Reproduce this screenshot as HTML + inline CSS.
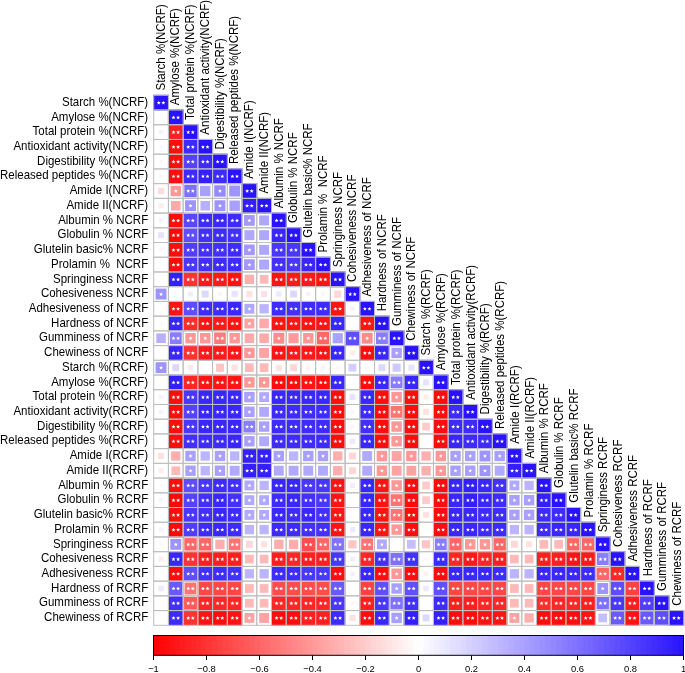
<!DOCTYPE html>
<html><head><meta charset="utf-8"><style>
html,body{margin:0;padding:0;background:#fff;}
body{width:685px;height:673px;overflow:hidden;position:relative;}
svg{position:absolute;left:0;top:0;will-change:transform;}
text{font-family:"Liberation Sans",sans-serif;}
</style></head><body>
<svg width="685" height="673" viewBox="0 0 685 673">

<g fill="#fff" stroke="none"><rect x="153.70" y="95.30" width="14.72" height="14.72"/><rect x="153.70" y="110.02" width="14.72" height="14.72"/><rect x="168.42" y="110.02" width="14.72" height="14.72"/><rect x="153.70" y="124.74" width="14.72" height="14.72"/><rect x="168.42" y="124.74" width="14.72" height="14.72"/><rect x="183.14" y="124.74" width="14.72" height="14.72"/><rect x="153.70" y="139.47" width="14.72" height="14.72"/><rect x="168.42" y="139.47" width="14.72" height="14.72"/><rect x="183.14" y="139.47" width="14.72" height="14.72"/><rect x="197.87" y="139.47" width="14.72" height="14.72"/><rect x="153.70" y="154.19" width="14.72" height="14.72"/><rect x="168.42" y="154.19" width="14.72" height="14.72"/><rect x="183.14" y="154.19" width="14.72" height="14.72"/><rect x="197.87" y="154.19" width="14.72" height="14.72"/><rect x="212.59" y="154.19" width="14.72" height="14.72"/><rect x="153.70" y="168.91" width="14.72" height="14.72"/><rect x="168.42" y="168.91" width="14.72" height="14.72"/><rect x="183.14" y="168.91" width="14.72" height="14.72"/><rect x="197.87" y="168.91" width="14.72" height="14.72"/><rect x="212.59" y="168.91" width="14.72" height="14.72"/><rect x="227.31" y="168.91" width="14.72" height="14.72"/><rect x="153.70" y="183.63" width="14.72" height="14.72"/><rect x="168.42" y="183.63" width="14.72" height="14.72"/><rect x="183.14" y="183.63" width="14.72" height="14.72"/><rect x="197.87" y="183.63" width="14.72" height="14.72"/><rect x="212.59" y="183.63" width="14.72" height="14.72"/><rect x="227.31" y="183.63" width="14.72" height="14.72"/><rect x="242.03" y="183.63" width="14.72" height="14.72"/><rect x="153.70" y="198.36" width="14.72" height="14.72"/><rect x="168.42" y="198.36" width="14.72" height="14.72"/><rect x="183.14" y="198.36" width="14.72" height="14.72"/><rect x="197.87" y="198.36" width="14.72" height="14.72"/><rect x="212.59" y="198.36" width="14.72" height="14.72"/><rect x="227.31" y="198.36" width="14.72" height="14.72"/><rect x="242.03" y="198.36" width="14.72" height="14.72"/><rect x="256.76" y="198.36" width="14.72" height="14.72"/><rect x="153.70" y="213.08" width="14.72" height="14.72"/><rect x="168.42" y="213.08" width="14.72" height="14.72"/><rect x="183.14" y="213.08" width="14.72" height="14.72"/><rect x="197.87" y="213.08" width="14.72" height="14.72"/><rect x="212.59" y="213.08" width="14.72" height="14.72"/><rect x="227.31" y="213.08" width="14.72" height="14.72"/><rect x="242.03" y="213.08" width="14.72" height="14.72"/><rect x="256.76" y="213.08" width="14.72" height="14.72"/><rect x="271.48" y="213.08" width="14.72" height="14.72"/><rect x="153.70" y="227.80" width="14.72" height="14.72"/><rect x="168.42" y="227.80" width="14.72" height="14.72"/><rect x="183.14" y="227.80" width="14.72" height="14.72"/><rect x="197.87" y="227.80" width="14.72" height="14.72"/><rect x="212.59" y="227.80" width="14.72" height="14.72"/><rect x="227.31" y="227.80" width="14.72" height="14.72"/><rect x="242.03" y="227.80" width="14.72" height="14.72"/><rect x="256.76" y="227.80" width="14.72" height="14.72"/><rect x="271.48" y="227.80" width="14.72" height="14.72"/><rect x="286.20" y="227.80" width="14.72" height="14.72"/><rect x="153.70" y="242.52" width="14.72" height="14.72"/><rect x="168.42" y="242.52" width="14.72" height="14.72"/><rect x="183.14" y="242.52" width="14.72" height="14.72"/><rect x="197.87" y="242.52" width="14.72" height="14.72"/><rect x="212.59" y="242.52" width="14.72" height="14.72"/><rect x="227.31" y="242.52" width="14.72" height="14.72"/><rect x="242.03" y="242.52" width="14.72" height="14.72"/><rect x="256.76" y="242.52" width="14.72" height="14.72"/><rect x="271.48" y="242.52" width="14.72" height="14.72"/><rect x="286.20" y="242.52" width="14.72" height="14.72"/><rect x="300.92" y="242.52" width="14.72" height="14.72"/><rect x="153.70" y="257.24" width="14.72" height="14.72"/><rect x="168.42" y="257.24" width="14.72" height="14.72"/><rect x="183.14" y="257.24" width="14.72" height="14.72"/><rect x="197.87" y="257.24" width="14.72" height="14.72"/><rect x="212.59" y="257.24" width="14.72" height="14.72"/><rect x="227.31" y="257.24" width="14.72" height="14.72"/><rect x="242.03" y="257.24" width="14.72" height="14.72"/><rect x="256.76" y="257.24" width="14.72" height="14.72"/><rect x="271.48" y="257.24" width="14.72" height="14.72"/><rect x="286.20" y="257.24" width="14.72" height="14.72"/><rect x="300.92" y="257.24" width="14.72" height="14.72"/><rect x="315.64" y="257.24" width="14.72" height="14.72"/><rect x="153.70" y="271.97" width="14.72" height="14.72"/><rect x="168.42" y="271.97" width="14.72" height="14.72"/><rect x="183.14" y="271.97" width="14.72" height="14.72"/><rect x="197.87" y="271.97" width="14.72" height="14.72"/><rect x="212.59" y="271.97" width="14.72" height="14.72"/><rect x="227.31" y="271.97" width="14.72" height="14.72"/><rect x="242.03" y="271.97" width="14.72" height="14.72"/><rect x="256.76" y="271.97" width="14.72" height="14.72"/><rect x="271.48" y="271.97" width="14.72" height="14.72"/><rect x="286.20" y="271.97" width="14.72" height="14.72"/><rect x="300.92" y="271.97" width="14.72" height="14.72"/><rect x="315.64" y="271.97" width="14.72" height="14.72"/><rect x="330.37" y="271.97" width="14.72" height="14.72"/><rect x="153.70" y="286.69" width="14.72" height="14.72"/><rect x="168.42" y="286.69" width="14.72" height="14.72"/><rect x="183.14" y="286.69" width="14.72" height="14.72"/><rect x="197.87" y="286.69" width="14.72" height="14.72"/><rect x="212.59" y="286.69" width="14.72" height="14.72"/><rect x="227.31" y="286.69" width="14.72" height="14.72"/><rect x="242.03" y="286.69" width="14.72" height="14.72"/><rect x="256.76" y="286.69" width="14.72" height="14.72"/><rect x="271.48" y="286.69" width="14.72" height="14.72"/><rect x="286.20" y="286.69" width="14.72" height="14.72"/><rect x="300.92" y="286.69" width="14.72" height="14.72"/><rect x="315.64" y="286.69" width="14.72" height="14.72"/><rect x="330.37" y="286.69" width="14.72" height="14.72"/><rect x="345.09" y="286.69" width="14.72" height="14.72"/><rect x="153.70" y="301.41" width="14.72" height="14.72"/><rect x="168.42" y="301.41" width="14.72" height="14.72"/><rect x="183.14" y="301.41" width="14.72" height="14.72"/><rect x="197.87" y="301.41" width="14.72" height="14.72"/><rect x="212.59" y="301.41" width="14.72" height="14.72"/><rect x="227.31" y="301.41" width="14.72" height="14.72"/><rect x="242.03" y="301.41" width="14.72" height="14.72"/><rect x="256.76" y="301.41" width="14.72" height="14.72"/><rect x="271.48" y="301.41" width="14.72" height="14.72"/><rect x="286.20" y="301.41" width="14.72" height="14.72"/><rect x="300.92" y="301.41" width="14.72" height="14.72"/><rect x="315.64" y="301.41" width="14.72" height="14.72"/><rect x="330.37" y="301.41" width="14.72" height="14.72"/><rect x="345.09" y="301.41" width="14.72" height="14.72"/><rect x="359.81" y="301.41" width="14.72" height="14.72"/><rect x="153.70" y="316.13" width="14.72" height="14.72"/><rect x="168.42" y="316.13" width="14.72" height="14.72"/><rect x="183.14" y="316.13" width="14.72" height="14.72"/><rect x="197.87" y="316.13" width="14.72" height="14.72"/><rect x="212.59" y="316.13" width="14.72" height="14.72"/><rect x="227.31" y="316.13" width="14.72" height="14.72"/><rect x="242.03" y="316.13" width="14.72" height="14.72"/><rect x="256.76" y="316.13" width="14.72" height="14.72"/><rect x="271.48" y="316.13" width="14.72" height="14.72"/><rect x="286.20" y="316.13" width="14.72" height="14.72"/><rect x="300.92" y="316.13" width="14.72" height="14.72"/><rect x="315.64" y="316.13" width="14.72" height="14.72"/><rect x="330.37" y="316.13" width="14.72" height="14.72"/><rect x="345.09" y="316.13" width="14.72" height="14.72"/><rect x="359.81" y="316.13" width="14.72" height="14.72"/><rect x="374.53" y="316.13" width="14.72" height="14.72"/><rect x="153.70" y="330.86" width="14.72" height="14.72"/><rect x="168.42" y="330.86" width="14.72" height="14.72"/><rect x="183.14" y="330.86" width="14.72" height="14.72"/><rect x="197.87" y="330.86" width="14.72" height="14.72"/><rect x="212.59" y="330.86" width="14.72" height="14.72"/><rect x="227.31" y="330.86" width="14.72" height="14.72"/><rect x="242.03" y="330.86" width="14.72" height="14.72"/><rect x="256.76" y="330.86" width="14.72" height="14.72"/><rect x="271.48" y="330.86" width="14.72" height="14.72"/><rect x="286.20" y="330.86" width="14.72" height="14.72"/><rect x="300.92" y="330.86" width="14.72" height="14.72"/><rect x="315.64" y="330.86" width="14.72" height="14.72"/><rect x="330.37" y="330.86" width="14.72" height="14.72"/><rect x="345.09" y="330.86" width="14.72" height="14.72"/><rect x="359.81" y="330.86" width="14.72" height="14.72"/><rect x="374.53" y="330.86" width="14.72" height="14.72"/><rect x="389.26" y="330.86" width="14.72" height="14.72"/><rect x="153.70" y="345.58" width="14.72" height="14.72"/><rect x="168.42" y="345.58" width="14.72" height="14.72"/><rect x="183.14" y="345.58" width="14.72" height="14.72"/><rect x="197.87" y="345.58" width="14.72" height="14.72"/><rect x="212.59" y="345.58" width="14.72" height="14.72"/><rect x="227.31" y="345.58" width="14.72" height="14.72"/><rect x="242.03" y="345.58" width="14.72" height="14.72"/><rect x="256.76" y="345.58" width="14.72" height="14.72"/><rect x="271.48" y="345.58" width="14.72" height="14.72"/><rect x="286.20" y="345.58" width="14.72" height="14.72"/><rect x="300.92" y="345.58" width="14.72" height="14.72"/><rect x="315.64" y="345.58" width="14.72" height="14.72"/><rect x="330.37" y="345.58" width="14.72" height="14.72"/><rect x="345.09" y="345.58" width="14.72" height="14.72"/><rect x="359.81" y="345.58" width="14.72" height="14.72"/><rect x="374.53" y="345.58" width="14.72" height="14.72"/><rect x="389.26" y="345.58" width="14.72" height="14.72"/><rect x="403.98" y="345.58" width="14.72" height="14.72"/><rect x="153.70" y="360.30" width="14.72" height="14.72"/><rect x="168.42" y="360.30" width="14.72" height="14.72"/><rect x="183.14" y="360.30" width="14.72" height="14.72"/><rect x="197.87" y="360.30" width="14.72" height="14.72"/><rect x="212.59" y="360.30" width="14.72" height="14.72"/><rect x="227.31" y="360.30" width="14.72" height="14.72"/><rect x="242.03" y="360.30" width="14.72" height="14.72"/><rect x="256.76" y="360.30" width="14.72" height="14.72"/><rect x="271.48" y="360.30" width="14.72" height="14.72"/><rect x="286.20" y="360.30" width="14.72" height="14.72"/><rect x="300.92" y="360.30" width="14.72" height="14.72"/><rect x="315.64" y="360.30" width="14.72" height="14.72"/><rect x="330.37" y="360.30" width="14.72" height="14.72"/><rect x="345.09" y="360.30" width="14.72" height="14.72"/><rect x="359.81" y="360.30" width="14.72" height="14.72"/><rect x="374.53" y="360.30" width="14.72" height="14.72"/><rect x="389.26" y="360.30" width="14.72" height="14.72"/><rect x="403.98" y="360.30" width="14.72" height="14.72"/><rect x="418.70" y="360.30" width="14.72" height="14.72"/><rect x="153.70" y="375.02" width="14.72" height="14.72"/><rect x="168.42" y="375.02" width="14.72" height="14.72"/><rect x="183.14" y="375.02" width="14.72" height="14.72"/><rect x="197.87" y="375.02" width="14.72" height="14.72"/><rect x="212.59" y="375.02" width="14.72" height="14.72"/><rect x="227.31" y="375.02" width="14.72" height="14.72"/><rect x="242.03" y="375.02" width="14.72" height="14.72"/><rect x="256.76" y="375.02" width="14.72" height="14.72"/><rect x="271.48" y="375.02" width="14.72" height="14.72"/><rect x="286.20" y="375.02" width="14.72" height="14.72"/><rect x="300.92" y="375.02" width="14.72" height="14.72"/><rect x="315.64" y="375.02" width="14.72" height="14.72"/><rect x="330.37" y="375.02" width="14.72" height="14.72"/><rect x="345.09" y="375.02" width="14.72" height="14.72"/><rect x="359.81" y="375.02" width="14.72" height="14.72"/><rect x="374.53" y="375.02" width="14.72" height="14.72"/><rect x="389.26" y="375.02" width="14.72" height="14.72"/><rect x="403.98" y="375.02" width="14.72" height="14.72"/><rect x="418.70" y="375.02" width="14.72" height="14.72"/><rect x="433.42" y="375.02" width="14.72" height="14.72"/><rect x="153.70" y="389.74" width="14.72" height="14.72"/><rect x="168.42" y="389.74" width="14.72" height="14.72"/><rect x="183.14" y="389.74" width="14.72" height="14.72"/><rect x="197.87" y="389.74" width="14.72" height="14.72"/><rect x="212.59" y="389.74" width="14.72" height="14.72"/><rect x="227.31" y="389.74" width="14.72" height="14.72"/><rect x="242.03" y="389.74" width="14.72" height="14.72"/><rect x="256.76" y="389.74" width="14.72" height="14.72"/><rect x="271.48" y="389.74" width="14.72" height="14.72"/><rect x="286.20" y="389.74" width="14.72" height="14.72"/><rect x="300.92" y="389.74" width="14.72" height="14.72"/><rect x="315.64" y="389.74" width="14.72" height="14.72"/><rect x="330.37" y="389.74" width="14.72" height="14.72"/><rect x="345.09" y="389.74" width="14.72" height="14.72"/><rect x="359.81" y="389.74" width="14.72" height="14.72"/><rect x="374.53" y="389.74" width="14.72" height="14.72"/><rect x="389.26" y="389.74" width="14.72" height="14.72"/><rect x="403.98" y="389.74" width="14.72" height="14.72"/><rect x="418.70" y="389.74" width="14.72" height="14.72"/><rect x="433.42" y="389.74" width="14.72" height="14.72"/><rect x="448.14" y="389.74" width="14.72" height="14.72"/><rect x="153.70" y="404.47" width="14.72" height="14.72"/><rect x="168.42" y="404.47" width="14.72" height="14.72"/><rect x="183.14" y="404.47" width="14.72" height="14.72"/><rect x="197.87" y="404.47" width="14.72" height="14.72"/><rect x="212.59" y="404.47" width="14.72" height="14.72"/><rect x="227.31" y="404.47" width="14.72" height="14.72"/><rect x="242.03" y="404.47" width="14.72" height="14.72"/><rect x="256.76" y="404.47" width="14.72" height="14.72"/><rect x="271.48" y="404.47" width="14.72" height="14.72"/><rect x="286.20" y="404.47" width="14.72" height="14.72"/><rect x="300.92" y="404.47" width="14.72" height="14.72"/><rect x="315.64" y="404.47" width="14.72" height="14.72"/><rect x="330.37" y="404.47" width="14.72" height="14.72"/><rect x="345.09" y="404.47" width="14.72" height="14.72"/><rect x="359.81" y="404.47" width="14.72" height="14.72"/><rect x="374.53" y="404.47" width="14.72" height="14.72"/><rect x="389.26" y="404.47" width="14.72" height="14.72"/><rect x="403.98" y="404.47" width="14.72" height="14.72"/><rect x="418.70" y="404.47" width="14.72" height="14.72"/><rect x="433.42" y="404.47" width="14.72" height="14.72"/><rect x="448.14" y="404.47" width="14.72" height="14.72"/><rect x="462.87" y="404.47" width="14.72" height="14.72"/><rect x="153.70" y="419.19" width="14.72" height="14.72"/><rect x="168.42" y="419.19" width="14.72" height="14.72"/><rect x="183.14" y="419.19" width="14.72" height="14.72"/><rect x="197.87" y="419.19" width="14.72" height="14.72"/><rect x="212.59" y="419.19" width="14.72" height="14.72"/><rect x="227.31" y="419.19" width="14.72" height="14.72"/><rect x="242.03" y="419.19" width="14.72" height="14.72"/><rect x="256.76" y="419.19" width="14.72" height="14.72"/><rect x="271.48" y="419.19" width="14.72" height="14.72"/><rect x="286.20" y="419.19" width="14.72" height="14.72"/><rect x="300.92" y="419.19" width="14.72" height="14.72"/><rect x="315.64" y="419.19" width="14.72" height="14.72"/><rect x="330.37" y="419.19" width="14.72" height="14.72"/><rect x="345.09" y="419.19" width="14.72" height="14.72"/><rect x="359.81" y="419.19" width="14.72" height="14.72"/><rect x="374.53" y="419.19" width="14.72" height="14.72"/><rect x="389.26" y="419.19" width="14.72" height="14.72"/><rect x="403.98" y="419.19" width="14.72" height="14.72"/><rect x="418.70" y="419.19" width="14.72" height="14.72"/><rect x="433.42" y="419.19" width="14.72" height="14.72"/><rect x="448.14" y="419.19" width="14.72" height="14.72"/><rect x="462.87" y="419.19" width="14.72" height="14.72"/><rect x="477.59" y="419.19" width="14.72" height="14.72"/><rect x="153.70" y="433.91" width="14.72" height="14.72"/><rect x="168.42" y="433.91" width="14.72" height="14.72"/><rect x="183.14" y="433.91" width="14.72" height="14.72"/><rect x="197.87" y="433.91" width="14.72" height="14.72"/><rect x="212.59" y="433.91" width="14.72" height="14.72"/><rect x="227.31" y="433.91" width="14.72" height="14.72"/><rect x="242.03" y="433.91" width="14.72" height="14.72"/><rect x="256.76" y="433.91" width="14.72" height="14.72"/><rect x="271.48" y="433.91" width="14.72" height="14.72"/><rect x="286.20" y="433.91" width="14.72" height="14.72"/><rect x="300.92" y="433.91" width="14.72" height="14.72"/><rect x="315.64" y="433.91" width="14.72" height="14.72"/><rect x="330.37" y="433.91" width="14.72" height="14.72"/><rect x="345.09" y="433.91" width="14.72" height="14.72"/><rect x="359.81" y="433.91" width="14.72" height="14.72"/><rect x="374.53" y="433.91" width="14.72" height="14.72"/><rect x="389.26" y="433.91" width="14.72" height="14.72"/><rect x="403.98" y="433.91" width="14.72" height="14.72"/><rect x="418.70" y="433.91" width="14.72" height="14.72"/><rect x="433.42" y="433.91" width="14.72" height="14.72"/><rect x="448.14" y="433.91" width="14.72" height="14.72"/><rect x="462.87" y="433.91" width="14.72" height="14.72"/><rect x="477.59" y="433.91" width="14.72" height="14.72"/><rect x="492.31" y="433.91" width="14.72" height="14.72"/><rect x="153.70" y="448.63" width="14.72" height="14.72"/><rect x="168.42" y="448.63" width="14.72" height="14.72"/><rect x="183.14" y="448.63" width="14.72" height="14.72"/><rect x="197.87" y="448.63" width="14.72" height="14.72"/><rect x="212.59" y="448.63" width="14.72" height="14.72"/><rect x="227.31" y="448.63" width="14.72" height="14.72"/><rect x="242.03" y="448.63" width="14.72" height="14.72"/><rect x="256.76" y="448.63" width="14.72" height="14.72"/><rect x="271.48" y="448.63" width="14.72" height="14.72"/><rect x="286.20" y="448.63" width="14.72" height="14.72"/><rect x="300.92" y="448.63" width="14.72" height="14.72"/><rect x="315.64" y="448.63" width="14.72" height="14.72"/><rect x="330.37" y="448.63" width="14.72" height="14.72"/><rect x="345.09" y="448.63" width="14.72" height="14.72"/><rect x="359.81" y="448.63" width="14.72" height="14.72"/><rect x="374.53" y="448.63" width="14.72" height="14.72"/><rect x="389.26" y="448.63" width="14.72" height="14.72"/><rect x="403.98" y="448.63" width="14.72" height="14.72"/><rect x="418.70" y="448.63" width="14.72" height="14.72"/><rect x="433.42" y="448.63" width="14.72" height="14.72"/><rect x="448.14" y="448.63" width="14.72" height="14.72"/><rect x="462.87" y="448.63" width="14.72" height="14.72"/><rect x="477.59" y="448.63" width="14.72" height="14.72"/><rect x="492.31" y="448.63" width="14.72" height="14.72"/><rect x="507.03" y="448.63" width="14.72" height="14.72"/><rect x="153.70" y="463.36" width="14.72" height="14.72"/><rect x="168.42" y="463.36" width="14.72" height="14.72"/><rect x="183.14" y="463.36" width="14.72" height="14.72"/><rect x="197.87" y="463.36" width="14.72" height="14.72"/><rect x="212.59" y="463.36" width="14.72" height="14.72"/><rect x="227.31" y="463.36" width="14.72" height="14.72"/><rect x="242.03" y="463.36" width="14.72" height="14.72"/><rect x="256.76" y="463.36" width="14.72" height="14.72"/><rect x="271.48" y="463.36" width="14.72" height="14.72"/><rect x="286.20" y="463.36" width="14.72" height="14.72"/><rect x="300.92" y="463.36" width="14.72" height="14.72"/><rect x="315.64" y="463.36" width="14.72" height="14.72"/><rect x="330.37" y="463.36" width="14.72" height="14.72"/><rect x="345.09" y="463.36" width="14.72" height="14.72"/><rect x="359.81" y="463.36" width="14.72" height="14.72"/><rect x="374.53" y="463.36" width="14.72" height="14.72"/><rect x="389.26" y="463.36" width="14.72" height="14.72"/><rect x="403.98" y="463.36" width="14.72" height="14.72"/><rect x="418.70" y="463.36" width="14.72" height="14.72"/><rect x="433.42" y="463.36" width="14.72" height="14.72"/><rect x="448.14" y="463.36" width="14.72" height="14.72"/><rect x="462.87" y="463.36" width="14.72" height="14.72"/><rect x="477.59" y="463.36" width="14.72" height="14.72"/><rect x="492.31" y="463.36" width="14.72" height="14.72"/><rect x="507.03" y="463.36" width="14.72" height="14.72"/><rect x="521.76" y="463.36" width="14.72" height="14.72"/><rect x="153.70" y="478.08" width="14.72" height="14.72"/><rect x="168.42" y="478.08" width="14.72" height="14.72"/><rect x="183.14" y="478.08" width="14.72" height="14.72"/><rect x="197.87" y="478.08" width="14.72" height="14.72"/><rect x="212.59" y="478.08" width="14.72" height="14.72"/><rect x="227.31" y="478.08" width="14.72" height="14.72"/><rect x="242.03" y="478.08" width="14.72" height="14.72"/><rect x="256.76" y="478.08" width="14.72" height="14.72"/><rect x="271.48" y="478.08" width="14.72" height="14.72"/><rect x="286.20" y="478.08" width="14.72" height="14.72"/><rect x="300.92" y="478.08" width="14.72" height="14.72"/><rect x="315.64" y="478.08" width="14.72" height="14.72"/><rect x="330.37" y="478.08" width="14.72" height="14.72"/><rect x="345.09" y="478.08" width="14.72" height="14.72"/><rect x="359.81" y="478.08" width="14.72" height="14.72"/><rect x="374.53" y="478.08" width="14.72" height="14.72"/><rect x="389.26" y="478.08" width="14.72" height="14.72"/><rect x="403.98" y="478.08" width="14.72" height="14.72"/><rect x="418.70" y="478.08" width="14.72" height="14.72"/><rect x="433.42" y="478.08" width="14.72" height="14.72"/><rect x="448.14" y="478.08" width="14.72" height="14.72"/><rect x="462.87" y="478.08" width="14.72" height="14.72"/><rect x="477.59" y="478.08" width="14.72" height="14.72"/><rect x="492.31" y="478.08" width="14.72" height="14.72"/><rect x="507.03" y="478.08" width="14.72" height="14.72"/><rect x="521.76" y="478.08" width="14.72" height="14.72"/><rect x="536.48" y="478.08" width="14.72" height="14.72"/><rect x="153.70" y="492.80" width="14.72" height="14.72"/><rect x="168.42" y="492.80" width="14.72" height="14.72"/><rect x="183.14" y="492.80" width="14.72" height="14.72"/><rect x="197.87" y="492.80" width="14.72" height="14.72"/><rect x="212.59" y="492.80" width="14.72" height="14.72"/><rect x="227.31" y="492.80" width="14.72" height="14.72"/><rect x="242.03" y="492.80" width="14.72" height="14.72"/><rect x="256.76" y="492.80" width="14.72" height="14.72"/><rect x="271.48" y="492.80" width="14.72" height="14.72"/><rect x="286.20" y="492.80" width="14.72" height="14.72"/><rect x="300.92" y="492.80" width="14.72" height="14.72"/><rect x="315.64" y="492.80" width="14.72" height="14.72"/><rect x="330.37" y="492.80" width="14.72" height="14.72"/><rect x="345.09" y="492.80" width="14.72" height="14.72"/><rect x="359.81" y="492.80" width="14.72" height="14.72"/><rect x="374.53" y="492.80" width="14.72" height="14.72"/><rect x="389.26" y="492.80" width="14.72" height="14.72"/><rect x="403.98" y="492.80" width="14.72" height="14.72"/><rect x="418.70" y="492.80" width="14.72" height="14.72"/><rect x="433.42" y="492.80" width="14.72" height="14.72"/><rect x="448.14" y="492.80" width="14.72" height="14.72"/><rect x="462.87" y="492.80" width="14.72" height="14.72"/><rect x="477.59" y="492.80" width="14.72" height="14.72"/><rect x="492.31" y="492.80" width="14.72" height="14.72"/><rect x="507.03" y="492.80" width="14.72" height="14.72"/><rect x="521.76" y="492.80" width="14.72" height="14.72"/><rect x="536.48" y="492.80" width="14.72" height="14.72"/><rect x="551.20" y="492.80" width="14.72" height="14.72"/><rect x="153.70" y="507.52" width="14.72" height="14.72"/><rect x="168.42" y="507.52" width="14.72" height="14.72"/><rect x="183.14" y="507.52" width="14.72" height="14.72"/><rect x="197.87" y="507.52" width="14.72" height="14.72"/><rect x="212.59" y="507.52" width="14.72" height="14.72"/><rect x="227.31" y="507.52" width="14.72" height="14.72"/><rect x="242.03" y="507.52" width="14.72" height="14.72"/><rect x="256.76" y="507.52" width="14.72" height="14.72"/><rect x="271.48" y="507.52" width="14.72" height="14.72"/><rect x="286.20" y="507.52" width="14.72" height="14.72"/><rect x="300.92" y="507.52" width="14.72" height="14.72"/><rect x="315.64" y="507.52" width="14.72" height="14.72"/><rect x="330.37" y="507.52" width="14.72" height="14.72"/><rect x="345.09" y="507.52" width="14.72" height="14.72"/><rect x="359.81" y="507.52" width="14.72" height="14.72"/><rect x="374.53" y="507.52" width="14.72" height="14.72"/><rect x="389.26" y="507.52" width="14.72" height="14.72"/><rect x="403.98" y="507.52" width="14.72" height="14.72"/><rect x="418.70" y="507.52" width="14.72" height="14.72"/><rect x="433.42" y="507.52" width="14.72" height="14.72"/><rect x="448.14" y="507.52" width="14.72" height="14.72"/><rect x="462.87" y="507.52" width="14.72" height="14.72"/><rect x="477.59" y="507.52" width="14.72" height="14.72"/><rect x="492.31" y="507.52" width="14.72" height="14.72"/><rect x="507.03" y="507.52" width="14.72" height="14.72"/><rect x="521.76" y="507.52" width="14.72" height="14.72"/><rect x="536.48" y="507.52" width="14.72" height="14.72"/><rect x="551.20" y="507.52" width="14.72" height="14.72"/><rect x="565.92" y="507.52" width="14.72" height="14.72"/><rect x="153.70" y="522.24" width="14.72" height="14.72"/><rect x="168.42" y="522.24" width="14.72" height="14.72"/><rect x="183.14" y="522.24" width="14.72" height="14.72"/><rect x="197.87" y="522.24" width="14.72" height="14.72"/><rect x="212.59" y="522.24" width="14.72" height="14.72"/><rect x="227.31" y="522.24" width="14.72" height="14.72"/><rect x="242.03" y="522.24" width="14.72" height="14.72"/><rect x="256.76" y="522.24" width="14.72" height="14.72"/><rect x="271.48" y="522.24" width="14.72" height="14.72"/><rect x="286.20" y="522.24" width="14.72" height="14.72"/><rect x="300.92" y="522.24" width="14.72" height="14.72"/><rect x="315.64" y="522.24" width="14.72" height="14.72"/><rect x="330.37" y="522.24" width="14.72" height="14.72"/><rect x="345.09" y="522.24" width="14.72" height="14.72"/><rect x="359.81" y="522.24" width="14.72" height="14.72"/><rect x="374.53" y="522.24" width="14.72" height="14.72"/><rect x="389.26" y="522.24" width="14.72" height="14.72"/><rect x="403.98" y="522.24" width="14.72" height="14.72"/><rect x="418.70" y="522.24" width="14.72" height="14.72"/><rect x="433.42" y="522.24" width="14.72" height="14.72"/><rect x="448.14" y="522.24" width="14.72" height="14.72"/><rect x="462.87" y="522.24" width="14.72" height="14.72"/><rect x="477.59" y="522.24" width="14.72" height="14.72"/><rect x="492.31" y="522.24" width="14.72" height="14.72"/><rect x="507.03" y="522.24" width="14.72" height="14.72"/><rect x="521.76" y="522.24" width="14.72" height="14.72"/><rect x="536.48" y="522.24" width="14.72" height="14.72"/><rect x="551.20" y="522.24" width="14.72" height="14.72"/><rect x="565.92" y="522.24" width="14.72" height="14.72"/><rect x="580.64" y="522.24" width="14.72" height="14.72"/><rect x="153.70" y="536.97" width="14.72" height="14.72"/><rect x="168.42" y="536.97" width="14.72" height="14.72"/><rect x="183.14" y="536.97" width="14.72" height="14.72"/><rect x="197.87" y="536.97" width="14.72" height="14.72"/><rect x="212.59" y="536.97" width="14.72" height="14.72"/><rect x="227.31" y="536.97" width="14.72" height="14.72"/><rect x="242.03" y="536.97" width="14.72" height="14.72"/><rect x="256.76" y="536.97" width="14.72" height="14.72"/><rect x="271.48" y="536.97" width="14.72" height="14.72"/><rect x="286.20" y="536.97" width="14.72" height="14.72"/><rect x="300.92" y="536.97" width="14.72" height="14.72"/><rect x="315.64" y="536.97" width="14.72" height="14.72"/><rect x="330.37" y="536.97" width="14.72" height="14.72"/><rect x="345.09" y="536.97" width="14.72" height="14.72"/><rect x="359.81" y="536.97" width="14.72" height="14.72"/><rect x="374.53" y="536.97" width="14.72" height="14.72"/><rect x="389.26" y="536.97" width="14.72" height="14.72"/><rect x="403.98" y="536.97" width="14.72" height="14.72"/><rect x="418.70" y="536.97" width="14.72" height="14.72"/><rect x="433.42" y="536.97" width="14.72" height="14.72"/><rect x="448.14" y="536.97" width="14.72" height="14.72"/><rect x="462.87" y="536.97" width="14.72" height="14.72"/><rect x="477.59" y="536.97" width="14.72" height="14.72"/><rect x="492.31" y="536.97" width="14.72" height="14.72"/><rect x="507.03" y="536.97" width="14.72" height="14.72"/><rect x="521.76" y="536.97" width="14.72" height="14.72"/><rect x="536.48" y="536.97" width="14.72" height="14.72"/><rect x="551.20" y="536.97" width="14.72" height="14.72"/><rect x="565.92" y="536.97" width="14.72" height="14.72"/><rect x="580.64" y="536.97" width="14.72" height="14.72"/><rect x="595.37" y="536.97" width="14.72" height="14.72"/><rect x="153.70" y="551.69" width="14.72" height="14.72"/><rect x="168.42" y="551.69" width="14.72" height="14.72"/><rect x="183.14" y="551.69" width="14.72" height="14.72"/><rect x="197.87" y="551.69" width="14.72" height="14.72"/><rect x="212.59" y="551.69" width="14.72" height="14.72"/><rect x="227.31" y="551.69" width="14.72" height="14.72"/><rect x="242.03" y="551.69" width="14.72" height="14.72"/><rect x="256.76" y="551.69" width="14.72" height="14.72"/><rect x="271.48" y="551.69" width="14.72" height="14.72"/><rect x="286.20" y="551.69" width="14.72" height="14.72"/><rect x="300.92" y="551.69" width="14.72" height="14.72"/><rect x="315.64" y="551.69" width="14.72" height="14.72"/><rect x="330.37" y="551.69" width="14.72" height="14.72"/><rect x="345.09" y="551.69" width="14.72" height="14.72"/><rect x="359.81" y="551.69" width="14.72" height="14.72"/><rect x="374.53" y="551.69" width="14.72" height="14.72"/><rect x="389.26" y="551.69" width="14.72" height="14.72"/><rect x="403.98" y="551.69" width="14.72" height="14.72"/><rect x="418.70" y="551.69" width="14.72" height="14.72"/><rect x="433.42" y="551.69" width="14.72" height="14.72"/><rect x="448.14" y="551.69" width="14.72" height="14.72"/><rect x="462.87" y="551.69" width="14.72" height="14.72"/><rect x="477.59" y="551.69" width="14.72" height="14.72"/><rect x="492.31" y="551.69" width="14.72" height="14.72"/><rect x="507.03" y="551.69" width="14.72" height="14.72"/><rect x="521.76" y="551.69" width="14.72" height="14.72"/><rect x="536.48" y="551.69" width="14.72" height="14.72"/><rect x="551.20" y="551.69" width="14.72" height="14.72"/><rect x="565.92" y="551.69" width="14.72" height="14.72"/><rect x="580.64" y="551.69" width="14.72" height="14.72"/><rect x="595.37" y="551.69" width="14.72" height="14.72"/><rect x="610.09" y="551.69" width="14.72" height="14.72"/><rect x="153.70" y="566.41" width="14.72" height="14.72"/><rect x="168.42" y="566.41" width="14.72" height="14.72"/><rect x="183.14" y="566.41" width="14.72" height="14.72"/><rect x="197.87" y="566.41" width="14.72" height="14.72"/><rect x="212.59" y="566.41" width="14.72" height="14.72"/><rect x="227.31" y="566.41" width="14.72" height="14.72"/><rect x="242.03" y="566.41" width="14.72" height="14.72"/><rect x="256.76" y="566.41" width="14.72" height="14.72"/><rect x="271.48" y="566.41" width="14.72" height="14.72"/><rect x="286.20" y="566.41" width="14.72" height="14.72"/><rect x="300.92" y="566.41" width="14.72" height="14.72"/><rect x="315.64" y="566.41" width="14.72" height="14.72"/><rect x="330.37" y="566.41" width="14.72" height="14.72"/><rect x="345.09" y="566.41" width="14.72" height="14.72"/><rect x="359.81" y="566.41" width="14.72" height="14.72"/><rect x="374.53" y="566.41" width="14.72" height="14.72"/><rect x="389.26" y="566.41" width="14.72" height="14.72"/><rect x="403.98" y="566.41" width="14.72" height="14.72"/><rect x="418.70" y="566.41" width="14.72" height="14.72"/><rect x="433.42" y="566.41" width="14.72" height="14.72"/><rect x="448.14" y="566.41" width="14.72" height="14.72"/><rect x="462.87" y="566.41" width="14.72" height="14.72"/><rect x="477.59" y="566.41" width="14.72" height="14.72"/><rect x="492.31" y="566.41" width="14.72" height="14.72"/><rect x="507.03" y="566.41" width="14.72" height="14.72"/><rect x="521.76" y="566.41" width="14.72" height="14.72"/><rect x="536.48" y="566.41" width="14.72" height="14.72"/><rect x="551.20" y="566.41" width="14.72" height="14.72"/><rect x="565.92" y="566.41" width="14.72" height="14.72"/><rect x="580.64" y="566.41" width="14.72" height="14.72"/><rect x="595.37" y="566.41" width="14.72" height="14.72"/><rect x="610.09" y="566.41" width="14.72" height="14.72"/><rect x="624.81" y="566.41" width="14.72" height="14.72"/><rect x="153.70" y="581.13" width="14.72" height="14.72"/><rect x="168.42" y="581.13" width="14.72" height="14.72"/><rect x="183.14" y="581.13" width="14.72" height="14.72"/><rect x="197.87" y="581.13" width="14.72" height="14.72"/><rect x="212.59" y="581.13" width="14.72" height="14.72"/><rect x="227.31" y="581.13" width="14.72" height="14.72"/><rect x="242.03" y="581.13" width="14.72" height="14.72"/><rect x="256.76" y="581.13" width="14.72" height="14.72"/><rect x="271.48" y="581.13" width="14.72" height="14.72"/><rect x="286.20" y="581.13" width="14.72" height="14.72"/><rect x="300.92" y="581.13" width="14.72" height="14.72"/><rect x="315.64" y="581.13" width="14.72" height="14.72"/><rect x="330.37" y="581.13" width="14.72" height="14.72"/><rect x="345.09" y="581.13" width="14.72" height="14.72"/><rect x="359.81" y="581.13" width="14.72" height="14.72"/><rect x="374.53" y="581.13" width="14.72" height="14.72"/><rect x="389.26" y="581.13" width="14.72" height="14.72"/><rect x="403.98" y="581.13" width="14.72" height="14.72"/><rect x="418.70" y="581.13" width="14.72" height="14.72"/><rect x="433.42" y="581.13" width="14.72" height="14.72"/><rect x="448.14" y="581.13" width="14.72" height="14.72"/><rect x="462.87" y="581.13" width="14.72" height="14.72"/><rect x="477.59" y="581.13" width="14.72" height="14.72"/><rect x="492.31" y="581.13" width="14.72" height="14.72"/><rect x="507.03" y="581.13" width="14.72" height="14.72"/><rect x="521.76" y="581.13" width="14.72" height="14.72"/><rect x="536.48" y="581.13" width="14.72" height="14.72"/><rect x="551.20" y="581.13" width="14.72" height="14.72"/><rect x="565.92" y="581.13" width="14.72" height="14.72"/><rect x="580.64" y="581.13" width="14.72" height="14.72"/><rect x="595.37" y="581.13" width="14.72" height="14.72"/><rect x="610.09" y="581.13" width="14.72" height="14.72"/><rect x="624.81" y="581.13" width="14.72" height="14.72"/><rect x="639.53" y="581.13" width="14.72" height="14.72"/><rect x="153.70" y="595.86" width="14.72" height="14.72"/><rect x="168.42" y="595.86" width="14.72" height="14.72"/><rect x="183.14" y="595.86" width="14.72" height="14.72"/><rect x="197.87" y="595.86" width="14.72" height="14.72"/><rect x="212.59" y="595.86" width="14.72" height="14.72"/><rect x="227.31" y="595.86" width="14.72" height="14.72"/><rect x="242.03" y="595.86" width="14.72" height="14.72"/><rect x="256.76" y="595.86" width="14.72" height="14.72"/><rect x="271.48" y="595.86" width="14.72" height="14.72"/><rect x="286.20" y="595.86" width="14.72" height="14.72"/><rect x="300.92" y="595.86" width="14.72" height="14.72"/><rect x="315.64" y="595.86" width="14.72" height="14.72"/><rect x="330.37" y="595.86" width="14.72" height="14.72"/><rect x="345.09" y="595.86" width="14.72" height="14.72"/><rect x="359.81" y="595.86" width="14.72" height="14.72"/><rect x="374.53" y="595.86" width="14.72" height="14.72"/><rect x="389.26" y="595.86" width="14.72" height="14.72"/><rect x="403.98" y="595.86" width="14.72" height="14.72"/><rect x="418.70" y="595.86" width="14.72" height="14.72"/><rect x="433.42" y="595.86" width="14.72" height="14.72"/><rect x="448.14" y="595.86" width="14.72" height="14.72"/><rect x="462.87" y="595.86" width="14.72" height="14.72"/><rect x="477.59" y="595.86" width="14.72" height="14.72"/><rect x="492.31" y="595.86" width="14.72" height="14.72"/><rect x="507.03" y="595.86" width="14.72" height="14.72"/><rect x="521.76" y="595.86" width="14.72" height="14.72"/><rect x="536.48" y="595.86" width="14.72" height="14.72"/><rect x="551.20" y="595.86" width="14.72" height="14.72"/><rect x="565.92" y="595.86" width="14.72" height="14.72"/><rect x="580.64" y="595.86" width="14.72" height="14.72"/><rect x="595.37" y="595.86" width="14.72" height="14.72"/><rect x="610.09" y="595.86" width="14.72" height="14.72"/><rect x="624.81" y="595.86" width="14.72" height="14.72"/><rect x="639.53" y="595.86" width="14.72" height="14.72"/><rect x="654.26" y="595.86" width="14.72" height="14.72"/><rect x="153.70" y="610.58" width="14.72" height="14.72"/><rect x="168.42" y="610.58" width="14.72" height="14.72"/><rect x="183.14" y="610.58" width="14.72" height="14.72"/><rect x="197.87" y="610.58" width="14.72" height="14.72"/><rect x="212.59" y="610.58" width="14.72" height="14.72"/><rect x="227.31" y="610.58" width="14.72" height="14.72"/><rect x="242.03" y="610.58" width="14.72" height="14.72"/><rect x="256.76" y="610.58" width="14.72" height="14.72"/><rect x="271.48" y="610.58" width="14.72" height="14.72"/><rect x="286.20" y="610.58" width="14.72" height="14.72"/><rect x="300.92" y="610.58" width="14.72" height="14.72"/><rect x="315.64" y="610.58" width="14.72" height="14.72"/><rect x="330.37" y="610.58" width="14.72" height="14.72"/><rect x="345.09" y="610.58" width="14.72" height="14.72"/><rect x="359.81" y="610.58" width="14.72" height="14.72"/><rect x="374.53" y="610.58" width="14.72" height="14.72"/><rect x="389.26" y="610.58" width="14.72" height="14.72"/><rect x="403.98" y="610.58" width="14.72" height="14.72"/><rect x="418.70" y="610.58" width="14.72" height="14.72"/><rect x="433.42" y="610.58" width="14.72" height="14.72"/><rect x="448.14" y="610.58" width="14.72" height="14.72"/><rect x="462.87" y="610.58" width="14.72" height="14.72"/><rect x="477.59" y="610.58" width="14.72" height="14.72"/><rect x="492.31" y="610.58" width="14.72" height="14.72"/><rect x="507.03" y="610.58" width="14.72" height="14.72"/><rect x="521.76" y="610.58" width="14.72" height="14.72"/><rect x="536.48" y="610.58" width="14.72" height="14.72"/><rect x="551.20" y="610.58" width="14.72" height="14.72"/><rect x="565.92" y="610.58" width="14.72" height="14.72"/><rect x="580.64" y="610.58" width="14.72" height="14.72"/><rect x="595.37" y="610.58" width="14.72" height="14.72"/><rect x="610.09" y="610.58" width="14.72" height="14.72"/><rect x="624.81" y="610.58" width="14.72" height="14.72"/><rect x="639.53" y="610.58" width="14.72" height="14.72"/><rect x="654.26" y="610.58" width="14.72" height="14.72"/><rect x="668.98" y="610.58" width="14.72" height="14.72"/></g>
<g stroke="none"><rect x="153.20" y="94.80" width="15.72" height="15.72" fill="#2913ff"/><rect x="159.85" y="116.17" width="2.42" height="2.42" fill="#fdfdff"/><rect x="167.92" y="109.52" width="15.72" height="15.72" fill="#2913ff"/><rect x="158.81" y="129.85" width="4.50" height="4.50" fill="#f3f2ff"/><rect x="168.42" y="124.74" width="14.73" height="14.73" fill="#ff2121"/><rect x="182.64" y="124.24" width="15.72" height="15.72" fill="#2913ff"/><rect x="159.25" y="145.01" width="3.63" height="3.63" fill="#f8f7ff"/><rect x="168.11" y="139.15" width="15.35" height="15.35" fill="#ff0d0d"/><rect x="183.02" y="139.34" width="14.97" height="14.97" fill="#3e2bff"/><rect x="197.37" y="138.97" width="15.72" height="15.72" fill="#2913ff"/><rect x="159.25" y="159.74" width="3.63" height="3.63" fill="#fff7f7"/><rect x="168.11" y="153.88" width="15.35" height="15.35" fill="#ff0d0d"/><rect x="183.42" y="154.47" width="14.17" height="14.17" fill="#5442ff"/><rect x="197.74" y="154.07" width="14.97" height="14.97" fill="#3e2bff"/><rect x="212.09" y="153.69" width="15.72" height="15.72" fill="#2913ff"/><rect x="159.25" y="174.46" width="3.63" height="3.63" fill="#f8f7ff"/><rect x="168.11" y="168.60" width="15.35" height="15.35" fill="#ff0d0d"/><rect x="183.02" y="168.79" width="14.97" height="14.97" fill="#3e2bff"/><rect x="197.55" y="168.60" width="15.35" height="15.35" fill="#341fff"/><rect x="212.47" y="168.79" width="14.97" height="14.97" fill="#3e2bff"/><rect x="226.81" y="168.41" width="15.72" height="15.72" fill="#2913ff"/><rect x="157.86" y="187.79" width="6.41" height="6.41" fill="#ffdddd"/><rect x="170.58" y="185.79" width="10.41" height="10.41" fill="#ff9797"/><rect x="184.30" y="184.79" width="12.40" height="12.40" fill="#7f71ff"/><rect x="200.02" y="185.79" width="10.41" height="10.41" fill="#a89fff"/><rect x="214.25" y="185.29" width="11.40" height="11.40" fill="#9489ff"/><rect x="229.21" y="185.54" width="10.92" height="10.92" fill="#9e94ff"/><rect x="241.53" y="183.13" width="15.72" height="15.72" fill="#2913ff"/><rect x="158.56" y="203.22" width="4.99" height="4.99" fill="#ffecec"/><rect x="171.01" y="200.95" width="9.54" height="9.54" fill="#ffa9a9"/><rect x="185.05" y="200.26" width="10.92" height="10.92" fill="#9e94ff"/><rect x="200.46" y="200.95" width="9.54" height="9.54" fill="#b7b0ff"/><rect x="214.49" y="200.26" width="10.92" height="10.92" fill="#9e94ff"/><rect x="229.47" y="200.51" width="10.41" height="10.41" fill="#a89fff"/><rect x="241.72" y="198.04" width="15.35" height="15.35" fill="#341fff"/><rect x="256.26" y="197.86" width="15.72" height="15.72" fill="#2913ff"/><rect x="158.81" y="218.19" width="4.50" height="4.50" fill="#f3f2ff"/><rect x="168.11" y="212.76" width="15.35" height="15.35" fill="#ff0d0d"/><rect x="183.50" y="213.44" width="14.00" height="14.00" fill="#5847ff"/><rect x="197.74" y="212.96" width="14.97" height="14.97" fill="#3e2bff"/><rect x="212.39" y="212.88" width="15.12" height="15.12" fill="#3a26ff"/><rect x="227.19" y="212.96" width="14.97" height="14.97" fill="#3e2bff"/><rect x="244.04" y="215.08" width="10.72" height="10.72" fill="#a298ff"/><rect x="259.12" y="215.45" width="9.98" height="9.98" fill="#afa7ff"/><rect x="270.98" y="212.58" width="15.72" height="15.72" fill="#2913ff"/><rect x="158.04" y="232.14" width="6.04" height="6.04" fill="#e6e3ff"/><rect x="168.03" y="227.41" width="15.50" height="15.50" fill="#ff0808"/><rect x="183.63" y="228.29" width="13.75" height="13.75" fill="#5e4eff"/><rect x="197.82" y="227.76" width="14.81" height="14.81" fill="#432fff"/><rect x="212.47" y="227.68" width="14.97" height="14.97" fill="#3e2bff"/><rect x="227.27" y="227.76" width="14.81" height="14.81" fill="#432fff"/><rect x="244.40" y="230.17" width="9.98" height="9.98" fill="#afa7ff"/><rect x="259.12" y="230.17" width="9.98" height="9.98" fill="#afa7ff"/><rect x="271.28" y="227.60" width="15.12" height="15.12" fill="#3a26ff"/><rect x="285.70" y="227.30" width="15.72" height="15.72" fill="#2913ff"/><rect x="159.09" y="247.91" width="3.94" height="3.94" fill="#fff5f5"/><rect x="168.11" y="242.21" width="15.35" height="15.35" fill="#ff0d0d"/><rect x="183.34" y="242.72" width="14.33" height="14.33" fill="#503dff"/><rect x="197.82" y="242.48" width="14.81" height="14.81" fill="#432fff"/><rect x="212.54" y="242.48" width="14.81" height="14.81" fill="#432fff"/><rect x="227.19" y="242.40" width="14.97" height="14.97" fill="#3e2bff"/><rect x="244.04" y="244.52" width="10.72" height="10.72" fill="#a298ff"/><rect x="259.12" y="244.89" width="9.98" height="9.98" fill="#afa7ff"/><rect x="271.55" y="242.60" width="14.57" height="14.57" fill="#4936ff"/><rect x="286.27" y="242.60" width="14.57" height="14.57" fill="#4936ff"/><rect x="300.42" y="242.02" width="15.72" height="15.72" fill="#2913ff"/><rect x="168.11" y="256.93" width="15.35" height="15.35" fill="#ff0d0d"/><rect x="183.22" y="257.32" width="14.57" height="14.57" fill="#4936ff"/><rect x="197.82" y="257.20" width="14.81" height="14.81" fill="#432fff"/><rect x="212.47" y="257.12" width="14.97" height="14.97" fill="#3e2bff"/><rect x="227.19" y="257.12" width="14.97" height="14.97" fill="#3e2bff"/><rect x="244.04" y="259.25" width="10.72" height="10.72" fill="#a298ff"/><rect x="259.12" y="259.61" width="9.98" height="9.98" fill="#afa7ff"/><rect x="271.43" y="257.20" width="14.81" height="14.81" fill="#432fff"/><rect x="286.27" y="257.32" width="14.57" height="14.57" fill="#4936ff"/><rect x="300.72" y="257.05" width="15.12" height="15.12" fill="#3a26ff"/><rect x="315.14" y="256.74" width="15.72" height="15.72" fill="#2913ff"/><rect x="168.11" y="271.65" width="15.35" height="15.35" fill="#341fff"/><rect x="183.42" y="272.24" width="14.17" height="14.17" fill="#ff3333"/><rect x="197.74" y="271.84" width="14.97" height="14.97" fill="#ff1919"/><rect x="212.47" y="271.84" width="14.97" height="14.97" fill="#ff1919"/><rect x="227.11" y="271.77" width="15.12" height="15.12" fill="#ff1414"/><rect x="244.74" y="274.67" width="9.31" height="9.31" fill="#ffaeae"/><rect x="259.76" y="274.97" width="8.71" height="8.71" fill="#ffb9b9"/><rect x="271.28" y="271.77" width="15.12" height="15.12" fill="#ff1414"/><rect x="286.08" y="271.84" width="14.97" height="14.97" fill="#ff1919"/><rect x="300.80" y="271.84" width="14.97" height="14.97" fill="#ff1919"/><rect x="315.45" y="271.77" width="15.12" height="15.12" fill="#ff1414"/><rect x="329.87" y="271.47" width="15.72" height="15.72" fill="#2913ff"/><rect x="155.60" y="288.59" width="10.92" height="10.92" fill="#9e94ff"/><rect x="174.14" y="292.41" width="3.28" height="3.28" fill="#fff9f9"/><rect x="188.01" y="291.55" width="4.99" height="4.99" fill="#efeeff"/><rect x="201.77" y="290.59" width="6.92" height="6.92" fill="#dcd9ff"/><rect x="217.98" y="292.08" width="3.94" height="3.94" fill="#f6f6ff"/><rect x="231.65" y="291.03" width="6.04" height="6.04" fill="#e6e3ff"/><rect x="246.37" y="291.03" width="6.04" height="6.04" fill="#ffe1e1"/><rect x="261.10" y="291.03" width="6.04" height="6.04" fill="#ffe1e1"/><rect x="276.12" y="291.33" width="5.44" height="5.44" fill="#eceaff"/><rect x="290.10" y="290.59" width="6.92" height="6.92" fill="#dcd9ff"/><rect x="306.03" y="291.80" width="4.50" height="4.50" fill="#f3f2ff"/><rect x="321.19" y="292.24" width="3.63" height="3.63" fill="#f8f7ff"/><rect x="334.27" y="290.59" width="6.92" height="6.92" fill="#ffd6d6"/><rect x="344.59" y="286.19" width="15.72" height="15.72" fill="#2913ff"/><rect x="168.22" y="301.21" width="15.12" height="15.12" fill="#ff1414"/><rect x="183.63" y="301.90" width="13.75" height="13.75" fill="#5e4eff"/><rect x="197.74" y="301.29" width="14.97" height="14.97" fill="#3e2bff"/><rect x="212.47" y="301.29" width="14.97" height="14.97" fill="#3e2bff"/><rect x="227.11" y="301.21" width="15.12" height="15.12" fill="#3a26ff"/><rect x="244.46" y="303.83" width="9.87" height="9.87" fill="#b1a9ff"/><rect x="259.46" y="304.12" width="9.31" height="9.31" fill="#bbb4ff"/><rect x="271.36" y="301.29" width="14.97" height="14.97" fill="#3e2bff"/><rect x="286.16" y="301.37" width="14.81" height="14.81" fill="#432fff"/><rect x="300.80" y="301.29" width="14.97" height="14.97" fill="#3e2bff"/><rect x="315.52" y="301.29" width="14.97" height="14.97" fill="#3e2bff"/><rect x="330.17" y="301.21" width="15.12" height="15.12" fill="#ff1414"/><rect x="350.20" y="306.52" width="4.50" height="4.50" fill="#f3f2ff"/><rect x="359.31" y="300.91" width="15.72" height="15.72" fill="#2913ff"/><rect x="159.25" y="321.68" width="3.63" height="3.63" fill="#fff7f7"/><rect x="168.22" y="315.93" width="15.12" height="15.12" fill="#3a26ff"/><rect x="183.34" y="316.33" width="14.33" height="14.33" fill="#ff2e2e"/><rect x="197.67" y="315.93" width="15.12" height="15.12" fill="#ff1414"/><rect x="212.47" y="316.01" width="14.97" height="14.97" fill="#ff1919"/><rect x="227.11" y="315.93" width="15.12" height="15.12" fill="#ff1414"/><rect x="244.46" y="318.56" width="9.87" height="9.87" fill="#ffa2a2"/><rect x="259.35" y="318.72" width="9.54" height="9.54" fill="#ffa9a9"/><rect x="271.28" y="315.93" width="15.12" height="15.12" fill="#ff1414"/><rect x="286.00" y="315.93" width="15.12" height="15.12" fill="#ff1414"/><rect x="300.72" y="315.93" width="15.12" height="15.12" fill="#ff1414"/><rect x="315.45" y="315.93" width="15.12" height="15.12" fill="#ff1414"/><rect x="330.17" y="315.93" width="15.12" height="15.12" fill="#3a26ff"/><rect x="351.24" y="322.28" width="2.42" height="2.42" fill="#fdfdff"/><rect x="359.61" y="315.93" width="15.12" height="15.12" fill="#ff1414"/><rect x="374.03" y="315.63" width="15.72" height="15.72" fill="#2913ff"/><rect x="156.29" y="333.45" width="9.54" height="9.54" fill="#b7b0ff"/><rect x="169.82" y="332.26" width="11.92" height="11.92" fill="#897dff"/><rect x="185.30" y="333.01" width="10.41" height="10.41" fill="#ff9797"/><rect x="200.02" y="333.01" width="10.41" height="10.41" fill="#ff9797"/><rect x="214.14" y="332.41" width="11.62" height="11.62" fill="#ff7a7a"/><rect x="229.47" y="333.01" width="10.41" height="10.41" fill="#ff9797"/><rect x="244.62" y="333.45" width="9.54" height="9.54" fill="#ffa9a9"/><rect x="259.35" y="333.45" width="9.54" height="9.54" fill="#ffa9a9"/><rect x="273.38" y="332.76" width="10.92" height="10.92" fill="#ff8b8b"/><rect x="288.46" y="333.12" width="10.20" height="10.20" fill="#ff9b9b"/><rect x="303.08" y="333.01" width="10.41" height="10.41" fill="#ff9797"/><rect x="316.80" y="332.01" width="12.40" height="12.40" fill="#ff6666"/><rect x="332.63" y="333.12" width="10.20" height="10.20" fill="#aba3ff"/><rect x="345.58" y="331.34" width="13.75" height="13.75" fill="#5e4eff"/><rect x="361.71" y="332.76" width="10.92" height="10.92" fill="#ff8b8b"/><rect x="375.94" y="332.26" width="11.92" height="11.92" fill="#897dff"/><rect x="388.76" y="330.36" width="15.72" height="15.72" fill="#2913ff"/><rect x="168.22" y="345.38" width="15.12" height="15.12" fill="#3a26ff"/><rect x="183.42" y="345.85" width="14.17" height="14.17" fill="#ff3333"/><rect x="197.74" y="345.46" width="14.97" height="14.97" fill="#ff1919"/><rect x="212.47" y="345.46" width="14.97" height="14.97" fill="#ff1919"/><rect x="227.19" y="345.46" width="14.97" height="14.97" fill="#ff1919"/><rect x="244.19" y="347.73" width="10.41" height="10.41" fill="#ff9797"/><rect x="259.18" y="348.00" width="9.87" height="9.87" fill="#ffa2a2"/><rect x="271.28" y="345.38" width="15.12" height="15.12" fill="#ff1414"/><rect x="286.08" y="345.46" width="14.97" height="14.97" fill="#ff1919"/><rect x="300.80" y="345.46" width="14.97" height="14.97" fill="#ff1919"/><rect x="315.45" y="345.38" width="15.12" height="15.12" fill="#ff1414"/><rect x="330.17" y="345.38" width="15.12" height="15.12" fill="#3a26ff"/><rect x="349.95" y="350.44" width="4.99" height="4.99" fill="#ffecec"/><rect x="359.50" y="345.26" width="15.35" height="15.35" fill="#ff0d0d"/><rect x="374.33" y="345.38" width="15.12" height="15.12" fill="#3a26ff"/><rect x="391.41" y="347.73" width="10.41" height="10.41" fill="#a89fff"/><rect x="403.48" y="345.08" width="15.72" height="15.72" fill="#2913ff"/><rect x="155.60" y="362.20" width="10.92" height="10.92" fill="#9e94ff"/><rect x="172.32" y="364.20" width="6.92" height="6.92" fill="#dcd9ff"/><rect x="187.79" y="364.94" width="5.44" height="5.44" fill="#ffe8e8"/><rect x="203.78" y="366.22" width="2.89" height="2.89" fill="#fbfbff"/><rect x="215.92" y="363.63" width="8.06" height="8.06" fill="#ffc4c4"/><rect x="231.65" y="364.64" width="6.04" height="6.04" fill="#ffe1e1"/><rect x="245.04" y="363.31" width="8.71" height="8.71" fill="#ffb9b9"/><rect x="259.76" y="363.31" width="8.71" height="8.71" fill="#ffb9b9"/><rect x="275.82" y="364.64" width="6.04" height="6.04" fill="#ffe1e1"/><rect x="290.10" y="364.20" width="6.92" height="6.92" fill="#ffd6d6"/><rect x="306.03" y="365.41" width="4.50" height="4.50" fill="#fff1f1"/><rect x="320.75" y="365.41" width="4.50" height="4.50" fill="#fff1f1"/><rect x="335.91" y="365.85" width="3.63" height="3.63" fill="#f8f7ff"/><rect x="348.60" y="363.81" width="7.70" height="7.70" fill="#d3ceff"/><rect x="365.36" y="365.85" width="3.63" height="3.63" fill="#fff7f7"/><rect x="378.43" y="364.20" width="6.92" height="6.92" fill="#dcd9ff"/><rect x="392.59" y="363.63" width="8.06" height="8.06" fill="#cec9ff"/><rect x="408.32" y="364.64" width="6.04" height="6.04" fill="#e6e3ff"/><rect x="418.20" y="359.80" width="15.72" height="15.72" fill="#2913ff"/><rect x="168.11" y="374.71" width="15.35" height="15.35" fill="#341fff"/><rect x="183.22" y="375.10" width="14.57" height="14.57" fill="#ff2626"/><rect x="197.67" y="374.82" width="15.12" height="15.12" fill="#ff1414"/><rect x="212.39" y="374.82" width="15.12" height="15.12" fill="#ff1414"/><rect x="227.11" y="374.82" width="15.12" height="15.12" fill="#ff1414"/><rect x="244.19" y="377.18" width="10.41" height="10.41" fill="#ff9797"/><rect x="258.91" y="377.18" width="10.41" height="10.41" fill="#ff9797"/><rect x="271.16" y="374.71" width="15.35" height="15.35" fill="#ff0d0d"/><rect x="285.89" y="374.71" width="15.35" height="15.35" fill="#ff0d0d"/><rect x="300.72" y="374.82" width="15.12" height="15.12" fill="#ff1414"/><rect x="315.33" y="374.71" width="15.35" height="15.35" fill="#ff0d0d"/><rect x="330.17" y="374.82" width="15.12" height="15.12" fill="#3a26ff"/><rect x="359.50" y="374.71" width="15.35" height="15.35" fill="#ff0d0d"/><rect x="374.33" y="374.82" width="15.12" height="15.12" fill="#3a26ff"/><rect x="390.66" y="376.42" width="11.92" height="11.92" fill="#897dff"/><rect x="403.78" y="374.82" width="15.12" height="15.12" fill="#3a26ff"/><rect x="423.04" y="379.36" width="6.04" height="6.04" fill="#e6e3ff"/><rect x="432.92" y="374.52" width="15.72" height="15.72" fill="#2913ff"/><rect x="158.81" y="394.85" width="4.50" height="4.50" fill="#f3f2ff"/><rect x="168.11" y="389.43" width="15.35" height="15.35" fill="#ff0d0d"/><rect x="183.22" y="389.82" width="14.57" height="14.57" fill="#4936ff"/><rect x="197.67" y="389.55" width="15.12" height="15.12" fill="#3a26ff"/><rect x="212.39" y="389.55" width="15.12" height="15.12" fill="#3a26ff"/><rect x="227.11" y="389.55" width="15.12" height="15.12" fill="#3a26ff"/><rect x="244.19" y="391.90" width="10.41" height="10.41" fill="#a89fff"/><rect x="259.18" y="392.17" width="9.87" height="9.87" fill="#b1a9ff"/><rect x="271.28" y="389.55" width="15.12" height="15.12" fill="#3a26ff"/><rect x="286.00" y="389.55" width="15.12" height="15.12" fill="#3a26ff"/><rect x="300.72" y="389.55" width="15.12" height="15.12" fill="#3a26ff"/><rect x="315.45" y="389.55" width="15.12" height="15.12" fill="#3a26ff"/><rect x="330.05" y="389.43" width="15.35" height="15.35" fill="#ff0d0d"/><rect x="349.43" y="394.09" width="6.04" height="6.04" fill="#e6e3ff"/><rect x="359.61" y="389.55" width="15.12" height="15.12" fill="#3a26ff"/><rect x="374.22" y="389.43" width="15.35" height="15.35" fill="#ff0d0d"/><rect x="391.41" y="391.90" width="10.41" height="10.41" fill="#ff9797"/><rect x="403.66" y="389.43" width="15.35" height="15.35" fill="#ff0d0d"/><rect x="423.56" y="394.61" width="4.99" height="4.99" fill="#ffecec"/><rect x="433.11" y="389.43" width="15.35" height="15.35" fill="#ff0d0d"/><rect x="447.64" y="389.24" width="15.72" height="15.72" fill="#2913ff"/><rect x="158.81" y="409.58" width="4.50" height="4.50" fill="#f3f2ff"/><rect x="168.11" y="404.15" width="15.35" height="15.35" fill="#ff0d0d"/><rect x="183.42" y="404.74" width="14.17" height="14.17" fill="#5442ff"/><rect x="197.67" y="404.27" width="15.12" height="15.12" fill="#3a26ff"/><rect x="212.39" y="404.27" width="15.12" height="15.12" fill="#3a26ff"/><rect x="227.11" y="404.27" width="15.12" height="15.12" fill="#3a26ff"/><rect x="244.19" y="406.62" width="10.41" height="10.41" fill="#a89fff"/><rect x="259.18" y="406.89" width="9.87" height="9.87" fill="#b1a9ff"/><rect x="271.36" y="404.34" width="14.97" height="14.97" fill="#3e2bff"/><rect x="286.08" y="404.34" width="14.97" height="14.97" fill="#3e2bff"/><rect x="300.80" y="404.34" width="14.97" height="14.97" fill="#3e2bff"/><rect x="315.52" y="404.34" width="14.97" height="14.97" fill="#3e2bff"/><rect x="330.05" y="404.15" width="15.35" height="15.35" fill="#ff0d0d"/><rect x="350.64" y="410.01" width="3.63" height="3.63" fill="#f8f7ff"/><rect x="359.69" y="404.34" width="14.97" height="14.97" fill="#3e2bff"/><rect x="374.22" y="404.15" width="15.35" height="15.35" fill="#ff0d0d"/><rect x="390.66" y="405.87" width="11.92" height="11.92" fill="#ff7373"/><rect x="403.66" y="404.15" width="15.35" height="15.35" fill="#ff0d0d"/><rect x="423.04" y="408.81" width="6.04" height="6.04" fill="#ffe1e1"/><rect x="433.11" y="404.15" width="15.35" height="15.35" fill="#ff0d0d"/><rect x="448.02" y="404.34" width="14.97" height="14.97" fill="#3e2bff"/><rect x="462.37" y="403.97" width="15.72" height="15.72" fill="#2913ff"/><rect x="168.11" y="418.88" width="15.35" height="15.35" fill="#ff0d0d"/><rect x="183.22" y="419.26" width="14.57" height="14.57" fill="#4936ff"/><rect x="197.67" y="418.99" width="15.12" height="15.12" fill="#3a26ff"/><rect x="212.39" y="418.99" width="15.12" height="15.12" fill="#3a26ff"/><rect x="227.11" y="418.99" width="15.12" height="15.12" fill="#3a26ff"/><rect x="243.44" y="420.59" width="11.92" height="11.92" fill="#897dff"/><rect x="258.91" y="421.35" width="10.41" height="10.41" fill="#a89fff"/><rect x="271.36" y="419.07" width="14.97" height="14.97" fill="#3e2bff"/><rect x="286.08" y="419.07" width="14.97" height="14.97" fill="#3e2bff"/><rect x="300.80" y="419.07" width="14.97" height="14.97" fill="#3e2bff"/><rect x="315.52" y="419.07" width="14.97" height="14.97" fill="#3e2bff"/><rect x="330.05" y="418.88" width="15.35" height="15.35" fill="#ff0d0d"/><rect x="350.64" y="424.74" width="3.63" height="3.63" fill="#f8f7ff"/><rect x="359.77" y="419.14" width="14.81" height="14.81" fill="#432fff"/><rect x="374.22" y="418.88" width="15.35" height="15.35" fill="#ff0d0d"/><rect x="391.41" y="421.35" width="10.41" height="10.41" fill="#ff9797"/><rect x="403.66" y="418.88" width="15.35" height="15.35" fill="#ff0d0d"/><rect x="422.21" y="422.70" width="7.70" height="7.70" fill="#ffcaca"/><rect x="433.11" y="418.88" width="15.35" height="15.35" fill="#ff0d0d"/><rect x="448.02" y="419.07" width="14.97" height="14.97" fill="#3e2bff"/><rect x="462.74" y="419.07" width="14.97" height="14.97" fill="#3e2bff"/><rect x="477.09" y="418.69" width="15.72" height="15.72" fill="#2913ff"/><rect x="168.11" y="433.60" width="15.35" height="15.35" fill="#ff0d0d"/><rect x="183.10" y="433.87" width="14.81" height="14.81" fill="#432fff"/><rect x="197.74" y="433.79" width="14.97" height="14.97" fill="#3e2bff"/><rect x="212.47" y="433.79" width="14.97" height="14.97" fill="#3e2bff"/><rect x="227.11" y="433.71" width="15.12" height="15.12" fill="#3a26ff"/><rect x="244.19" y="436.07" width="10.41" height="10.41" fill="#a89fff"/><rect x="259.18" y="436.33" width="9.87" height="9.87" fill="#b1a9ff"/><rect x="271.36" y="433.79" width="14.97" height="14.97" fill="#3e2bff"/><rect x="286.08" y="433.79" width="14.97" height="14.97" fill="#3e2bff"/><rect x="300.80" y="433.79" width="14.97" height="14.97" fill="#3e2bff"/><rect x="315.52" y="433.79" width="14.97" height="14.97" fill="#3e2bff"/><rect x="330.05" y="433.60" width="15.35" height="15.35" fill="#ff0d0d"/><rect x="349.73" y="438.55" width="5.44" height="5.44" fill="#eceaff"/><rect x="359.61" y="433.71" width="15.12" height="15.12" fill="#3a26ff"/><rect x="374.22" y="433.60" width="15.35" height="15.35" fill="#ff0d0d"/><rect x="391.41" y="436.07" width="10.41" height="10.41" fill="#ff9797"/><rect x="403.66" y="433.60" width="15.35" height="15.35" fill="#ff0d0d"/><rect x="433.11" y="433.60" width="15.35" height="15.35" fill="#ff0d0d"/><rect x="447.95" y="433.71" width="15.12" height="15.12" fill="#3a26ff"/><rect x="462.74" y="433.79" width="14.97" height="14.97" fill="#3e2bff"/><rect x="477.47" y="433.79" width="14.97" height="14.97" fill="#3e2bff"/><rect x="491.81" y="433.41" width="15.72" height="15.72" fill="#2913ff"/><rect x="158.04" y="452.97" width="6.04" height="6.04" fill="#ffe1e1"/><rect x="171.13" y="451.34" width="9.31" height="9.31" fill="#ffaeae"/><rect x="185.30" y="450.79" width="10.41" height="10.41" fill="#a89fff"/><rect x="200.57" y="451.34" width="9.31" height="9.31" fill="#bbb4ff"/><rect x="214.75" y="450.79" width="10.41" height="10.41" fill="#a89fff"/><rect x="230.02" y="451.34" width="9.31" height="9.31" fill="#bbb4ff"/><rect x="241.72" y="448.32" width="15.35" height="15.35" fill="#341fff"/><rect x="256.44" y="448.32" width="15.35" height="15.35" fill="#341fff"/><rect x="273.63" y="450.79" width="10.41" height="10.41" fill="#a89fff"/><rect x="288.91" y="451.34" width="9.31" height="9.31" fill="#bbb4ff"/><rect x="303.08" y="450.79" width="10.41" height="10.41" fill="#a89fff"/><rect x="317.80" y="450.79" width="10.41" height="10.41" fill="#a89fff"/><rect x="333.07" y="451.34" width="9.31" height="9.31" fill="#ffaeae"/><rect x="348.99" y="452.53" width="6.92" height="6.92" fill="#ffd6d6"/><rect x="362.23" y="451.06" width="9.87" height="9.87" fill="#b1a9ff"/><rect x="376.69" y="450.79" width="10.41" height="10.41" fill="#ff9797"/><rect x="391.68" y="451.06" width="9.87" height="9.87" fill="#ffa2a2"/><rect x="406.13" y="450.79" width="10.41" height="10.41" fill="#ff9797"/><rect x="421.41" y="451.34" width="9.31" height="9.31" fill="#ffaeae"/><rect x="435.58" y="450.79" width="10.41" height="10.41" fill="#ff9797"/><rect x="450.30" y="450.79" width="10.41" height="10.41" fill="#a89fff"/><rect x="465.02" y="450.79" width="10.41" height="10.41" fill="#a89fff"/><rect x="479.49" y="450.54" width="10.92" height="10.92" fill="#9e94ff"/><rect x="494.47" y="450.79" width="10.41" height="10.41" fill="#a89fff"/><rect x="506.53" y="448.13" width="15.72" height="15.72" fill="#2913ff"/><rect x="158.56" y="468.22" width="4.99" height="4.99" fill="#ffecec"/><rect x="171.43" y="466.36" width="8.71" height="8.71" fill="#ffb9b9"/><rect x="185.30" y="465.51" width="10.41" height="10.41" fill="#a89fff"/><rect x="200.57" y="466.06" width="9.31" height="9.31" fill="#bbb4ff"/><rect x="214.75" y="465.51" width="10.41" height="10.41" fill="#a89fff"/><rect x="229.73" y="465.78" width="9.87" height="9.87" fill="#b1a9ff"/><rect x="241.72" y="463.04" width="15.35" height="15.35" fill="#341fff"/><rect x="256.44" y="463.04" width="15.35" height="15.35" fill="#341fff"/><rect x="273.90" y="465.78" width="9.87" height="9.87" fill="#b1a9ff"/><rect x="288.62" y="465.78" width="9.87" height="9.87" fill="#b1a9ff"/><rect x="303.35" y="465.78" width="9.87" height="9.87" fill="#b1a9ff"/><rect x="318.07" y="465.78" width="9.87" height="9.87" fill="#b1a9ff"/><rect x="333.07" y="466.06" width="9.31" height="9.31" fill="#ffaeae"/><rect x="348.99" y="467.26" width="6.92" height="6.92" fill="#ffd6d6"/><rect x="362.23" y="465.78" width="9.87" height="9.87" fill="#b1a9ff"/><rect x="376.69" y="465.51" width="10.41" height="10.41" fill="#ff9797"/><rect x="391.68" y="465.78" width="9.87" height="9.87" fill="#ffa2a2"/><rect x="406.40" y="465.78" width="9.87" height="9.87" fill="#ffa2a2"/><rect x="421.41" y="466.06" width="9.31" height="9.31" fill="#ffaeae"/><rect x="435.58" y="465.51" width="10.41" height="10.41" fill="#ff9797"/><rect x="450.30" y="465.51" width="10.41" height="10.41" fill="#a89fff"/><rect x="465.02" y="465.51" width="10.41" height="10.41" fill="#a89fff"/><rect x="479.49" y="465.26" width="10.92" height="10.92" fill="#9e94ff"/><rect x="494.73" y="465.78" width="9.87" height="9.87" fill="#b1a9ff"/><rect x="506.72" y="463.04" width="15.35" height="15.35" fill="#341fff"/><rect x="521.26" y="462.86" width="15.72" height="15.72" fill="#2913ff"/><rect x="159.62" y="484.00" width="2.89" height="2.89" fill="#fbfbff"/><rect x="168.11" y="477.76" width="15.35" height="15.35" fill="#ff0d0d"/><rect x="183.63" y="478.56" width="13.75" height="13.75" fill="#5e4eff"/><rect x="197.94" y="478.15" width="14.57" height="14.57" fill="#4936ff"/><rect x="212.47" y="477.96" width="14.97" height="14.97" fill="#3e2bff"/><rect x="227.27" y="478.03" width="14.81" height="14.81" fill="#432fff"/><rect x="244.46" y="480.50" width="9.87" height="9.87" fill="#b1a9ff"/><rect x="259.46" y="480.78" width="9.31" height="9.31" fill="#bbb4ff"/><rect x="271.28" y="477.88" width="15.12" height="15.12" fill="#3a26ff"/><rect x="286.00" y="477.88" width="15.12" height="15.12" fill="#3a26ff"/><rect x="301.00" y="478.15" width="14.57" height="14.57" fill="#4936ff"/><rect x="315.72" y="478.15" width="14.57" height="14.57" fill="#4936ff"/><rect x="330.17" y="477.88" width="15.12" height="15.12" fill="#ff1414"/><rect x="349.95" y="482.94" width="4.99" height="4.99" fill="#efeeff"/><rect x="359.61" y="477.88" width="15.12" height="15.12" fill="#3a26ff"/><rect x="374.33" y="477.88" width="15.12" height="15.12" fill="#ff1414"/><rect x="391.41" y="480.23" width="10.41" height="10.41" fill="#ff9797"/><rect x="403.66" y="477.76" width="15.35" height="15.35" fill="#ff0d0d"/><rect x="422.21" y="481.59" width="7.70" height="7.70" fill="#ffcaca"/><rect x="433.11" y="477.76" width="15.35" height="15.35" fill="#ff0d0d"/><rect x="447.95" y="477.88" width="15.12" height="15.12" fill="#3a26ff"/><rect x="462.55" y="477.76" width="15.35" height="15.35" fill="#341fff"/><rect x="477.39" y="477.88" width="15.12" height="15.12" fill="#3a26ff"/><rect x="492.27" y="478.03" width="14.81" height="14.81" fill="#432fff"/><rect x="509.46" y="480.50" width="9.87" height="9.87" fill="#b1a9ff"/><rect x="524.46" y="480.78" width="9.31" height="9.31" fill="#bbb4ff"/><rect x="535.98" y="477.58" width="15.72" height="15.72" fill="#2913ff"/><rect x="158.94" y="498.04" width="4.23" height="4.23" fill="#f5f4ff"/><rect x="168.03" y="492.41" width="15.50" height="15.50" fill="#ff0808"/><rect x="183.42" y="493.08" width="14.17" height="14.17" fill="#5442ff"/><rect x="197.82" y="492.76" width="14.81" height="14.81" fill="#432fff"/><rect x="212.39" y="492.60" width="15.12" height="15.12" fill="#3a26ff"/><rect x="227.27" y="492.76" width="14.81" height="14.81" fill="#432fff"/><rect x="244.46" y="495.22" width="9.87" height="9.87" fill="#b1a9ff"/><rect x="259.18" y="495.22" width="9.87" height="9.87" fill="#b1a9ff"/><rect x="271.36" y="492.68" width="14.97" height="14.97" fill="#3e2bff"/><rect x="286.00" y="492.60" width="15.12" height="15.12" fill="#3a26ff"/><rect x="300.88" y="492.76" width="14.81" height="14.81" fill="#432fff"/><rect x="315.72" y="492.87" width="14.57" height="14.57" fill="#4936ff"/><rect x="330.17" y="492.60" width="15.12" height="15.12" fill="#ff1414"/><rect x="359.61" y="492.60" width="15.12" height="15.12" fill="#3a26ff"/><rect x="374.33" y="492.60" width="15.12" height="15.12" fill="#ff1414"/><rect x="390.66" y="494.20" width="11.92" height="11.92" fill="#ff7373"/><rect x="403.66" y="492.49" width="15.35" height="15.35" fill="#ff0d0d"/><rect x="422.21" y="496.31" width="7.70" height="7.70" fill="#ffcaca"/><rect x="433.11" y="492.49" width="15.35" height="15.35" fill="#ff0d0d"/><rect x="447.95" y="492.60" width="15.12" height="15.12" fill="#3a26ff"/><rect x="462.55" y="492.49" width="15.35" height="15.35" fill="#341fff"/><rect x="477.39" y="492.60" width="15.12" height="15.12" fill="#3a26ff"/><rect x="492.19" y="492.68" width="14.97" height="14.97" fill="#3e2bff"/><rect x="509.19" y="494.96" width="10.41" height="10.41" fill="#a89fff"/><rect x="523.91" y="494.96" width="10.41" height="10.41" fill="#a89fff"/><rect x="536.16" y="492.49" width="15.35" height="15.35" fill="#341fff"/><rect x="550.70" y="492.30" width="15.72" height="15.72" fill="#2913ff"/><rect x="168.11" y="507.21" width="15.35" height="15.35" fill="#ff0d0d"/><rect x="183.22" y="507.60" width="14.57" height="14.57" fill="#4936ff"/><rect x="197.82" y="507.48" width="14.81" height="14.81" fill="#432fff"/><rect x="212.39" y="507.32" width="15.12" height="15.12" fill="#3a26ff"/><rect x="227.19" y="507.40" width="14.97" height="14.97" fill="#3e2bff"/><rect x="244.46" y="509.95" width="9.87" height="9.87" fill="#b1a9ff"/><rect x="259.18" y="509.95" width="9.87" height="9.87" fill="#b1a9ff"/><rect x="271.28" y="507.32" width="15.12" height="15.12" fill="#3a26ff"/><rect x="286.08" y="507.40" width="14.97" height="14.97" fill="#3e2bff"/><rect x="300.72" y="507.32" width="15.12" height="15.12" fill="#3a26ff"/><rect x="315.60" y="507.48" width="14.81" height="14.81" fill="#432fff"/><rect x="330.17" y="507.32" width="15.12" height="15.12" fill="#ff1414"/><rect x="359.61" y="507.32" width="15.12" height="15.12" fill="#3a26ff"/><rect x="374.33" y="507.32" width="15.12" height="15.12" fill="#ff1414"/><rect x="390.66" y="508.92" width="11.92" height="11.92" fill="#ff7373"/><rect x="403.66" y="507.21" width="15.35" height="15.35" fill="#ff0d0d"/><rect x="423.04" y="511.86" width="6.04" height="6.04" fill="#ffe1e1"/><rect x="433.11" y="507.21" width="15.35" height="15.35" fill="#ff0d0d"/><rect x="447.95" y="507.32" width="15.12" height="15.12" fill="#3a26ff"/><rect x="462.67" y="507.32" width="15.12" height="15.12" fill="#3a26ff"/><rect x="477.47" y="507.40" width="14.97" height="14.97" fill="#3e2bff"/><rect x="492.19" y="507.40" width="14.97" height="14.97" fill="#3e2bff"/><rect x="509.19" y="509.68" width="10.41" height="10.41" fill="#a89fff"/><rect x="523.91" y="509.68" width="10.41" height="10.41" fill="#a89fff"/><rect x="536.36" y="507.40" width="14.97" height="14.97" fill="#3e2bff"/><rect x="551.08" y="507.40" width="14.97" height="14.97" fill="#3e2bff"/><rect x="565.42" y="507.02" width="15.72" height="15.72" fill="#2913ff"/><rect x="158.81" y="527.35" width="4.50" height="4.50" fill="#f3f2ff"/><rect x="168.03" y="521.86" width="15.50" height="15.50" fill="#ff0808"/><rect x="183.34" y="522.44" width="14.33" height="14.33" fill="#503dff"/><rect x="197.74" y="522.12" width="14.97" height="14.97" fill="#3e2bff"/><rect x="212.39" y="522.05" width="15.12" height="15.12" fill="#3a26ff"/><rect x="227.19" y="522.12" width="14.97" height="14.97" fill="#3e2bff"/><rect x="244.74" y="524.95" width="9.31" height="9.31" fill="#bbb4ff"/><rect x="259.46" y="524.95" width="9.31" height="9.31" fill="#bbb4ff"/><rect x="271.36" y="522.12" width="14.97" height="14.97" fill="#3e2bff"/><rect x="286.08" y="522.12" width="14.97" height="14.97" fill="#3e2bff"/><rect x="300.88" y="522.20" width="14.81" height="14.81" fill="#432fff"/><rect x="315.60" y="522.20" width="14.81" height="14.81" fill="#432fff"/><rect x="330.17" y="522.05" width="15.12" height="15.12" fill="#ff1414"/><rect x="349.73" y="526.89" width="5.44" height="5.44" fill="#eceaff"/><rect x="359.61" y="522.05" width="15.12" height="15.12" fill="#3a26ff"/><rect x="374.33" y="522.05" width="15.12" height="15.12" fill="#ff1414"/><rect x="391.41" y="524.40" width="10.41" height="10.41" fill="#ff9797"/><rect x="403.66" y="521.93" width="15.35" height="15.35" fill="#ff0d0d"/><rect x="433.11" y="521.93" width="15.35" height="15.35" fill="#ff0d0d"/><rect x="447.95" y="522.05" width="15.12" height="15.12" fill="#3a26ff"/><rect x="462.67" y="522.05" width="15.12" height="15.12" fill="#3a26ff"/><rect x="477.47" y="522.12" width="14.97" height="14.97" fill="#3e2bff"/><rect x="492.19" y="522.12" width="14.97" height="14.97" fill="#3e2bff"/><rect x="509.74" y="524.95" width="9.31" height="9.31" fill="#bbb4ff"/><rect x="524.46" y="524.95" width="9.31" height="9.31" fill="#bbb4ff"/><rect x="536.36" y="522.12" width="14.97" height="14.97" fill="#3e2bff"/><rect x="551.00" y="522.05" width="15.12" height="15.12" fill="#3a26ff"/><rect x="565.72" y="522.05" width="15.12" height="15.12" fill="#3a26ff"/><rect x="580.14" y="521.74" width="15.72" height="15.72" fill="#2913ff"/><rect x="159.25" y="542.51" width="3.63" height="3.63" fill="#fff7f7"/><rect x="170.32" y="538.87" width="10.92" height="10.92" fill="#9e94ff"/><rect x="184.30" y="538.13" width="12.40" height="12.40" fill="#ff6666"/><rect x="199.03" y="538.13" width="12.40" height="12.40" fill="#ff6666"/><rect x="215.29" y="539.67" width="9.31" height="9.31" fill="#ffaeae"/><rect x="228.71" y="538.37" width="11.92" height="11.92" fill="#ff7373"/><rect x="245.93" y="540.87" width="6.92" height="6.92" fill="#ffd6d6"/><rect x="261.10" y="541.31" width="6.04" height="6.04" fill="#ffe1e1"/><rect x="274.18" y="539.67" width="9.31" height="9.31" fill="#ffaeae"/><rect x="288.91" y="539.67" width="9.31" height="9.31" fill="#ffaeae"/><rect x="301.62" y="537.67" width="13.32" height="13.32" fill="#ff4d4d"/><rect x="316.80" y="538.13" width="12.40" height="12.40" fill="#ff6666"/><rect x="331.53" y="538.13" width="12.40" height="12.40" fill="#7f71ff"/><rect x="348.42" y="540.30" width="8.06" height="8.06" fill="#ffc4c4"/><rect x="361.21" y="538.37" width="11.92" height="11.92" fill="#ff7373"/><rect x="376.96" y="539.39" width="9.87" height="9.87" fill="#b1a9ff"/><rect x="406.98" y="539.97" width="8.71" height="8.71" fill="#c4beff"/><rect x="422.03" y="540.30" width="8.06" height="8.06" fill="#ffc4c4"/><rect x="434.82" y="538.37" width="11.92" height="11.92" fill="#897dff"/><rect x="449.30" y="538.13" width="12.40" height="12.40" fill="#ff6666"/><rect x="465.02" y="539.12" width="10.41" height="10.41" fill="#ff9797"/><rect x="479.75" y="539.12" width="10.41" height="10.41" fill="#ff9797"/><rect x="493.47" y="538.13" width="12.40" height="12.40" fill="#ff6666"/><rect x="510.93" y="540.87" width="6.92" height="6.92" fill="#ffd6d6"/><rect x="526.10" y="541.31" width="6.04" height="6.04" fill="#ffe1e1"/><rect x="539.48" y="539.97" width="8.71" height="8.71" fill="#ffb9b9"/><rect x="554.21" y="539.97" width="8.71" height="8.71" fill="#ffb9b9"/><rect x="567.08" y="538.13" width="12.40" height="12.40" fill="#ff6666"/><rect x="581.80" y="538.13" width="12.40" height="12.40" fill="#ff6666"/><rect x="594.87" y="536.47" width="15.72" height="15.72" fill="#2913ff"/><rect x="158.56" y="556.55" width="4.99" height="4.99" fill="#ffecec"/><rect x="168.22" y="551.49" width="15.12" height="15.12" fill="#3a26ff"/><rect x="183.42" y="551.97" width="14.17" height="14.17" fill="#ff3333"/><rect x="197.82" y="551.64" width="14.81" height="14.81" fill="#ff1f1f"/><rect x="212.54" y="551.64" width="14.81" height="14.81" fill="#ff1f1f"/><rect x="227.27" y="551.64" width="14.81" height="14.81" fill="#ff1f1f"/><rect x="245.04" y="554.70" width="8.71" height="8.71" fill="#ffb9b9"/><rect x="259.76" y="554.70" width="8.71" height="8.71" fill="#ffb9b9"/><rect x="271.43" y="551.64" width="14.81" height="14.81" fill="#ff1f1f"/><rect x="286.27" y="551.76" width="14.57" height="14.57" fill="#ff2626"/><rect x="300.88" y="551.64" width="14.81" height="14.81" fill="#ff1f1f"/><rect x="315.60" y="551.64" width="14.81" height="14.81" fill="#ff1f1f"/><rect x="330.44" y="551.76" width="14.57" height="14.57" fill="#4936ff"/><rect x="349.95" y="556.55" width="4.99" height="4.99" fill="#efeeff"/><rect x="359.89" y="551.76" width="14.57" height="14.57" fill="#ff2626"/><rect x="374.49" y="551.64" width="14.81" height="14.81" fill="#432fff"/><rect x="390.41" y="552.85" width="12.40" height="12.40" fill="#7f71ff"/><rect x="403.93" y="551.64" width="14.81" height="14.81" fill="#432fff"/><rect x="424.25" y="557.24" width="3.63" height="3.63" fill="#fff7f7"/><rect x="433.30" y="551.57" width="14.97" height="14.97" fill="#3e2bff"/><rect x="448.22" y="551.76" width="14.57" height="14.57" fill="#ff2626"/><rect x="462.74" y="551.57" width="14.97" height="14.97" fill="#ff1919"/><rect x="477.66" y="551.76" width="14.57" height="14.57" fill="#ff2626"/><rect x="492.27" y="551.64" width="14.81" height="14.81" fill="#ff1f1f"/><rect x="510.04" y="554.70" width="8.71" height="8.71" fill="#ffb9b9"/><rect x="524.76" y="554.70" width="8.71" height="8.71" fill="#ffb9b9"/><rect x="536.43" y="551.64" width="14.81" height="14.81" fill="#ff1f1f"/><rect x="551.16" y="551.64" width="14.81" height="14.81" fill="#ff1f1f"/><rect x="565.72" y="551.49" width="15.12" height="15.12" fill="#ff1414"/><rect x="580.52" y="551.57" width="14.97" height="14.97" fill="#ff1919"/><rect x="596.77" y="553.09" width="11.92" height="11.92" fill="#897dff"/><rect x="609.59" y="551.19" width="15.72" height="15.72" fill="#2913ff"/><rect x="168.11" y="566.10" width="15.35" height="15.35" fill="#ff0d0d"/><rect x="183.63" y="566.90" width="13.75" height="13.75" fill="#5e4eff"/><rect x="197.82" y="566.37" width="14.81" height="14.81" fill="#432fff"/><rect x="212.47" y="566.29" width="14.97" height="14.97" fill="#3e2bff"/><rect x="227.27" y="566.37" width="14.81" height="14.81" fill="#432fff"/><rect x="244.74" y="569.12" width="9.31" height="9.31" fill="#bbb4ff"/><rect x="259.46" y="569.12" width="9.31" height="9.31" fill="#bbb4ff"/><rect x="271.36" y="566.29" width="14.97" height="14.97" fill="#3e2bff"/><rect x="286.08" y="566.29" width="14.97" height="14.97" fill="#3e2bff"/><rect x="301.00" y="566.49" width="14.57" height="14.57" fill="#4936ff"/><rect x="315.72" y="566.49" width="14.57" height="14.57" fill="#4936ff"/><rect x="330.05" y="566.10" width="15.35" height="15.35" fill="#ff0d0d"/><rect x="350.20" y="571.52" width="4.50" height="4.50" fill="#f3f2ff"/><rect x="359.61" y="566.21" width="15.12" height="15.12" fill="#3a26ff"/><rect x="374.22" y="566.10" width="15.35" height="15.35" fill="#ff0d0d"/><rect x="391.41" y="568.57" width="10.41" height="10.41" fill="#ff9797"/><rect x="403.66" y="566.10" width="15.35" height="15.35" fill="#ff0d0d"/><rect x="423.81" y="571.52" width="4.50" height="4.50" fill="#fff1f1"/><rect x="433.11" y="566.10" width="15.35" height="15.35" fill="#ff0d0d"/><rect x="447.95" y="566.21" width="15.12" height="15.12" fill="#3a26ff"/><rect x="462.67" y="566.21" width="15.12" height="15.12" fill="#3a26ff"/><rect x="477.39" y="566.21" width="15.12" height="15.12" fill="#3a26ff"/><rect x="492.19" y="566.29" width="14.97" height="14.97" fill="#3e2bff"/><rect x="509.74" y="569.12" width="9.31" height="9.31" fill="#bbb4ff"/><rect x="524.46" y="569.12" width="9.31" height="9.31" fill="#bbb4ff"/><rect x="536.28" y="566.21" width="15.12" height="15.12" fill="#3a26ff"/><rect x="551.00" y="566.21" width="15.12" height="15.12" fill="#3a26ff"/><rect x="565.72" y="566.21" width="15.12" height="15.12" fill="#3a26ff"/><rect x="580.52" y="566.29" width="14.97" height="14.97" fill="#3e2bff"/><rect x="596.53" y="567.57" width="12.40" height="12.40" fill="#ff6666"/><rect x="610.16" y="566.49" width="14.57" height="14.57" fill="#ff2626"/><rect x="624.31" y="565.91" width="15.72" height="15.72" fill="#2913ff"/><rect x="158.34" y="585.78" width="5.44" height="5.44" fill="#eceaff"/><rect x="169.12" y="581.84" width="13.32" height="13.32" fill="#695aff"/><rect x="184.55" y="582.54" width="11.92" height="11.92" fill="#ff7373"/><rect x="198.48" y="581.75" width="13.49" height="13.49" fill="#ff4747"/><rect x="213.20" y="581.75" width="13.49" height="13.49" fill="#ff4747"/><rect x="227.93" y="581.75" width="13.49" height="13.49" fill="#ff4747"/><rect x="245.04" y="584.14" width="8.71" height="8.71" fill="#ffb9b9"/><rect x="259.76" y="584.14" width="8.71" height="8.71" fill="#ffb9b9"/><rect x="272.18" y="581.84" width="13.32" height="13.32" fill="#ff4d4d"/><rect x="286.90" y="581.84" width="13.32" height="13.32" fill="#ff4d4d"/><rect x="301.62" y="581.84" width="13.32" height="13.32" fill="#ff4d4d"/><rect x="316.35" y="581.84" width="13.32" height="13.32" fill="#ff4d4d"/><rect x="331.07" y="581.84" width="13.32" height="13.32" fill="#695aff"/><rect x="360.34" y="581.66" width="13.66" height="13.66" fill="#ff4242"/><rect x="375.06" y="581.66" width="13.66" height="13.66" fill="#6150ff"/><rect x="391.41" y="583.29" width="10.41" height="10.41" fill="#a89fff"/><rect x="404.51" y="581.66" width="13.66" height="13.66" fill="#6150ff"/><rect x="423.34" y="585.78" width="5.44" height="5.44" fill="#eceaff"/><rect x="433.95" y="581.66" width="13.66" height="13.66" fill="#6150ff"/><rect x="448.76" y="581.75" width="13.49" height="13.49" fill="#ff4747"/><rect x="463.48" y="581.75" width="13.49" height="13.49" fill="#ff4747"/><rect x="478.20" y="581.75" width="13.49" height="13.49" fill="#ff4747"/><rect x="492.93" y="581.75" width="13.49" height="13.49" fill="#ff4747"/><rect x="510.04" y="584.14" width="8.71" height="8.71" fill="#ffb9b9"/><rect x="524.76" y="584.14" width="8.71" height="8.71" fill="#ffb9b9"/><rect x="537.09" y="581.75" width="13.49" height="13.49" fill="#ff4747"/><rect x="551.82" y="581.75" width="13.49" height="13.49" fill="#ff4747"/><rect x="566.54" y="581.75" width="13.49" height="13.49" fill="#ff4747"/><rect x="581.26" y="581.75" width="13.49" height="13.49" fill="#ff4747"/><rect x="597.27" y="583.04" width="10.92" height="10.92" fill="#9e94ff"/><rect x="610.58" y="581.62" width="13.75" height="13.75" fill="#5e4eff"/><rect x="625.34" y="581.66" width="13.66" height="13.66" fill="#ff4242"/><rect x="639.03" y="580.63" width="15.72" height="15.72" fill="#2913ff"/><rect x="168.38" y="595.81" width="14.81" height="14.81" fill="#432fff"/><rect x="184.07" y="596.78" width="12.87" height="12.87" fill="#ff5959"/><rect x="197.94" y="595.93" width="14.57" height="14.57" fill="#ff2626"/><rect x="212.66" y="595.93" width="14.57" height="14.57" fill="#ff2626"/><rect x="227.39" y="595.93" width="14.57" height="14.57" fill="#ff2626"/><rect x="245.04" y="598.86" width="8.71" height="8.71" fill="#ffb9b9"/><rect x="259.76" y="598.86" width="8.71" height="8.71" fill="#ffb9b9"/><rect x="271.55" y="595.93" width="14.57" height="14.57" fill="#ff2626"/><rect x="286.27" y="595.93" width="14.57" height="14.57" fill="#ff2626"/><rect x="301.00" y="595.93" width="14.57" height="14.57" fill="#ff2626"/><rect x="315.72" y="595.93" width="14.57" height="14.57" fill="#ff2626"/><rect x="330.44" y="595.93" width="14.57" height="14.57" fill="#4936ff"/><rect x="350.64" y="601.40" width="3.63" height="3.63" fill="#f8f7ff"/><rect x="359.77" y="595.81" width="14.81" height="14.81" fill="#ff1f1f"/><rect x="374.61" y="595.93" width="14.57" height="14.57" fill="#4936ff"/><rect x="390.41" y="597.01" width="12.40" height="12.40" fill="#7f71ff"/><rect x="403.93" y="595.81" width="14.81" height="14.81" fill="#432fff"/><rect x="433.30" y="595.73" width="14.97" height="14.97" fill="#3e2bff"/><rect x="448.10" y="595.81" width="14.81" height="14.81" fill="#ff1f1f"/><rect x="462.82" y="595.81" width="14.81" height="14.81" fill="#ff1f1f"/><rect x="477.66" y="595.93" width="14.57" height="14.57" fill="#ff2626"/><rect x="492.39" y="595.93" width="14.57" height="14.57" fill="#ff2626"/><rect x="510.04" y="598.86" width="8.71" height="8.71" fill="#ffb9b9"/><rect x="524.76" y="598.86" width="8.71" height="8.71" fill="#ffb9b9"/><rect x="536.67" y="596.05" width="14.33" height="14.33" fill="#ff2e2e"/><rect x="551.27" y="595.93" width="14.57" height="14.57" fill="#ff2626"/><rect x="566.00" y="595.93" width="14.57" height="14.57" fill="#ff2626"/><rect x="580.60" y="595.81" width="14.81" height="14.81" fill="#ff1f1f"/><rect x="596.53" y="597.01" width="12.40" height="12.40" fill="#7f71ff"/><rect x="610.16" y="595.93" width="14.57" height="14.57" fill="#4936ff"/><rect x="624.77" y="595.81" width="14.81" height="14.81" fill="#ff1f1f"/><rect x="639.73" y="596.05" width="14.33" height="14.33" fill="#503dff"/><rect x="653.76" y="595.36" width="15.72" height="15.72" fill="#2913ff"/><rect x="168.30" y="610.46" width="14.97" height="14.97" fill="#3e2bff"/><rect x="183.42" y="610.85" width="14.17" height="14.17" fill="#ff3333"/><rect x="197.67" y="610.38" width="15.12" height="15.12" fill="#ff1414"/><rect x="212.28" y="610.26" width="15.35" height="15.35" fill="#ff0d0d"/><rect x="227.11" y="610.38" width="15.12" height="15.12" fill="#ff1414"/><rect x="244.46" y="613.00" width="9.87" height="9.87" fill="#ffa2a2"/><rect x="259.18" y="613.00" width="9.87" height="9.87" fill="#ffa2a2"/><rect x="271.16" y="610.26" width="15.35" height="15.35" fill="#ff0d0d"/><rect x="285.89" y="610.26" width="15.35" height="15.35" fill="#ff0d0d"/><rect x="300.88" y="610.53" width="14.81" height="14.81" fill="#ff1f1f"/><rect x="315.60" y="610.53" width="14.81" height="14.81" fill="#ff1f1f"/><rect x="330.24" y="610.46" width="14.97" height="14.97" fill="#3e2bff"/><rect x="349.43" y="614.92" width="6.04" height="6.04" fill="#ffe1e1"/><rect x="359.50" y="610.26" width="15.35" height="15.35" fill="#ff0d0d"/><rect x="374.33" y="610.38" width="15.12" height="15.12" fill="#3a26ff"/><rect x="391.41" y="612.73" width="10.41" height="10.41" fill="#a89fff"/><rect x="403.66" y="610.26" width="15.35" height="15.35" fill="#341fff"/><rect x="422.60" y="614.48" width="6.92" height="6.92" fill="#dcd9ff"/><rect x="433.11" y="610.26" width="15.35" height="15.35" fill="#341fff"/><rect x="447.83" y="610.26" width="15.35" height="15.35" fill="#ff0d0d"/><rect x="462.55" y="610.26" width="15.35" height="15.35" fill="#ff0d0d"/><rect x="477.39" y="610.38" width="15.12" height="15.12" fill="#ff1414"/><rect x="492.11" y="610.38" width="15.12" height="15.12" fill="#ff1414"/><rect x="509.46" y="613.00" width="9.87" height="9.87" fill="#ffa2a2"/><rect x="524.46" y="613.28" width="9.31" height="9.31" fill="#ffaeae"/><rect x="536.16" y="610.26" width="15.35" height="15.35" fill="#ff0d0d"/><rect x="550.89" y="610.26" width="15.35" height="15.35" fill="#ff0d0d"/><rect x="565.61" y="610.26" width="15.35" height="15.35" fill="#ff0d0d"/><rect x="580.45" y="610.38" width="15.12" height="15.12" fill="#ff1414"/><rect x="598.37" y="613.58" width="8.71" height="8.71" fill="#c4beff"/><rect x="610.79" y="611.28" width="13.32" height="13.32" fill="#695aff"/><rect x="624.61" y="610.38" width="15.12" height="15.12" fill="#ff1414"/><rect x="640.24" y="611.28" width="13.32" height="13.32" fill="#695aff"/><rect x="654.74" y="611.06" width="13.75" height="13.75" fill="#5e4eff"/><rect x="668.48" y="610.08" width="15.72" height="15.72" fill="#2913ff"/></g>
<g fill="none" stroke="#bebebe" stroke-width="1"><rect x="153.70" y="95.30" width="14.72" height="14.72"/><rect x="153.70" y="110.02" width="14.72" height="14.72"/><rect x="168.42" y="110.02" width="14.72" height="14.72"/><rect x="153.70" y="124.74" width="14.72" height="14.72"/><rect x="168.42" y="124.74" width="14.72" height="14.72"/><rect x="183.14" y="124.74" width="14.72" height="14.72"/><rect x="153.70" y="139.47" width="14.72" height="14.72"/><rect x="168.42" y="139.47" width="14.72" height="14.72"/><rect x="183.14" y="139.47" width="14.72" height="14.72"/><rect x="197.87" y="139.47" width="14.72" height="14.72"/><rect x="153.70" y="154.19" width="14.72" height="14.72"/><rect x="168.42" y="154.19" width="14.72" height="14.72"/><rect x="183.14" y="154.19" width="14.72" height="14.72"/><rect x="197.87" y="154.19" width="14.72" height="14.72"/><rect x="212.59" y="154.19" width="14.72" height="14.72"/><rect x="153.70" y="168.91" width="14.72" height="14.72"/><rect x="168.42" y="168.91" width="14.72" height="14.72"/><rect x="183.14" y="168.91" width="14.72" height="14.72"/><rect x="197.87" y="168.91" width="14.72" height="14.72"/><rect x="212.59" y="168.91" width="14.72" height="14.72"/><rect x="227.31" y="168.91" width="14.72" height="14.72"/><rect x="153.70" y="183.63" width="14.72" height="14.72"/><rect x="168.42" y="183.63" width="14.72" height="14.72"/><rect x="183.14" y="183.63" width="14.72" height="14.72"/><rect x="197.87" y="183.63" width="14.72" height="14.72"/><rect x="212.59" y="183.63" width="14.72" height="14.72"/><rect x="227.31" y="183.63" width="14.72" height="14.72"/><rect x="242.03" y="183.63" width="14.72" height="14.72"/><rect x="153.70" y="198.36" width="14.72" height="14.72"/><rect x="168.42" y="198.36" width="14.72" height="14.72"/><rect x="183.14" y="198.36" width="14.72" height="14.72"/><rect x="197.87" y="198.36" width="14.72" height="14.72"/><rect x="212.59" y="198.36" width="14.72" height="14.72"/><rect x="227.31" y="198.36" width="14.72" height="14.72"/><rect x="242.03" y="198.36" width="14.72" height="14.72"/><rect x="256.76" y="198.36" width="14.72" height="14.72"/><rect x="153.70" y="213.08" width="14.72" height="14.72"/><rect x="168.42" y="213.08" width="14.72" height="14.72"/><rect x="183.14" y="213.08" width="14.72" height="14.72"/><rect x="197.87" y="213.08" width="14.72" height="14.72"/><rect x="212.59" y="213.08" width="14.72" height="14.72"/><rect x="227.31" y="213.08" width="14.72" height="14.72"/><rect x="242.03" y="213.08" width="14.72" height="14.72"/><rect x="256.76" y="213.08" width="14.72" height="14.72"/><rect x="271.48" y="213.08" width="14.72" height="14.72"/><rect x="153.70" y="227.80" width="14.72" height="14.72"/><rect x="168.42" y="227.80" width="14.72" height="14.72"/><rect x="183.14" y="227.80" width="14.72" height="14.72"/><rect x="197.87" y="227.80" width="14.72" height="14.72"/><rect x="212.59" y="227.80" width="14.72" height="14.72"/><rect x="227.31" y="227.80" width="14.72" height="14.72"/><rect x="242.03" y="227.80" width="14.72" height="14.72"/><rect x="256.76" y="227.80" width="14.72" height="14.72"/><rect x="271.48" y="227.80" width="14.72" height="14.72"/><rect x="286.20" y="227.80" width="14.72" height="14.72"/><rect x="153.70" y="242.52" width="14.72" height="14.72"/><rect x="168.42" y="242.52" width="14.72" height="14.72"/><rect x="183.14" y="242.52" width="14.72" height="14.72"/><rect x="197.87" y="242.52" width="14.72" height="14.72"/><rect x="212.59" y="242.52" width="14.72" height="14.72"/><rect x="227.31" y="242.52" width="14.72" height="14.72"/><rect x="242.03" y="242.52" width="14.72" height="14.72"/><rect x="256.76" y="242.52" width="14.72" height="14.72"/><rect x="271.48" y="242.52" width="14.72" height="14.72"/><rect x="286.20" y="242.52" width="14.72" height="14.72"/><rect x="300.92" y="242.52" width="14.72" height="14.72"/><rect x="153.70" y="257.24" width="14.72" height="14.72"/><rect x="168.42" y="257.24" width="14.72" height="14.72"/><rect x="183.14" y="257.24" width="14.72" height="14.72"/><rect x="197.87" y="257.24" width="14.72" height="14.72"/><rect x="212.59" y="257.24" width="14.72" height="14.72"/><rect x="227.31" y="257.24" width="14.72" height="14.72"/><rect x="242.03" y="257.24" width="14.72" height="14.72"/><rect x="256.76" y="257.24" width="14.72" height="14.72"/><rect x="271.48" y="257.24" width="14.72" height="14.72"/><rect x="286.20" y="257.24" width="14.72" height="14.72"/><rect x="300.92" y="257.24" width="14.72" height="14.72"/><rect x="315.64" y="257.24" width="14.72" height="14.72"/><rect x="153.70" y="271.97" width="14.72" height="14.72"/><rect x="168.42" y="271.97" width="14.72" height="14.72"/><rect x="183.14" y="271.97" width="14.72" height="14.72"/><rect x="197.87" y="271.97" width="14.72" height="14.72"/><rect x="212.59" y="271.97" width="14.72" height="14.72"/><rect x="227.31" y="271.97" width="14.72" height="14.72"/><rect x="242.03" y="271.97" width="14.72" height="14.72"/><rect x="256.76" y="271.97" width="14.72" height="14.72"/><rect x="271.48" y="271.97" width="14.72" height="14.72"/><rect x="286.20" y="271.97" width="14.72" height="14.72"/><rect x="300.92" y="271.97" width="14.72" height="14.72"/><rect x="315.64" y="271.97" width="14.72" height="14.72"/><rect x="330.37" y="271.97" width="14.72" height="14.72"/><rect x="153.70" y="286.69" width="14.72" height="14.72"/><rect x="168.42" y="286.69" width="14.72" height="14.72"/><rect x="183.14" y="286.69" width="14.72" height="14.72"/><rect x="197.87" y="286.69" width="14.72" height="14.72"/><rect x="212.59" y="286.69" width="14.72" height="14.72"/><rect x="227.31" y="286.69" width="14.72" height="14.72"/><rect x="242.03" y="286.69" width="14.72" height="14.72"/><rect x="256.76" y="286.69" width="14.72" height="14.72"/><rect x="271.48" y="286.69" width="14.72" height="14.72"/><rect x="286.20" y="286.69" width="14.72" height="14.72"/><rect x="300.92" y="286.69" width="14.72" height="14.72"/><rect x="315.64" y="286.69" width="14.72" height="14.72"/><rect x="330.37" y="286.69" width="14.72" height="14.72"/><rect x="345.09" y="286.69" width="14.72" height="14.72"/><rect x="153.70" y="301.41" width="14.72" height="14.72"/><rect x="168.42" y="301.41" width="14.72" height="14.72"/><rect x="183.14" y="301.41" width="14.72" height="14.72"/><rect x="197.87" y="301.41" width="14.72" height="14.72"/><rect x="212.59" y="301.41" width="14.72" height="14.72"/><rect x="227.31" y="301.41" width="14.72" height="14.72"/><rect x="242.03" y="301.41" width="14.72" height="14.72"/><rect x="256.76" y="301.41" width="14.72" height="14.72"/><rect x="271.48" y="301.41" width="14.72" height="14.72"/><rect x="286.20" y="301.41" width="14.72" height="14.72"/><rect x="300.92" y="301.41" width="14.72" height="14.72"/><rect x="315.64" y="301.41" width="14.72" height="14.72"/><rect x="330.37" y="301.41" width="14.72" height="14.72"/><rect x="345.09" y="301.41" width="14.72" height="14.72"/><rect x="359.81" y="301.41" width="14.72" height="14.72"/><rect x="153.70" y="316.13" width="14.72" height="14.72"/><rect x="168.42" y="316.13" width="14.72" height="14.72"/><rect x="183.14" y="316.13" width="14.72" height="14.72"/><rect x="197.87" y="316.13" width="14.72" height="14.72"/><rect x="212.59" y="316.13" width="14.72" height="14.72"/><rect x="227.31" y="316.13" width="14.72" height="14.72"/><rect x="242.03" y="316.13" width="14.72" height="14.72"/><rect x="256.76" y="316.13" width="14.72" height="14.72"/><rect x="271.48" y="316.13" width="14.72" height="14.72"/><rect x="286.20" y="316.13" width="14.72" height="14.72"/><rect x="300.92" y="316.13" width="14.72" height="14.72"/><rect x="315.64" y="316.13" width="14.72" height="14.72"/><rect x="330.37" y="316.13" width="14.72" height="14.72"/><rect x="345.09" y="316.13" width="14.72" height="14.72"/><rect x="359.81" y="316.13" width="14.72" height="14.72"/><rect x="374.53" y="316.13" width="14.72" height="14.72"/><rect x="153.70" y="330.86" width="14.72" height="14.72"/><rect x="168.42" y="330.86" width="14.72" height="14.72"/><rect x="183.14" y="330.86" width="14.72" height="14.72"/><rect x="197.87" y="330.86" width="14.72" height="14.72"/><rect x="212.59" y="330.86" width="14.72" height="14.72"/><rect x="227.31" y="330.86" width="14.72" height="14.72"/><rect x="242.03" y="330.86" width="14.72" height="14.72"/><rect x="256.76" y="330.86" width="14.72" height="14.72"/><rect x="271.48" y="330.86" width="14.72" height="14.72"/><rect x="286.20" y="330.86" width="14.72" height="14.72"/><rect x="300.92" y="330.86" width="14.72" height="14.72"/><rect x="315.64" y="330.86" width="14.72" height="14.72"/><rect x="330.37" y="330.86" width="14.72" height="14.72"/><rect x="345.09" y="330.86" width="14.72" height="14.72"/><rect x="359.81" y="330.86" width="14.72" height="14.72"/><rect x="374.53" y="330.86" width="14.72" height="14.72"/><rect x="389.26" y="330.86" width="14.72" height="14.72"/><rect x="153.70" y="345.58" width="14.72" height="14.72"/><rect x="168.42" y="345.58" width="14.72" height="14.72"/><rect x="183.14" y="345.58" width="14.72" height="14.72"/><rect x="197.87" y="345.58" width="14.72" height="14.72"/><rect x="212.59" y="345.58" width="14.72" height="14.72"/><rect x="227.31" y="345.58" width="14.72" height="14.72"/><rect x="242.03" y="345.58" width="14.72" height="14.72"/><rect x="256.76" y="345.58" width="14.72" height="14.72"/><rect x="271.48" y="345.58" width="14.72" height="14.72"/><rect x="286.20" y="345.58" width="14.72" height="14.72"/><rect x="300.92" y="345.58" width="14.72" height="14.72"/><rect x="315.64" y="345.58" width="14.72" height="14.72"/><rect x="330.37" y="345.58" width="14.72" height="14.72"/><rect x="345.09" y="345.58" width="14.72" height="14.72"/><rect x="359.81" y="345.58" width="14.72" height="14.72"/><rect x="374.53" y="345.58" width="14.72" height="14.72"/><rect x="389.26" y="345.58" width="14.72" height="14.72"/><rect x="403.98" y="345.58" width="14.72" height="14.72"/><rect x="153.70" y="360.30" width="14.72" height="14.72"/><rect x="168.42" y="360.30" width="14.72" height="14.72"/><rect x="183.14" y="360.30" width="14.72" height="14.72"/><rect x="197.87" y="360.30" width="14.72" height="14.72"/><rect x="212.59" y="360.30" width="14.72" height="14.72"/><rect x="227.31" y="360.30" width="14.72" height="14.72"/><rect x="242.03" y="360.30" width="14.72" height="14.72"/><rect x="256.76" y="360.30" width="14.72" height="14.72"/><rect x="271.48" y="360.30" width="14.72" height="14.72"/><rect x="286.20" y="360.30" width="14.72" height="14.72"/><rect x="300.92" y="360.30" width="14.72" height="14.72"/><rect x="315.64" y="360.30" width="14.72" height="14.72"/><rect x="330.37" y="360.30" width="14.72" height="14.72"/><rect x="345.09" y="360.30" width="14.72" height="14.72"/><rect x="359.81" y="360.30" width="14.72" height="14.72"/><rect x="374.53" y="360.30" width="14.72" height="14.72"/><rect x="389.26" y="360.30" width="14.72" height="14.72"/><rect x="403.98" y="360.30" width="14.72" height="14.72"/><rect x="418.70" y="360.30" width="14.72" height="14.72"/><rect x="153.70" y="375.02" width="14.72" height="14.72"/><rect x="168.42" y="375.02" width="14.72" height="14.72"/><rect x="183.14" y="375.02" width="14.72" height="14.72"/><rect x="197.87" y="375.02" width="14.72" height="14.72"/><rect x="212.59" y="375.02" width="14.72" height="14.72"/><rect x="227.31" y="375.02" width="14.72" height="14.72"/><rect x="242.03" y="375.02" width="14.72" height="14.72"/><rect x="256.76" y="375.02" width="14.72" height="14.72"/><rect x="271.48" y="375.02" width="14.72" height="14.72"/><rect x="286.20" y="375.02" width="14.72" height="14.72"/><rect x="300.92" y="375.02" width="14.72" height="14.72"/><rect x="315.64" y="375.02" width="14.72" height="14.72"/><rect x="330.37" y="375.02" width="14.72" height="14.72"/><rect x="345.09" y="375.02" width="14.72" height="14.72"/><rect x="359.81" y="375.02" width="14.72" height="14.72"/><rect x="374.53" y="375.02" width="14.72" height="14.72"/><rect x="389.26" y="375.02" width="14.72" height="14.72"/><rect x="403.98" y="375.02" width="14.72" height="14.72"/><rect x="418.70" y="375.02" width="14.72" height="14.72"/><rect x="433.42" y="375.02" width="14.72" height="14.72"/><rect x="153.70" y="389.74" width="14.72" height="14.72"/><rect x="168.42" y="389.74" width="14.72" height="14.72"/><rect x="183.14" y="389.74" width="14.72" height="14.72"/><rect x="197.87" y="389.74" width="14.72" height="14.72"/><rect x="212.59" y="389.74" width="14.72" height="14.72"/><rect x="227.31" y="389.74" width="14.72" height="14.72"/><rect x="242.03" y="389.74" width="14.72" height="14.72"/><rect x="256.76" y="389.74" width="14.72" height="14.72"/><rect x="271.48" y="389.74" width="14.72" height="14.72"/><rect x="286.20" y="389.74" width="14.72" height="14.72"/><rect x="300.92" y="389.74" width="14.72" height="14.72"/><rect x="315.64" y="389.74" width="14.72" height="14.72"/><rect x="330.37" y="389.74" width="14.72" height="14.72"/><rect x="345.09" y="389.74" width="14.72" height="14.72"/><rect x="359.81" y="389.74" width="14.72" height="14.72"/><rect x="374.53" y="389.74" width="14.72" height="14.72"/><rect x="389.26" y="389.74" width="14.72" height="14.72"/><rect x="403.98" y="389.74" width="14.72" height="14.72"/><rect x="418.70" y="389.74" width="14.72" height="14.72"/><rect x="433.42" y="389.74" width="14.72" height="14.72"/><rect x="448.14" y="389.74" width="14.72" height="14.72"/><rect x="153.70" y="404.47" width="14.72" height="14.72"/><rect x="168.42" y="404.47" width="14.72" height="14.72"/><rect x="183.14" y="404.47" width="14.72" height="14.72"/><rect x="197.87" y="404.47" width="14.72" height="14.72"/><rect x="212.59" y="404.47" width="14.72" height="14.72"/><rect x="227.31" y="404.47" width="14.72" height="14.72"/><rect x="242.03" y="404.47" width="14.72" height="14.72"/><rect x="256.76" y="404.47" width="14.72" height="14.72"/><rect x="271.48" y="404.47" width="14.72" height="14.72"/><rect x="286.20" y="404.47" width="14.72" height="14.72"/><rect x="300.92" y="404.47" width="14.72" height="14.72"/><rect x="315.64" y="404.47" width="14.72" height="14.72"/><rect x="330.37" y="404.47" width="14.72" height="14.72"/><rect x="345.09" y="404.47" width="14.72" height="14.72"/><rect x="359.81" y="404.47" width="14.72" height="14.72"/><rect x="374.53" y="404.47" width="14.72" height="14.72"/><rect x="389.26" y="404.47" width="14.72" height="14.72"/><rect x="403.98" y="404.47" width="14.72" height="14.72"/><rect x="418.70" y="404.47" width="14.72" height="14.72"/><rect x="433.42" y="404.47" width="14.72" height="14.72"/><rect x="448.14" y="404.47" width="14.72" height="14.72"/><rect x="462.87" y="404.47" width="14.72" height="14.72"/><rect x="153.70" y="419.19" width="14.72" height="14.72"/><rect x="168.42" y="419.19" width="14.72" height="14.72"/><rect x="183.14" y="419.19" width="14.72" height="14.72"/><rect x="197.87" y="419.19" width="14.72" height="14.72"/><rect x="212.59" y="419.19" width="14.72" height="14.72"/><rect x="227.31" y="419.19" width="14.72" height="14.72"/><rect x="242.03" y="419.19" width="14.72" height="14.72"/><rect x="256.76" y="419.19" width="14.72" height="14.72"/><rect x="271.48" y="419.19" width="14.72" height="14.72"/><rect x="286.20" y="419.19" width="14.72" height="14.72"/><rect x="300.92" y="419.19" width="14.72" height="14.72"/><rect x="315.64" y="419.19" width="14.72" height="14.72"/><rect x="330.37" y="419.19" width="14.72" height="14.72"/><rect x="345.09" y="419.19" width="14.72" height="14.72"/><rect x="359.81" y="419.19" width="14.72" height="14.72"/><rect x="374.53" y="419.19" width="14.72" height="14.72"/><rect x="389.26" y="419.19" width="14.72" height="14.72"/><rect x="403.98" y="419.19" width="14.72" height="14.72"/><rect x="418.70" y="419.19" width="14.72" height="14.72"/><rect x="433.42" y="419.19" width="14.72" height="14.72"/><rect x="448.14" y="419.19" width="14.72" height="14.72"/><rect x="462.87" y="419.19" width="14.72" height="14.72"/><rect x="477.59" y="419.19" width="14.72" height="14.72"/><rect x="153.70" y="433.91" width="14.72" height="14.72"/><rect x="168.42" y="433.91" width="14.72" height="14.72"/><rect x="183.14" y="433.91" width="14.72" height="14.72"/><rect x="197.87" y="433.91" width="14.72" height="14.72"/><rect x="212.59" y="433.91" width="14.72" height="14.72"/><rect x="227.31" y="433.91" width="14.72" height="14.72"/><rect x="242.03" y="433.91" width="14.72" height="14.72"/><rect x="256.76" y="433.91" width="14.72" height="14.72"/><rect x="271.48" y="433.91" width="14.72" height="14.72"/><rect x="286.20" y="433.91" width="14.72" height="14.72"/><rect x="300.92" y="433.91" width="14.72" height="14.72"/><rect x="315.64" y="433.91" width="14.72" height="14.72"/><rect x="330.37" y="433.91" width="14.72" height="14.72"/><rect x="345.09" y="433.91" width="14.72" height="14.72"/><rect x="359.81" y="433.91" width="14.72" height="14.72"/><rect x="374.53" y="433.91" width="14.72" height="14.72"/><rect x="389.26" y="433.91" width="14.72" height="14.72"/><rect x="403.98" y="433.91" width="14.72" height="14.72"/><rect x="418.70" y="433.91" width="14.72" height="14.72"/><rect x="433.42" y="433.91" width="14.72" height="14.72"/><rect x="448.14" y="433.91" width="14.72" height="14.72"/><rect x="462.87" y="433.91" width="14.72" height="14.72"/><rect x="477.59" y="433.91" width="14.72" height="14.72"/><rect x="492.31" y="433.91" width="14.72" height="14.72"/><rect x="153.70" y="448.63" width="14.72" height="14.72"/><rect x="168.42" y="448.63" width="14.72" height="14.72"/><rect x="183.14" y="448.63" width="14.72" height="14.72"/><rect x="197.87" y="448.63" width="14.72" height="14.72"/><rect x="212.59" y="448.63" width="14.72" height="14.72"/><rect x="227.31" y="448.63" width="14.72" height="14.72"/><rect x="242.03" y="448.63" width="14.72" height="14.72"/><rect x="256.76" y="448.63" width="14.72" height="14.72"/><rect x="271.48" y="448.63" width="14.72" height="14.72"/><rect x="286.20" y="448.63" width="14.72" height="14.72"/><rect x="300.92" y="448.63" width="14.72" height="14.72"/><rect x="315.64" y="448.63" width="14.72" height="14.72"/><rect x="330.37" y="448.63" width="14.72" height="14.72"/><rect x="345.09" y="448.63" width="14.72" height="14.72"/><rect x="359.81" y="448.63" width="14.72" height="14.72"/><rect x="374.53" y="448.63" width="14.72" height="14.72"/><rect x="389.26" y="448.63" width="14.72" height="14.72"/><rect x="403.98" y="448.63" width="14.72" height="14.72"/><rect x="418.70" y="448.63" width="14.72" height="14.72"/><rect x="433.42" y="448.63" width="14.72" height="14.72"/><rect x="448.14" y="448.63" width="14.72" height="14.72"/><rect x="462.87" y="448.63" width="14.72" height="14.72"/><rect x="477.59" y="448.63" width="14.72" height="14.72"/><rect x="492.31" y="448.63" width="14.72" height="14.72"/><rect x="507.03" y="448.63" width="14.72" height="14.72"/><rect x="153.70" y="463.36" width="14.72" height="14.72"/><rect x="168.42" y="463.36" width="14.72" height="14.72"/><rect x="183.14" y="463.36" width="14.72" height="14.72"/><rect x="197.87" y="463.36" width="14.72" height="14.72"/><rect x="212.59" y="463.36" width="14.72" height="14.72"/><rect x="227.31" y="463.36" width="14.72" height="14.72"/><rect x="242.03" y="463.36" width="14.72" height="14.72"/><rect x="256.76" y="463.36" width="14.72" height="14.72"/><rect x="271.48" y="463.36" width="14.72" height="14.72"/><rect x="286.20" y="463.36" width="14.72" height="14.72"/><rect x="300.92" y="463.36" width="14.72" height="14.72"/><rect x="315.64" y="463.36" width="14.72" height="14.72"/><rect x="330.37" y="463.36" width="14.72" height="14.72"/><rect x="345.09" y="463.36" width="14.72" height="14.72"/><rect x="359.81" y="463.36" width="14.72" height="14.72"/><rect x="374.53" y="463.36" width="14.72" height="14.72"/><rect x="389.26" y="463.36" width="14.72" height="14.72"/><rect x="403.98" y="463.36" width="14.72" height="14.72"/><rect x="418.70" y="463.36" width="14.72" height="14.72"/><rect x="433.42" y="463.36" width="14.72" height="14.72"/><rect x="448.14" y="463.36" width="14.72" height="14.72"/><rect x="462.87" y="463.36" width="14.72" height="14.72"/><rect x="477.59" y="463.36" width="14.72" height="14.72"/><rect x="492.31" y="463.36" width="14.72" height="14.72"/><rect x="507.03" y="463.36" width="14.72" height="14.72"/><rect x="521.76" y="463.36" width="14.72" height="14.72"/><rect x="153.70" y="478.08" width="14.72" height="14.72"/><rect x="168.42" y="478.08" width="14.72" height="14.72"/><rect x="183.14" y="478.08" width="14.72" height="14.72"/><rect x="197.87" y="478.08" width="14.72" height="14.72"/><rect x="212.59" y="478.08" width="14.72" height="14.72"/><rect x="227.31" y="478.08" width="14.72" height="14.72"/><rect x="242.03" y="478.08" width="14.72" height="14.72"/><rect x="256.76" y="478.08" width="14.72" height="14.72"/><rect x="271.48" y="478.08" width="14.72" height="14.72"/><rect x="286.20" y="478.08" width="14.72" height="14.72"/><rect x="300.92" y="478.08" width="14.72" height="14.72"/><rect x="315.64" y="478.08" width="14.72" height="14.72"/><rect x="330.37" y="478.08" width="14.72" height="14.72"/><rect x="345.09" y="478.08" width="14.72" height="14.72"/><rect x="359.81" y="478.08" width="14.72" height="14.72"/><rect x="374.53" y="478.08" width="14.72" height="14.72"/><rect x="389.26" y="478.08" width="14.72" height="14.72"/><rect x="403.98" y="478.08" width="14.72" height="14.72"/><rect x="418.70" y="478.08" width="14.72" height="14.72"/><rect x="433.42" y="478.08" width="14.72" height="14.72"/><rect x="448.14" y="478.08" width="14.72" height="14.72"/><rect x="462.87" y="478.08" width="14.72" height="14.72"/><rect x="477.59" y="478.08" width="14.72" height="14.72"/><rect x="492.31" y="478.08" width="14.72" height="14.72"/><rect x="507.03" y="478.08" width="14.72" height="14.72"/><rect x="521.76" y="478.08" width="14.72" height="14.72"/><rect x="536.48" y="478.08" width="14.72" height="14.72"/><rect x="153.70" y="492.80" width="14.72" height="14.72"/><rect x="168.42" y="492.80" width="14.72" height="14.72"/><rect x="183.14" y="492.80" width="14.72" height="14.72"/><rect x="197.87" y="492.80" width="14.72" height="14.72"/><rect x="212.59" y="492.80" width="14.72" height="14.72"/><rect x="227.31" y="492.80" width="14.72" height="14.72"/><rect x="242.03" y="492.80" width="14.72" height="14.72"/><rect x="256.76" y="492.80" width="14.72" height="14.72"/><rect x="271.48" y="492.80" width="14.72" height="14.72"/><rect x="286.20" y="492.80" width="14.72" height="14.72"/><rect x="300.92" y="492.80" width="14.72" height="14.72"/><rect x="315.64" y="492.80" width="14.72" height="14.72"/><rect x="330.37" y="492.80" width="14.72" height="14.72"/><rect x="345.09" y="492.80" width="14.72" height="14.72"/><rect x="359.81" y="492.80" width="14.72" height="14.72"/><rect x="374.53" y="492.80" width="14.72" height="14.72"/><rect x="389.26" y="492.80" width="14.72" height="14.72"/><rect x="403.98" y="492.80" width="14.72" height="14.72"/><rect x="418.70" y="492.80" width="14.72" height="14.72"/><rect x="433.42" y="492.80" width="14.72" height="14.72"/><rect x="448.14" y="492.80" width="14.72" height="14.72"/><rect x="462.87" y="492.80" width="14.72" height="14.72"/><rect x="477.59" y="492.80" width="14.72" height="14.72"/><rect x="492.31" y="492.80" width="14.72" height="14.72"/><rect x="507.03" y="492.80" width="14.72" height="14.72"/><rect x="521.76" y="492.80" width="14.72" height="14.72"/><rect x="536.48" y="492.80" width="14.72" height="14.72"/><rect x="551.20" y="492.80" width="14.72" height="14.72"/><rect x="153.70" y="507.52" width="14.72" height="14.72"/><rect x="168.42" y="507.52" width="14.72" height="14.72"/><rect x="183.14" y="507.52" width="14.72" height="14.72"/><rect x="197.87" y="507.52" width="14.72" height="14.72"/><rect x="212.59" y="507.52" width="14.72" height="14.72"/><rect x="227.31" y="507.52" width="14.72" height="14.72"/><rect x="242.03" y="507.52" width="14.72" height="14.72"/><rect x="256.76" y="507.52" width="14.72" height="14.72"/><rect x="271.48" y="507.52" width="14.72" height="14.72"/><rect x="286.20" y="507.52" width="14.72" height="14.72"/><rect x="300.92" y="507.52" width="14.72" height="14.72"/><rect x="315.64" y="507.52" width="14.72" height="14.72"/><rect x="330.37" y="507.52" width="14.72" height="14.72"/><rect x="345.09" y="507.52" width="14.72" height="14.72"/><rect x="359.81" y="507.52" width="14.72" height="14.72"/><rect x="374.53" y="507.52" width="14.72" height="14.72"/><rect x="389.26" y="507.52" width="14.72" height="14.72"/><rect x="403.98" y="507.52" width="14.72" height="14.72"/><rect x="418.70" y="507.52" width="14.72" height="14.72"/><rect x="433.42" y="507.52" width="14.72" height="14.72"/><rect x="448.14" y="507.52" width="14.72" height="14.72"/><rect x="462.87" y="507.52" width="14.72" height="14.72"/><rect x="477.59" y="507.52" width="14.72" height="14.72"/><rect x="492.31" y="507.52" width="14.72" height="14.72"/><rect x="507.03" y="507.52" width="14.72" height="14.72"/><rect x="521.76" y="507.52" width="14.72" height="14.72"/><rect x="536.48" y="507.52" width="14.72" height="14.72"/><rect x="551.20" y="507.52" width="14.72" height="14.72"/><rect x="565.92" y="507.52" width="14.72" height="14.72"/><rect x="153.70" y="522.24" width="14.72" height="14.72"/><rect x="168.42" y="522.24" width="14.72" height="14.72"/><rect x="183.14" y="522.24" width="14.72" height="14.72"/><rect x="197.87" y="522.24" width="14.72" height="14.72"/><rect x="212.59" y="522.24" width="14.72" height="14.72"/><rect x="227.31" y="522.24" width="14.72" height="14.72"/><rect x="242.03" y="522.24" width="14.72" height="14.72"/><rect x="256.76" y="522.24" width="14.72" height="14.72"/><rect x="271.48" y="522.24" width="14.72" height="14.72"/><rect x="286.20" y="522.24" width="14.72" height="14.72"/><rect x="300.92" y="522.24" width="14.72" height="14.72"/><rect x="315.64" y="522.24" width="14.72" height="14.72"/><rect x="330.37" y="522.24" width="14.72" height="14.72"/><rect x="345.09" y="522.24" width="14.72" height="14.72"/><rect x="359.81" y="522.24" width="14.72" height="14.72"/><rect x="374.53" y="522.24" width="14.72" height="14.72"/><rect x="389.26" y="522.24" width="14.72" height="14.72"/><rect x="403.98" y="522.24" width="14.72" height="14.72"/><rect x="418.70" y="522.24" width="14.72" height="14.72"/><rect x="433.42" y="522.24" width="14.72" height="14.72"/><rect x="448.14" y="522.24" width="14.72" height="14.72"/><rect x="462.87" y="522.24" width="14.72" height="14.72"/><rect x="477.59" y="522.24" width="14.72" height="14.72"/><rect x="492.31" y="522.24" width="14.72" height="14.72"/><rect x="507.03" y="522.24" width="14.72" height="14.72"/><rect x="521.76" y="522.24" width="14.72" height="14.72"/><rect x="536.48" y="522.24" width="14.72" height="14.72"/><rect x="551.20" y="522.24" width="14.72" height="14.72"/><rect x="565.92" y="522.24" width="14.72" height="14.72"/><rect x="580.64" y="522.24" width="14.72" height="14.72"/><rect x="153.70" y="536.97" width="14.72" height="14.72"/><rect x="168.42" y="536.97" width="14.72" height="14.72"/><rect x="183.14" y="536.97" width="14.72" height="14.72"/><rect x="197.87" y="536.97" width="14.72" height="14.72"/><rect x="212.59" y="536.97" width="14.72" height="14.72"/><rect x="227.31" y="536.97" width="14.72" height="14.72"/><rect x="242.03" y="536.97" width="14.72" height="14.72"/><rect x="256.76" y="536.97" width="14.72" height="14.72"/><rect x="271.48" y="536.97" width="14.72" height="14.72"/><rect x="286.20" y="536.97" width="14.72" height="14.72"/><rect x="300.92" y="536.97" width="14.72" height="14.72"/><rect x="315.64" y="536.97" width="14.72" height="14.72"/><rect x="330.37" y="536.97" width="14.72" height="14.72"/><rect x="345.09" y="536.97" width="14.72" height="14.72"/><rect x="359.81" y="536.97" width="14.72" height="14.72"/><rect x="374.53" y="536.97" width="14.72" height="14.72"/><rect x="389.26" y="536.97" width="14.72" height="14.72"/><rect x="403.98" y="536.97" width="14.72" height="14.72"/><rect x="418.70" y="536.97" width="14.72" height="14.72"/><rect x="433.42" y="536.97" width="14.72" height="14.72"/><rect x="448.14" y="536.97" width="14.72" height="14.72"/><rect x="462.87" y="536.97" width="14.72" height="14.72"/><rect x="477.59" y="536.97" width="14.72" height="14.72"/><rect x="492.31" y="536.97" width="14.72" height="14.72"/><rect x="507.03" y="536.97" width="14.72" height="14.72"/><rect x="521.76" y="536.97" width="14.72" height="14.72"/><rect x="536.48" y="536.97" width="14.72" height="14.72"/><rect x="551.20" y="536.97" width="14.72" height="14.72"/><rect x="565.92" y="536.97" width="14.72" height="14.72"/><rect x="580.64" y="536.97" width="14.72" height="14.72"/><rect x="595.37" y="536.97" width="14.72" height="14.72"/><rect x="153.70" y="551.69" width="14.72" height="14.72"/><rect x="168.42" y="551.69" width="14.72" height="14.72"/><rect x="183.14" y="551.69" width="14.72" height="14.72"/><rect x="197.87" y="551.69" width="14.72" height="14.72"/><rect x="212.59" y="551.69" width="14.72" height="14.72"/><rect x="227.31" y="551.69" width="14.72" height="14.72"/><rect x="242.03" y="551.69" width="14.72" height="14.72"/><rect x="256.76" y="551.69" width="14.72" height="14.72"/><rect x="271.48" y="551.69" width="14.72" height="14.72"/><rect x="286.20" y="551.69" width="14.72" height="14.72"/><rect x="300.92" y="551.69" width="14.72" height="14.72"/><rect x="315.64" y="551.69" width="14.72" height="14.72"/><rect x="330.37" y="551.69" width="14.72" height="14.72"/><rect x="345.09" y="551.69" width="14.72" height="14.72"/><rect x="359.81" y="551.69" width="14.72" height="14.72"/><rect x="374.53" y="551.69" width="14.72" height="14.72"/><rect x="389.26" y="551.69" width="14.72" height="14.72"/><rect x="403.98" y="551.69" width="14.72" height="14.72"/><rect x="418.70" y="551.69" width="14.72" height="14.72"/><rect x="433.42" y="551.69" width="14.72" height="14.72"/><rect x="448.14" y="551.69" width="14.72" height="14.72"/><rect x="462.87" y="551.69" width="14.72" height="14.72"/><rect x="477.59" y="551.69" width="14.72" height="14.72"/><rect x="492.31" y="551.69" width="14.72" height="14.72"/><rect x="507.03" y="551.69" width="14.72" height="14.72"/><rect x="521.76" y="551.69" width="14.72" height="14.72"/><rect x="536.48" y="551.69" width="14.72" height="14.72"/><rect x="551.20" y="551.69" width="14.72" height="14.72"/><rect x="565.92" y="551.69" width="14.72" height="14.72"/><rect x="580.64" y="551.69" width="14.72" height="14.72"/><rect x="595.37" y="551.69" width="14.72" height="14.72"/><rect x="610.09" y="551.69" width="14.72" height="14.72"/><rect x="153.70" y="566.41" width="14.72" height="14.72"/><rect x="168.42" y="566.41" width="14.72" height="14.72"/><rect x="183.14" y="566.41" width="14.72" height="14.72"/><rect x="197.87" y="566.41" width="14.72" height="14.72"/><rect x="212.59" y="566.41" width="14.72" height="14.72"/><rect x="227.31" y="566.41" width="14.72" height="14.72"/><rect x="242.03" y="566.41" width="14.72" height="14.72"/><rect x="256.76" y="566.41" width="14.72" height="14.72"/><rect x="271.48" y="566.41" width="14.72" height="14.72"/><rect x="286.20" y="566.41" width="14.72" height="14.72"/><rect x="300.92" y="566.41" width="14.72" height="14.72"/><rect x="315.64" y="566.41" width="14.72" height="14.72"/><rect x="330.37" y="566.41" width="14.72" height="14.72"/><rect x="345.09" y="566.41" width="14.72" height="14.72"/><rect x="359.81" y="566.41" width="14.72" height="14.72"/><rect x="374.53" y="566.41" width="14.72" height="14.72"/><rect x="389.26" y="566.41" width="14.72" height="14.72"/><rect x="403.98" y="566.41" width="14.72" height="14.72"/><rect x="418.70" y="566.41" width="14.72" height="14.72"/><rect x="433.42" y="566.41" width="14.72" height="14.72"/><rect x="448.14" y="566.41" width="14.72" height="14.72"/><rect x="462.87" y="566.41" width="14.72" height="14.72"/><rect x="477.59" y="566.41" width="14.72" height="14.72"/><rect x="492.31" y="566.41" width="14.72" height="14.72"/><rect x="507.03" y="566.41" width="14.72" height="14.72"/><rect x="521.76" y="566.41" width="14.72" height="14.72"/><rect x="536.48" y="566.41" width="14.72" height="14.72"/><rect x="551.20" y="566.41" width="14.72" height="14.72"/><rect x="565.92" y="566.41" width="14.72" height="14.72"/><rect x="580.64" y="566.41" width="14.72" height="14.72"/><rect x="595.37" y="566.41" width="14.72" height="14.72"/><rect x="610.09" y="566.41" width="14.72" height="14.72"/><rect x="624.81" y="566.41" width="14.72" height="14.72"/><rect x="153.70" y="581.13" width="14.72" height="14.72"/><rect x="168.42" y="581.13" width="14.72" height="14.72"/><rect x="183.14" y="581.13" width="14.72" height="14.72"/><rect x="197.87" y="581.13" width="14.72" height="14.72"/><rect x="212.59" y="581.13" width="14.72" height="14.72"/><rect x="227.31" y="581.13" width="14.72" height="14.72"/><rect x="242.03" y="581.13" width="14.72" height="14.72"/><rect x="256.76" y="581.13" width="14.72" height="14.72"/><rect x="271.48" y="581.13" width="14.72" height="14.72"/><rect x="286.20" y="581.13" width="14.72" height="14.72"/><rect x="300.92" y="581.13" width="14.72" height="14.72"/><rect x="315.64" y="581.13" width="14.72" height="14.72"/><rect x="330.37" y="581.13" width="14.72" height="14.72"/><rect x="345.09" y="581.13" width="14.72" height="14.72"/><rect x="359.81" y="581.13" width="14.72" height="14.72"/><rect x="374.53" y="581.13" width="14.72" height="14.72"/><rect x="389.26" y="581.13" width="14.72" height="14.72"/><rect x="403.98" y="581.13" width="14.72" height="14.72"/><rect x="418.70" y="581.13" width="14.72" height="14.72"/><rect x="433.42" y="581.13" width="14.72" height="14.72"/><rect x="448.14" y="581.13" width="14.72" height="14.72"/><rect x="462.87" y="581.13" width="14.72" height="14.72"/><rect x="477.59" y="581.13" width="14.72" height="14.72"/><rect x="492.31" y="581.13" width="14.72" height="14.72"/><rect x="507.03" y="581.13" width="14.72" height="14.72"/><rect x="521.76" y="581.13" width="14.72" height="14.72"/><rect x="536.48" y="581.13" width="14.72" height="14.72"/><rect x="551.20" y="581.13" width="14.72" height="14.72"/><rect x="565.92" y="581.13" width="14.72" height="14.72"/><rect x="580.64" y="581.13" width="14.72" height="14.72"/><rect x="595.37" y="581.13" width="14.72" height="14.72"/><rect x="610.09" y="581.13" width="14.72" height="14.72"/><rect x="624.81" y="581.13" width="14.72" height="14.72"/><rect x="639.53" y="581.13" width="14.72" height="14.72"/><rect x="153.70" y="595.86" width="14.72" height="14.72"/><rect x="168.42" y="595.86" width="14.72" height="14.72"/><rect x="183.14" y="595.86" width="14.72" height="14.72"/><rect x="197.87" y="595.86" width="14.72" height="14.72"/><rect x="212.59" y="595.86" width="14.72" height="14.72"/><rect x="227.31" y="595.86" width="14.72" height="14.72"/><rect x="242.03" y="595.86" width="14.72" height="14.72"/><rect x="256.76" y="595.86" width="14.72" height="14.72"/><rect x="271.48" y="595.86" width="14.72" height="14.72"/><rect x="286.20" y="595.86" width="14.72" height="14.72"/><rect x="300.92" y="595.86" width="14.72" height="14.72"/><rect x="315.64" y="595.86" width="14.72" height="14.72"/><rect x="330.37" y="595.86" width="14.72" height="14.72"/><rect x="345.09" y="595.86" width="14.72" height="14.72"/><rect x="359.81" y="595.86" width="14.72" height="14.72"/><rect x="374.53" y="595.86" width="14.72" height="14.72"/><rect x="389.26" y="595.86" width="14.72" height="14.72"/><rect x="403.98" y="595.86" width="14.72" height="14.72"/><rect x="418.70" y="595.86" width="14.72" height="14.72"/><rect x="433.42" y="595.86" width="14.72" height="14.72"/><rect x="448.14" y="595.86" width="14.72" height="14.72"/><rect x="462.87" y="595.86" width="14.72" height="14.72"/><rect x="477.59" y="595.86" width="14.72" height="14.72"/><rect x="492.31" y="595.86" width="14.72" height="14.72"/><rect x="507.03" y="595.86" width="14.72" height="14.72"/><rect x="521.76" y="595.86" width="14.72" height="14.72"/><rect x="536.48" y="595.86" width="14.72" height="14.72"/><rect x="551.20" y="595.86" width="14.72" height="14.72"/><rect x="565.92" y="595.86" width="14.72" height="14.72"/><rect x="580.64" y="595.86" width="14.72" height="14.72"/><rect x="595.37" y="595.86" width="14.72" height="14.72"/><rect x="610.09" y="595.86" width="14.72" height="14.72"/><rect x="624.81" y="595.86" width="14.72" height="14.72"/><rect x="639.53" y="595.86" width="14.72" height="14.72"/><rect x="654.26" y="595.86" width="14.72" height="14.72"/><rect x="153.70" y="610.58" width="14.72" height="14.72"/><rect x="168.42" y="610.58" width="14.72" height="14.72"/><rect x="183.14" y="610.58" width="14.72" height="14.72"/><rect x="197.87" y="610.58" width="14.72" height="14.72"/><rect x="212.59" y="610.58" width="14.72" height="14.72"/><rect x="227.31" y="610.58" width="14.72" height="14.72"/><rect x="242.03" y="610.58" width="14.72" height="14.72"/><rect x="256.76" y="610.58" width="14.72" height="14.72"/><rect x="271.48" y="610.58" width="14.72" height="14.72"/><rect x="286.20" y="610.58" width="14.72" height="14.72"/><rect x="300.92" y="610.58" width="14.72" height="14.72"/><rect x="315.64" y="610.58" width="14.72" height="14.72"/><rect x="330.37" y="610.58" width="14.72" height="14.72"/><rect x="345.09" y="610.58" width="14.72" height="14.72"/><rect x="359.81" y="610.58" width="14.72" height="14.72"/><rect x="374.53" y="610.58" width="14.72" height="14.72"/><rect x="389.26" y="610.58" width="14.72" height="14.72"/><rect x="403.98" y="610.58" width="14.72" height="14.72"/><rect x="418.70" y="610.58" width="14.72" height="14.72"/><rect x="433.42" y="610.58" width="14.72" height="14.72"/><rect x="448.14" y="610.58" width="14.72" height="14.72"/><rect x="462.87" y="610.58" width="14.72" height="14.72"/><rect x="477.59" y="610.58" width="14.72" height="14.72"/><rect x="492.31" y="610.58" width="14.72" height="14.72"/><rect x="507.03" y="610.58" width="14.72" height="14.72"/><rect x="521.76" y="610.58" width="14.72" height="14.72"/><rect x="536.48" y="610.58" width="14.72" height="14.72"/><rect x="551.20" y="610.58" width="14.72" height="14.72"/><rect x="565.92" y="610.58" width="14.72" height="14.72"/><rect x="580.64" y="610.58" width="14.72" height="14.72"/><rect x="595.37" y="610.58" width="14.72" height="14.72"/><rect x="610.09" y="610.58" width="14.72" height="14.72"/><rect x="624.81" y="610.58" width="14.72" height="14.72"/><rect x="639.53" y="610.58" width="14.72" height="14.72"/><rect x="654.26" y="610.58" width="14.72" height="14.72"/><rect x="668.98" y="610.58" width="14.72" height="14.72"/></g>
<path fill="#fff" d="M158.76 100.71l0.56 1.33 1.44 0.12 -1.09 0.94 0.33 1.41 -1.23 -0.75 -1.23 0.75 0.33 -1.41 -1.09 -0.94 1.44 -0.12zM163.36 100.71l0.56 1.33 1.44 0.12 -1.09 0.94 0.33 1.41 -1.23 -0.75 -1.23 0.75 0.33 -1.41 -1.09 -0.94 1.44 -0.12zM173.48 115.43l0.56 1.33 1.44 0.12 -1.09 0.94 0.33 1.41 -1.23 -0.75 -1.23 0.75 0.33 -1.41 -1.09 -0.94 1.44 -0.12zM178.08 115.43l0.56 1.33 1.44 0.12 -1.09 0.94 0.33 1.41 -1.23 -0.75 -1.23 0.75 0.33 -1.41 -1.09 -0.94 1.44 -0.12zM173.48 130.16l0.56 1.33 1.44 0.12 -1.09 0.94 0.33 1.41 -1.23 -0.75 -1.23 0.75 0.33 -1.41 -1.09 -0.94 1.44 -0.12zM178.08 130.16l0.56 1.33 1.44 0.12 -1.09 0.94 0.33 1.41 -1.23 -0.75 -1.23 0.75 0.33 -1.41 -1.09 -0.94 1.44 -0.12zM188.21 130.16l0.56 1.33 1.44 0.12 -1.09 0.94 0.33 1.41 -1.23 -0.75 -1.23 0.75 0.33 -1.41 -1.09 -0.94 1.44 -0.12zM192.81 130.16l0.56 1.33 1.44 0.12 -1.09 0.94 0.33 1.41 -1.23 -0.75 -1.23 0.75 0.33 -1.41 -1.09 -0.94 1.44 -0.12zM173.48 144.88l0.56 1.33 1.44 0.12 -1.09 0.94 0.33 1.41 -1.23 -0.75 -1.23 0.75 0.33 -1.41 -1.09 -0.94 1.44 -0.12zM178.08 144.88l0.56 1.33 1.44 0.12 -1.09 0.94 0.33 1.41 -1.23 -0.75 -1.23 0.75 0.33 -1.41 -1.09 -0.94 1.44 -0.12zM188.21 144.88l0.56 1.33 1.44 0.12 -1.09 0.94 0.33 1.41 -1.23 -0.75 -1.23 0.75 0.33 -1.41 -1.09 -0.94 1.44 -0.12zM192.81 144.88l0.56 1.33 1.44 0.12 -1.09 0.94 0.33 1.41 -1.23 -0.75 -1.23 0.75 0.33 -1.41 -1.09 -0.94 1.44 -0.12zM202.93 144.88l0.56 1.33 1.44 0.12 -1.09 0.94 0.33 1.41 -1.23 -0.75 -1.23 0.75 0.33 -1.41 -1.09 -0.94 1.44 -0.12zM207.53 144.88l0.56 1.33 1.44 0.12 -1.09 0.94 0.33 1.41 -1.23 -0.75 -1.23 0.75 0.33 -1.41 -1.09 -0.94 1.44 -0.12zM173.48 159.60l0.56 1.33 1.44 0.12 -1.09 0.94 0.33 1.41 -1.23 -0.75 -1.23 0.75 0.33 -1.41 -1.09 -0.94 1.44 -0.12zM178.08 159.60l0.56 1.33 1.44 0.12 -1.09 0.94 0.33 1.41 -1.23 -0.75 -1.23 0.75 0.33 -1.41 -1.09 -0.94 1.44 -0.12zM188.21 159.60l0.56 1.33 1.44 0.12 -1.09 0.94 0.33 1.41 -1.23 -0.75 -1.23 0.75 0.33 -1.41 -1.09 -0.94 1.44 -0.12zM192.81 159.60l0.56 1.33 1.44 0.12 -1.09 0.94 0.33 1.41 -1.23 -0.75 -1.23 0.75 0.33 -1.41 -1.09 -0.94 1.44 -0.12zM202.93 159.60l0.56 1.33 1.44 0.12 -1.09 0.94 0.33 1.41 -1.23 -0.75 -1.23 0.75 0.33 -1.41 -1.09 -0.94 1.44 -0.12zM207.53 159.60l0.56 1.33 1.44 0.12 -1.09 0.94 0.33 1.41 -1.23 -0.75 -1.23 0.75 0.33 -1.41 -1.09 -0.94 1.44 -0.12zM217.65 159.60l0.56 1.33 1.44 0.12 -1.09 0.94 0.33 1.41 -1.23 -0.75 -1.23 0.75 0.33 -1.41 -1.09 -0.94 1.44 -0.12zM222.25 159.60l0.56 1.33 1.44 0.12 -1.09 0.94 0.33 1.41 -1.23 -0.75 -1.23 0.75 0.33 -1.41 -1.09 -0.94 1.44 -0.12zM173.48 174.32l0.56 1.33 1.44 0.12 -1.09 0.94 0.33 1.41 -1.23 -0.75 -1.23 0.75 0.33 -1.41 -1.09 -0.94 1.44 -0.12zM178.08 174.32l0.56 1.33 1.44 0.12 -1.09 0.94 0.33 1.41 -1.23 -0.75 -1.23 0.75 0.33 -1.41 -1.09 -0.94 1.44 -0.12zM188.21 174.32l0.56 1.33 1.44 0.12 -1.09 0.94 0.33 1.41 -1.23 -0.75 -1.23 0.75 0.33 -1.41 -1.09 -0.94 1.44 -0.12zM192.81 174.32l0.56 1.33 1.44 0.12 -1.09 0.94 0.33 1.41 -1.23 -0.75 -1.23 0.75 0.33 -1.41 -1.09 -0.94 1.44 -0.12zM202.93 174.32l0.56 1.33 1.44 0.12 -1.09 0.94 0.33 1.41 -1.23 -0.75 -1.23 0.75 0.33 -1.41 -1.09 -0.94 1.44 -0.12zM207.53 174.32l0.56 1.33 1.44 0.12 -1.09 0.94 0.33 1.41 -1.23 -0.75 -1.23 0.75 0.33 -1.41 -1.09 -0.94 1.44 -0.12zM217.65 174.32l0.56 1.33 1.44 0.12 -1.09 0.94 0.33 1.41 -1.23 -0.75 -1.23 0.75 0.33 -1.41 -1.09 -0.94 1.44 -0.12zM222.25 174.32l0.56 1.33 1.44 0.12 -1.09 0.94 0.33 1.41 -1.23 -0.75 -1.23 0.75 0.33 -1.41 -1.09 -0.94 1.44 -0.12zM232.37 174.32l0.56 1.33 1.44 0.12 -1.09 0.94 0.33 1.41 -1.23 -0.75 -1.23 0.75 0.33 -1.41 -1.09 -0.94 1.44 -0.12zM236.97 174.32l0.56 1.33 1.44 0.12 -1.09 0.94 0.33 1.41 -1.23 -0.75 -1.23 0.75 0.33 -1.41 -1.09 -0.94 1.44 -0.12zM175.78 189.04l0.56 1.33 1.44 0.12 -1.09 0.94 0.33 1.41 -1.23 -0.75 -1.23 0.75 0.33 -1.41 -1.09 -0.94 1.44 -0.12zM188.21 189.04l0.56 1.33 1.44 0.12 -1.09 0.94 0.33 1.41 -1.23 -0.75 -1.23 0.75 0.33 -1.41 -1.09 -0.94 1.44 -0.12zM192.81 189.04l0.56 1.33 1.44 0.12 -1.09 0.94 0.33 1.41 -1.23 -0.75 -1.23 0.75 0.33 -1.41 -1.09 -0.94 1.44 -0.12zM219.95 189.04l0.56 1.33 1.44 0.12 -1.09 0.94 0.33 1.41 -1.23 -0.75 -1.23 0.75 0.33 -1.41 -1.09 -0.94 1.44 -0.12zM247.09 189.04l0.56 1.33 1.44 0.12 -1.09 0.94 0.33 1.41 -1.23 -0.75 -1.23 0.75 0.33 -1.41 -1.09 -0.94 1.44 -0.12zM251.69 189.04l0.56 1.33 1.44 0.12 -1.09 0.94 0.33 1.41 -1.23 -0.75 -1.23 0.75 0.33 -1.41 -1.09 -0.94 1.44 -0.12zM190.51 203.77l0.56 1.33 1.44 0.12 -1.09 0.94 0.33 1.41 -1.23 -0.75 -1.23 0.75 0.33 -1.41 -1.09 -0.94 1.44 -0.12zM219.95 203.77l0.56 1.33 1.44 0.12 -1.09 0.94 0.33 1.41 -1.23 -0.75 -1.23 0.75 0.33 -1.41 -1.09 -0.94 1.44 -0.12zM247.09 203.77l0.56 1.33 1.44 0.12 -1.09 0.94 0.33 1.41 -1.23 -0.75 -1.23 0.75 0.33 -1.41 -1.09 -0.94 1.44 -0.12zM251.69 203.77l0.56 1.33 1.44 0.12 -1.09 0.94 0.33 1.41 -1.23 -0.75 -1.23 0.75 0.33 -1.41 -1.09 -0.94 1.44 -0.12zM261.82 203.77l0.56 1.33 1.44 0.12 -1.09 0.94 0.33 1.41 -1.23 -0.75 -1.23 0.75 0.33 -1.41 -1.09 -0.94 1.44 -0.12zM266.42 203.77l0.56 1.33 1.44 0.12 -1.09 0.94 0.33 1.41 -1.23 -0.75 -1.23 0.75 0.33 -1.41 -1.09 -0.94 1.44 -0.12zM173.48 218.49l0.56 1.33 1.44 0.12 -1.09 0.94 0.33 1.41 -1.23 -0.75 -1.23 0.75 0.33 -1.41 -1.09 -0.94 1.44 -0.12zM178.08 218.49l0.56 1.33 1.44 0.12 -1.09 0.94 0.33 1.41 -1.23 -0.75 -1.23 0.75 0.33 -1.41 -1.09 -0.94 1.44 -0.12zM188.21 218.49l0.56 1.33 1.44 0.12 -1.09 0.94 0.33 1.41 -1.23 -0.75 -1.23 0.75 0.33 -1.41 -1.09 -0.94 1.44 -0.12zM192.81 218.49l0.56 1.33 1.44 0.12 -1.09 0.94 0.33 1.41 -1.23 -0.75 -1.23 0.75 0.33 -1.41 -1.09 -0.94 1.44 -0.12zM202.93 218.49l0.56 1.33 1.44 0.12 -1.09 0.94 0.33 1.41 -1.23 -0.75 -1.23 0.75 0.33 -1.41 -1.09 -0.94 1.44 -0.12zM207.53 218.49l0.56 1.33 1.44 0.12 -1.09 0.94 0.33 1.41 -1.23 -0.75 -1.23 0.75 0.33 -1.41 -1.09 -0.94 1.44 -0.12zM217.65 218.49l0.56 1.33 1.44 0.12 -1.09 0.94 0.33 1.41 -1.23 -0.75 -1.23 0.75 0.33 -1.41 -1.09 -0.94 1.44 -0.12zM222.25 218.49l0.56 1.33 1.44 0.12 -1.09 0.94 0.33 1.41 -1.23 -0.75 -1.23 0.75 0.33 -1.41 -1.09 -0.94 1.44 -0.12zM232.37 218.49l0.56 1.33 1.44 0.12 -1.09 0.94 0.33 1.41 -1.23 -0.75 -1.23 0.75 0.33 -1.41 -1.09 -0.94 1.44 -0.12zM236.97 218.49l0.56 1.33 1.44 0.12 -1.09 0.94 0.33 1.41 -1.23 -0.75 -1.23 0.75 0.33 -1.41 -1.09 -0.94 1.44 -0.12zM249.39 218.49l0.56 1.33 1.44 0.12 -1.09 0.94 0.33 1.41 -1.23 -0.75 -1.23 0.75 0.33 -1.41 -1.09 -0.94 1.44 -0.12zM276.54 218.49l0.56 1.33 1.44 0.12 -1.09 0.94 0.33 1.41 -1.23 -0.75 -1.23 0.75 0.33 -1.41 -1.09 -0.94 1.44 -0.12zM281.14 218.49l0.56 1.33 1.44 0.12 -1.09 0.94 0.33 1.41 -1.23 -0.75 -1.23 0.75 0.33 -1.41 -1.09 -0.94 1.44 -0.12zM173.48 233.21l0.56 1.33 1.44 0.12 -1.09 0.94 0.33 1.41 -1.23 -0.75 -1.23 0.75 0.33 -1.41 -1.09 -0.94 1.44 -0.12zM178.08 233.21l0.56 1.33 1.44 0.12 -1.09 0.94 0.33 1.41 -1.23 -0.75 -1.23 0.75 0.33 -1.41 -1.09 -0.94 1.44 -0.12zM188.21 233.21l0.56 1.33 1.44 0.12 -1.09 0.94 0.33 1.41 -1.23 -0.75 -1.23 0.75 0.33 -1.41 -1.09 -0.94 1.44 -0.12zM192.81 233.21l0.56 1.33 1.44 0.12 -1.09 0.94 0.33 1.41 -1.23 -0.75 -1.23 0.75 0.33 -1.41 -1.09 -0.94 1.44 -0.12zM202.93 233.21l0.56 1.33 1.44 0.12 -1.09 0.94 0.33 1.41 -1.23 -0.75 -1.23 0.75 0.33 -1.41 -1.09 -0.94 1.44 -0.12zM207.53 233.21l0.56 1.33 1.44 0.12 -1.09 0.94 0.33 1.41 -1.23 -0.75 -1.23 0.75 0.33 -1.41 -1.09 -0.94 1.44 -0.12zM217.65 233.21l0.56 1.33 1.44 0.12 -1.09 0.94 0.33 1.41 -1.23 -0.75 -1.23 0.75 0.33 -1.41 -1.09 -0.94 1.44 -0.12zM222.25 233.21l0.56 1.33 1.44 0.12 -1.09 0.94 0.33 1.41 -1.23 -0.75 -1.23 0.75 0.33 -1.41 -1.09 -0.94 1.44 -0.12zM232.37 233.21l0.56 1.33 1.44 0.12 -1.09 0.94 0.33 1.41 -1.23 -0.75 -1.23 0.75 0.33 -1.41 -1.09 -0.94 1.44 -0.12zM236.97 233.21l0.56 1.33 1.44 0.12 -1.09 0.94 0.33 1.41 -1.23 -0.75 -1.23 0.75 0.33 -1.41 -1.09 -0.94 1.44 -0.12zM276.54 233.21l0.56 1.33 1.44 0.12 -1.09 0.94 0.33 1.41 -1.23 -0.75 -1.23 0.75 0.33 -1.41 -1.09 -0.94 1.44 -0.12zM281.14 233.21l0.56 1.33 1.44 0.12 -1.09 0.94 0.33 1.41 -1.23 -0.75 -1.23 0.75 0.33 -1.41 -1.09 -0.94 1.44 -0.12zM291.26 233.21l0.56 1.33 1.44 0.12 -1.09 0.94 0.33 1.41 -1.23 -0.75 -1.23 0.75 0.33 -1.41 -1.09 -0.94 1.44 -0.12zM295.86 233.21l0.56 1.33 1.44 0.12 -1.09 0.94 0.33 1.41 -1.23 -0.75 -1.23 0.75 0.33 -1.41 -1.09 -0.94 1.44 -0.12zM173.48 247.93l0.56 1.33 1.44 0.12 -1.09 0.94 0.33 1.41 -1.23 -0.75 -1.23 0.75 0.33 -1.41 -1.09 -0.94 1.44 -0.12zM178.08 247.93l0.56 1.33 1.44 0.12 -1.09 0.94 0.33 1.41 -1.23 -0.75 -1.23 0.75 0.33 -1.41 -1.09 -0.94 1.44 -0.12zM188.21 247.93l0.56 1.33 1.44 0.12 -1.09 0.94 0.33 1.41 -1.23 -0.75 -1.23 0.75 0.33 -1.41 -1.09 -0.94 1.44 -0.12zM192.81 247.93l0.56 1.33 1.44 0.12 -1.09 0.94 0.33 1.41 -1.23 -0.75 -1.23 0.75 0.33 -1.41 -1.09 -0.94 1.44 -0.12zM202.93 247.93l0.56 1.33 1.44 0.12 -1.09 0.94 0.33 1.41 -1.23 -0.75 -1.23 0.75 0.33 -1.41 -1.09 -0.94 1.44 -0.12zM207.53 247.93l0.56 1.33 1.44 0.12 -1.09 0.94 0.33 1.41 -1.23 -0.75 -1.23 0.75 0.33 -1.41 -1.09 -0.94 1.44 -0.12zM217.65 247.93l0.56 1.33 1.44 0.12 -1.09 0.94 0.33 1.41 -1.23 -0.75 -1.23 0.75 0.33 -1.41 -1.09 -0.94 1.44 -0.12zM222.25 247.93l0.56 1.33 1.44 0.12 -1.09 0.94 0.33 1.41 -1.23 -0.75 -1.23 0.75 0.33 -1.41 -1.09 -0.94 1.44 -0.12zM232.37 247.93l0.56 1.33 1.44 0.12 -1.09 0.94 0.33 1.41 -1.23 -0.75 -1.23 0.75 0.33 -1.41 -1.09 -0.94 1.44 -0.12zM236.97 247.93l0.56 1.33 1.44 0.12 -1.09 0.94 0.33 1.41 -1.23 -0.75 -1.23 0.75 0.33 -1.41 -1.09 -0.94 1.44 -0.12zM249.39 247.93l0.56 1.33 1.44 0.12 -1.09 0.94 0.33 1.41 -1.23 -0.75 -1.23 0.75 0.33 -1.41 -1.09 -0.94 1.44 -0.12zM276.54 247.93l0.56 1.33 1.44 0.12 -1.09 0.94 0.33 1.41 -1.23 -0.75 -1.23 0.75 0.33 -1.41 -1.09 -0.94 1.44 -0.12zM281.14 247.93l0.56 1.33 1.44 0.12 -1.09 0.94 0.33 1.41 -1.23 -0.75 -1.23 0.75 0.33 -1.41 -1.09 -0.94 1.44 -0.12zM291.26 247.93l0.56 1.33 1.44 0.12 -1.09 0.94 0.33 1.41 -1.23 -0.75 -1.23 0.75 0.33 -1.41 -1.09 -0.94 1.44 -0.12zM295.86 247.93l0.56 1.33 1.44 0.12 -1.09 0.94 0.33 1.41 -1.23 -0.75 -1.23 0.75 0.33 -1.41 -1.09 -0.94 1.44 -0.12zM305.98 247.93l0.56 1.33 1.44 0.12 -1.09 0.94 0.33 1.41 -1.23 -0.75 -1.23 0.75 0.33 -1.41 -1.09 -0.94 1.44 -0.12zM310.58 247.93l0.56 1.33 1.44 0.12 -1.09 0.94 0.33 1.41 -1.23 -0.75 -1.23 0.75 0.33 -1.41 -1.09 -0.94 1.44 -0.12zM173.48 262.66l0.56 1.33 1.44 0.12 -1.09 0.94 0.33 1.41 -1.23 -0.75 -1.23 0.75 0.33 -1.41 -1.09 -0.94 1.44 -0.12zM178.08 262.66l0.56 1.33 1.44 0.12 -1.09 0.94 0.33 1.41 -1.23 -0.75 -1.23 0.75 0.33 -1.41 -1.09 -0.94 1.44 -0.12zM188.21 262.66l0.56 1.33 1.44 0.12 -1.09 0.94 0.33 1.41 -1.23 -0.75 -1.23 0.75 0.33 -1.41 -1.09 -0.94 1.44 -0.12zM192.81 262.66l0.56 1.33 1.44 0.12 -1.09 0.94 0.33 1.41 -1.23 -0.75 -1.23 0.75 0.33 -1.41 -1.09 -0.94 1.44 -0.12zM202.93 262.66l0.56 1.33 1.44 0.12 -1.09 0.94 0.33 1.41 -1.23 -0.75 -1.23 0.75 0.33 -1.41 -1.09 -0.94 1.44 -0.12zM207.53 262.66l0.56 1.33 1.44 0.12 -1.09 0.94 0.33 1.41 -1.23 -0.75 -1.23 0.75 0.33 -1.41 -1.09 -0.94 1.44 -0.12zM217.65 262.66l0.56 1.33 1.44 0.12 -1.09 0.94 0.33 1.41 -1.23 -0.75 -1.23 0.75 0.33 -1.41 -1.09 -0.94 1.44 -0.12zM222.25 262.66l0.56 1.33 1.44 0.12 -1.09 0.94 0.33 1.41 -1.23 -0.75 -1.23 0.75 0.33 -1.41 -1.09 -0.94 1.44 -0.12zM232.37 262.66l0.56 1.33 1.44 0.12 -1.09 0.94 0.33 1.41 -1.23 -0.75 -1.23 0.75 0.33 -1.41 -1.09 -0.94 1.44 -0.12zM236.97 262.66l0.56 1.33 1.44 0.12 -1.09 0.94 0.33 1.41 -1.23 -0.75 -1.23 0.75 0.33 -1.41 -1.09 -0.94 1.44 -0.12zM249.39 262.66l0.56 1.33 1.44 0.12 -1.09 0.94 0.33 1.41 -1.23 -0.75 -1.23 0.75 0.33 -1.41 -1.09 -0.94 1.44 -0.12zM276.54 262.66l0.56 1.33 1.44 0.12 -1.09 0.94 0.33 1.41 -1.23 -0.75 -1.23 0.75 0.33 -1.41 -1.09 -0.94 1.44 -0.12zM281.14 262.66l0.56 1.33 1.44 0.12 -1.09 0.94 0.33 1.41 -1.23 -0.75 -1.23 0.75 0.33 -1.41 -1.09 -0.94 1.44 -0.12zM291.26 262.66l0.56 1.33 1.44 0.12 -1.09 0.94 0.33 1.41 -1.23 -0.75 -1.23 0.75 0.33 -1.41 -1.09 -0.94 1.44 -0.12zM295.86 262.66l0.56 1.33 1.44 0.12 -1.09 0.94 0.33 1.41 -1.23 -0.75 -1.23 0.75 0.33 -1.41 -1.09 -0.94 1.44 -0.12zM305.98 262.66l0.56 1.33 1.44 0.12 -1.09 0.94 0.33 1.41 -1.23 -0.75 -1.23 0.75 0.33 -1.41 -1.09 -0.94 1.44 -0.12zM310.58 262.66l0.56 1.33 1.44 0.12 -1.09 0.94 0.33 1.41 -1.23 -0.75 -1.23 0.75 0.33 -1.41 -1.09 -0.94 1.44 -0.12zM320.71 262.66l0.56 1.33 1.44 0.12 -1.09 0.94 0.33 1.41 -1.23 -0.75 -1.23 0.75 0.33 -1.41 -1.09 -0.94 1.44 -0.12zM325.31 262.66l0.56 1.33 1.44 0.12 -1.09 0.94 0.33 1.41 -1.23 -0.75 -1.23 0.75 0.33 -1.41 -1.09 -0.94 1.44 -0.12zM173.48 277.38l0.56 1.33 1.44 0.12 -1.09 0.94 0.33 1.41 -1.23 -0.75 -1.23 0.75 0.33 -1.41 -1.09 -0.94 1.44 -0.12zM178.08 277.38l0.56 1.33 1.44 0.12 -1.09 0.94 0.33 1.41 -1.23 -0.75 -1.23 0.75 0.33 -1.41 -1.09 -0.94 1.44 -0.12zM188.21 277.38l0.56 1.33 1.44 0.12 -1.09 0.94 0.33 1.41 -1.23 -0.75 -1.23 0.75 0.33 -1.41 -1.09 -0.94 1.44 -0.12zM192.81 277.38l0.56 1.33 1.44 0.12 -1.09 0.94 0.33 1.41 -1.23 -0.75 -1.23 0.75 0.33 -1.41 -1.09 -0.94 1.44 -0.12zM202.93 277.38l0.56 1.33 1.44 0.12 -1.09 0.94 0.33 1.41 -1.23 -0.75 -1.23 0.75 0.33 -1.41 -1.09 -0.94 1.44 -0.12zM207.53 277.38l0.56 1.33 1.44 0.12 -1.09 0.94 0.33 1.41 -1.23 -0.75 -1.23 0.75 0.33 -1.41 -1.09 -0.94 1.44 -0.12zM217.65 277.38l0.56 1.33 1.44 0.12 -1.09 0.94 0.33 1.41 -1.23 -0.75 -1.23 0.75 0.33 -1.41 -1.09 -0.94 1.44 -0.12zM222.25 277.38l0.56 1.33 1.44 0.12 -1.09 0.94 0.33 1.41 -1.23 -0.75 -1.23 0.75 0.33 -1.41 -1.09 -0.94 1.44 -0.12zM232.37 277.38l0.56 1.33 1.44 0.12 -1.09 0.94 0.33 1.41 -1.23 -0.75 -1.23 0.75 0.33 -1.41 -1.09 -0.94 1.44 -0.12zM236.97 277.38l0.56 1.33 1.44 0.12 -1.09 0.94 0.33 1.41 -1.23 -0.75 -1.23 0.75 0.33 -1.41 -1.09 -0.94 1.44 -0.12zM276.54 277.38l0.56 1.33 1.44 0.12 -1.09 0.94 0.33 1.41 -1.23 -0.75 -1.23 0.75 0.33 -1.41 -1.09 -0.94 1.44 -0.12zM281.14 277.38l0.56 1.33 1.44 0.12 -1.09 0.94 0.33 1.41 -1.23 -0.75 -1.23 0.75 0.33 -1.41 -1.09 -0.94 1.44 -0.12zM291.26 277.38l0.56 1.33 1.44 0.12 -1.09 0.94 0.33 1.41 -1.23 -0.75 -1.23 0.75 0.33 -1.41 -1.09 -0.94 1.44 -0.12zM295.86 277.38l0.56 1.33 1.44 0.12 -1.09 0.94 0.33 1.41 -1.23 -0.75 -1.23 0.75 0.33 -1.41 -1.09 -0.94 1.44 -0.12zM305.98 277.38l0.56 1.33 1.44 0.12 -1.09 0.94 0.33 1.41 -1.23 -0.75 -1.23 0.75 0.33 -1.41 -1.09 -0.94 1.44 -0.12zM310.58 277.38l0.56 1.33 1.44 0.12 -1.09 0.94 0.33 1.41 -1.23 -0.75 -1.23 0.75 0.33 -1.41 -1.09 -0.94 1.44 -0.12zM320.71 277.38l0.56 1.33 1.44 0.12 -1.09 0.94 0.33 1.41 -1.23 -0.75 -1.23 0.75 0.33 -1.41 -1.09 -0.94 1.44 -0.12zM325.31 277.38l0.56 1.33 1.44 0.12 -1.09 0.94 0.33 1.41 -1.23 -0.75 -1.23 0.75 0.33 -1.41 -1.09 -0.94 1.44 -0.12zM335.43 277.38l0.56 1.33 1.44 0.12 -1.09 0.94 0.33 1.41 -1.23 -0.75 -1.23 0.75 0.33 -1.41 -1.09 -0.94 1.44 -0.12zM340.03 277.38l0.56 1.33 1.44 0.12 -1.09 0.94 0.33 1.41 -1.23 -0.75 -1.23 0.75 0.33 -1.41 -1.09 -0.94 1.44 -0.12zM161.06 292.10l0.56 1.33 1.44 0.12 -1.09 0.94 0.33 1.41 -1.23 -0.75 -1.23 0.75 0.33 -1.41 -1.09 -0.94 1.44 -0.12zM350.15 292.10l0.56 1.33 1.44 0.12 -1.09 0.94 0.33 1.41 -1.23 -0.75 -1.23 0.75 0.33 -1.41 -1.09 -0.94 1.44 -0.12zM354.75 292.10l0.56 1.33 1.44 0.12 -1.09 0.94 0.33 1.41 -1.23 -0.75 -1.23 0.75 0.33 -1.41 -1.09 -0.94 1.44 -0.12zM173.48 306.82l0.56 1.33 1.44 0.12 -1.09 0.94 0.33 1.41 -1.23 -0.75 -1.23 0.75 0.33 -1.41 -1.09 -0.94 1.44 -0.12zM178.08 306.82l0.56 1.33 1.44 0.12 -1.09 0.94 0.33 1.41 -1.23 -0.75 -1.23 0.75 0.33 -1.41 -1.09 -0.94 1.44 -0.12zM188.21 306.82l0.56 1.33 1.44 0.12 -1.09 0.94 0.33 1.41 -1.23 -0.75 -1.23 0.75 0.33 -1.41 -1.09 -0.94 1.44 -0.12zM192.81 306.82l0.56 1.33 1.44 0.12 -1.09 0.94 0.33 1.41 -1.23 -0.75 -1.23 0.75 0.33 -1.41 -1.09 -0.94 1.44 -0.12zM202.93 306.82l0.56 1.33 1.44 0.12 -1.09 0.94 0.33 1.41 -1.23 -0.75 -1.23 0.75 0.33 -1.41 -1.09 -0.94 1.44 -0.12zM207.53 306.82l0.56 1.33 1.44 0.12 -1.09 0.94 0.33 1.41 -1.23 -0.75 -1.23 0.75 0.33 -1.41 -1.09 -0.94 1.44 -0.12zM217.65 306.82l0.56 1.33 1.44 0.12 -1.09 0.94 0.33 1.41 -1.23 -0.75 -1.23 0.75 0.33 -1.41 -1.09 -0.94 1.44 -0.12zM222.25 306.82l0.56 1.33 1.44 0.12 -1.09 0.94 0.33 1.41 -1.23 -0.75 -1.23 0.75 0.33 -1.41 -1.09 -0.94 1.44 -0.12zM232.37 306.82l0.56 1.33 1.44 0.12 -1.09 0.94 0.33 1.41 -1.23 -0.75 -1.23 0.75 0.33 -1.41 -1.09 -0.94 1.44 -0.12zM236.97 306.82l0.56 1.33 1.44 0.12 -1.09 0.94 0.33 1.41 -1.23 -0.75 -1.23 0.75 0.33 -1.41 -1.09 -0.94 1.44 -0.12zM249.39 306.82l0.56 1.33 1.44 0.12 -1.09 0.94 0.33 1.41 -1.23 -0.75 -1.23 0.75 0.33 -1.41 -1.09 -0.94 1.44 -0.12zM276.54 306.82l0.56 1.33 1.44 0.12 -1.09 0.94 0.33 1.41 -1.23 -0.75 -1.23 0.75 0.33 -1.41 -1.09 -0.94 1.44 -0.12zM281.14 306.82l0.56 1.33 1.44 0.12 -1.09 0.94 0.33 1.41 -1.23 -0.75 -1.23 0.75 0.33 -1.41 -1.09 -0.94 1.44 -0.12zM291.26 306.82l0.56 1.33 1.44 0.12 -1.09 0.94 0.33 1.41 -1.23 -0.75 -1.23 0.75 0.33 -1.41 -1.09 -0.94 1.44 -0.12zM295.86 306.82l0.56 1.33 1.44 0.12 -1.09 0.94 0.33 1.41 -1.23 -0.75 -1.23 0.75 0.33 -1.41 -1.09 -0.94 1.44 -0.12zM305.98 306.82l0.56 1.33 1.44 0.12 -1.09 0.94 0.33 1.41 -1.23 -0.75 -1.23 0.75 0.33 -1.41 -1.09 -0.94 1.44 -0.12zM310.58 306.82l0.56 1.33 1.44 0.12 -1.09 0.94 0.33 1.41 -1.23 -0.75 -1.23 0.75 0.33 -1.41 -1.09 -0.94 1.44 -0.12zM320.71 306.82l0.56 1.33 1.44 0.12 -1.09 0.94 0.33 1.41 -1.23 -0.75 -1.23 0.75 0.33 -1.41 -1.09 -0.94 1.44 -0.12zM325.31 306.82l0.56 1.33 1.44 0.12 -1.09 0.94 0.33 1.41 -1.23 -0.75 -1.23 0.75 0.33 -1.41 -1.09 -0.94 1.44 -0.12zM335.43 306.82l0.56 1.33 1.44 0.12 -1.09 0.94 0.33 1.41 -1.23 -0.75 -1.23 0.75 0.33 -1.41 -1.09 -0.94 1.44 -0.12zM340.03 306.82l0.56 1.33 1.44 0.12 -1.09 0.94 0.33 1.41 -1.23 -0.75 -1.23 0.75 0.33 -1.41 -1.09 -0.94 1.44 -0.12zM364.87 306.82l0.56 1.33 1.44 0.12 -1.09 0.94 0.33 1.41 -1.23 -0.75 -1.23 0.75 0.33 -1.41 -1.09 -0.94 1.44 -0.12zM369.47 306.82l0.56 1.33 1.44 0.12 -1.09 0.94 0.33 1.41 -1.23 -0.75 -1.23 0.75 0.33 -1.41 -1.09 -0.94 1.44 -0.12zM173.48 321.54l0.56 1.33 1.44 0.12 -1.09 0.94 0.33 1.41 -1.23 -0.75 -1.23 0.75 0.33 -1.41 -1.09 -0.94 1.44 -0.12zM178.08 321.54l0.56 1.33 1.44 0.12 -1.09 0.94 0.33 1.41 -1.23 -0.75 -1.23 0.75 0.33 -1.41 -1.09 -0.94 1.44 -0.12zM188.21 321.54l0.56 1.33 1.44 0.12 -1.09 0.94 0.33 1.41 -1.23 -0.75 -1.23 0.75 0.33 -1.41 -1.09 -0.94 1.44 -0.12zM192.81 321.54l0.56 1.33 1.44 0.12 -1.09 0.94 0.33 1.41 -1.23 -0.75 -1.23 0.75 0.33 -1.41 -1.09 -0.94 1.44 -0.12zM202.93 321.54l0.56 1.33 1.44 0.12 -1.09 0.94 0.33 1.41 -1.23 -0.75 -1.23 0.75 0.33 -1.41 -1.09 -0.94 1.44 -0.12zM207.53 321.54l0.56 1.33 1.44 0.12 -1.09 0.94 0.33 1.41 -1.23 -0.75 -1.23 0.75 0.33 -1.41 -1.09 -0.94 1.44 -0.12zM217.65 321.54l0.56 1.33 1.44 0.12 -1.09 0.94 0.33 1.41 -1.23 -0.75 -1.23 0.75 0.33 -1.41 -1.09 -0.94 1.44 -0.12zM222.25 321.54l0.56 1.33 1.44 0.12 -1.09 0.94 0.33 1.41 -1.23 -0.75 -1.23 0.75 0.33 -1.41 -1.09 -0.94 1.44 -0.12zM232.37 321.54l0.56 1.33 1.44 0.12 -1.09 0.94 0.33 1.41 -1.23 -0.75 -1.23 0.75 0.33 -1.41 -1.09 -0.94 1.44 -0.12zM236.97 321.54l0.56 1.33 1.44 0.12 -1.09 0.94 0.33 1.41 -1.23 -0.75 -1.23 0.75 0.33 -1.41 -1.09 -0.94 1.44 -0.12zM249.39 321.54l0.56 1.33 1.44 0.12 -1.09 0.94 0.33 1.41 -1.23 -0.75 -1.23 0.75 0.33 -1.41 -1.09 -0.94 1.44 -0.12zM276.54 321.54l0.56 1.33 1.44 0.12 -1.09 0.94 0.33 1.41 -1.23 -0.75 -1.23 0.75 0.33 -1.41 -1.09 -0.94 1.44 -0.12zM281.14 321.54l0.56 1.33 1.44 0.12 -1.09 0.94 0.33 1.41 -1.23 -0.75 -1.23 0.75 0.33 -1.41 -1.09 -0.94 1.44 -0.12zM291.26 321.54l0.56 1.33 1.44 0.12 -1.09 0.94 0.33 1.41 -1.23 -0.75 -1.23 0.75 0.33 -1.41 -1.09 -0.94 1.44 -0.12zM295.86 321.54l0.56 1.33 1.44 0.12 -1.09 0.94 0.33 1.41 -1.23 -0.75 -1.23 0.75 0.33 -1.41 -1.09 -0.94 1.44 -0.12zM305.98 321.54l0.56 1.33 1.44 0.12 -1.09 0.94 0.33 1.41 -1.23 -0.75 -1.23 0.75 0.33 -1.41 -1.09 -0.94 1.44 -0.12zM310.58 321.54l0.56 1.33 1.44 0.12 -1.09 0.94 0.33 1.41 -1.23 -0.75 -1.23 0.75 0.33 -1.41 -1.09 -0.94 1.44 -0.12zM320.71 321.54l0.56 1.33 1.44 0.12 -1.09 0.94 0.33 1.41 -1.23 -0.75 -1.23 0.75 0.33 -1.41 -1.09 -0.94 1.44 -0.12zM325.31 321.54l0.56 1.33 1.44 0.12 -1.09 0.94 0.33 1.41 -1.23 -0.75 -1.23 0.75 0.33 -1.41 -1.09 -0.94 1.44 -0.12zM335.43 321.54l0.56 1.33 1.44 0.12 -1.09 0.94 0.33 1.41 -1.23 -0.75 -1.23 0.75 0.33 -1.41 -1.09 -0.94 1.44 -0.12zM340.03 321.54l0.56 1.33 1.44 0.12 -1.09 0.94 0.33 1.41 -1.23 -0.75 -1.23 0.75 0.33 -1.41 -1.09 -0.94 1.44 -0.12zM364.87 321.54l0.56 1.33 1.44 0.12 -1.09 0.94 0.33 1.41 -1.23 -0.75 -1.23 0.75 0.33 -1.41 -1.09 -0.94 1.44 -0.12zM369.47 321.54l0.56 1.33 1.44 0.12 -1.09 0.94 0.33 1.41 -1.23 -0.75 -1.23 0.75 0.33 -1.41 -1.09 -0.94 1.44 -0.12zM379.59 321.54l0.56 1.33 1.44 0.12 -1.09 0.94 0.33 1.41 -1.23 -0.75 -1.23 0.75 0.33 -1.41 -1.09 -0.94 1.44 -0.12zM384.19 321.54l0.56 1.33 1.44 0.12 -1.09 0.94 0.33 1.41 -1.23 -0.75 -1.23 0.75 0.33 -1.41 -1.09 -0.94 1.44 -0.12zM173.48 336.27l0.56 1.33 1.44 0.12 -1.09 0.94 0.33 1.41 -1.23 -0.75 -1.23 0.75 0.33 -1.41 -1.09 -0.94 1.44 -0.12zM178.08 336.27l0.56 1.33 1.44 0.12 -1.09 0.94 0.33 1.41 -1.23 -0.75 -1.23 0.75 0.33 -1.41 -1.09 -0.94 1.44 -0.12zM190.51 336.27l0.56 1.33 1.44 0.12 -1.09 0.94 0.33 1.41 -1.23 -0.75 -1.23 0.75 0.33 -1.41 -1.09 -0.94 1.44 -0.12zM205.23 336.27l0.56 1.33 1.44 0.12 -1.09 0.94 0.33 1.41 -1.23 -0.75 -1.23 0.75 0.33 -1.41 -1.09 -0.94 1.44 -0.12zM217.65 336.27l0.56 1.33 1.44 0.12 -1.09 0.94 0.33 1.41 -1.23 -0.75 -1.23 0.75 0.33 -1.41 -1.09 -0.94 1.44 -0.12zM222.25 336.27l0.56 1.33 1.44 0.12 -1.09 0.94 0.33 1.41 -1.23 -0.75 -1.23 0.75 0.33 -1.41 -1.09 -0.94 1.44 -0.12zM234.67 336.27l0.56 1.33 1.44 0.12 -1.09 0.94 0.33 1.41 -1.23 -0.75 -1.23 0.75 0.33 -1.41 -1.09 -0.94 1.44 -0.12zM278.84 336.27l0.56 1.33 1.44 0.12 -1.09 0.94 0.33 1.41 -1.23 -0.75 -1.23 0.75 0.33 -1.41 -1.09 -0.94 1.44 -0.12zM308.28 336.27l0.56 1.33 1.44 0.12 -1.09 0.94 0.33 1.41 -1.23 -0.75 -1.23 0.75 0.33 -1.41 -1.09 -0.94 1.44 -0.12zM320.71 336.27l0.56 1.33 1.44 0.12 -1.09 0.94 0.33 1.41 -1.23 -0.75 -1.23 0.75 0.33 -1.41 -1.09 -0.94 1.44 -0.12zM325.31 336.27l0.56 1.33 1.44 0.12 -1.09 0.94 0.33 1.41 -1.23 -0.75 -1.23 0.75 0.33 -1.41 -1.09 -0.94 1.44 -0.12zM350.15 336.27l0.56 1.33 1.44 0.12 -1.09 0.94 0.33 1.41 -1.23 -0.75 -1.23 0.75 0.33 -1.41 -1.09 -0.94 1.44 -0.12zM354.75 336.27l0.56 1.33 1.44 0.12 -1.09 0.94 0.33 1.41 -1.23 -0.75 -1.23 0.75 0.33 -1.41 -1.09 -0.94 1.44 -0.12zM367.17 336.27l0.56 1.33 1.44 0.12 -1.09 0.94 0.33 1.41 -1.23 -0.75 -1.23 0.75 0.33 -1.41 -1.09 -0.94 1.44 -0.12zM379.59 336.27l0.56 1.33 1.44 0.12 -1.09 0.94 0.33 1.41 -1.23 -0.75 -1.23 0.75 0.33 -1.41 -1.09 -0.94 1.44 -0.12zM384.19 336.27l0.56 1.33 1.44 0.12 -1.09 0.94 0.33 1.41 -1.23 -0.75 -1.23 0.75 0.33 -1.41 -1.09 -0.94 1.44 -0.12zM394.32 336.27l0.56 1.33 1.44 0.12 -1.09 0.94 0.33 1.41 -1.23 -0.75 -1.23 0.75 0.33 -1.41 -1.09 -0.94 1.44 -0.12zM398.92 336.27l0.56 1.33 1.44 0.12 -1.09 0.94 0.33 1.41 -1.23 -0.75 -1.23 0.75 0.33 -1.41 -1.09 -0.94 1.44 -0.12zM173.48 350.99l0.56 1.33 1.44 0.12 -1.09 0.94 0.33 1.41 -1.23 -0.75 -1.23 0.75 0.33 -1.41 -1.09 -0.94 1.44 -0.12zM178.08 350.99l0.56 1.33 1.44 0.12 -1.09 0.94 0.33 1.41 -1.23 -0.75 -1.23 0.75 0.33 -1.41 -1.09 -0.94 1.44 -0.12zM188.21 350.99l0.56 1.33 1.44 0.12 -1.09 0.94 0.33 1.41 -1.23 -0.75 -1.23 0.75 0.33 -1.41 -1.09 -0.94 1.44 -0.12zM192.81 350.99l0.56 1.33 1.44 0.12 -1.09 0.94 0.33 1.41 -1.23 -0.75 -1.23 0.75 0.33 -1.41 -1.09 -0.94 1.44 -0.12zM202.93 350.99l0.56 1.33 1.44 0.12 -1.09 0.94 0.33 1.41 -1.23 -0.75 -1.23 0.75 0.33 -1.41 -1.09 -0.94 1.44 -0.12zM207.53 350.99l0.56 1.33 1.44 0.12 -1.09 0.94 0.33 1.41 -1.23 -0.75 -1.23 0.75 0.33 -1.41 -1.09 -0.94 1.44 -0.12zM217.65 350.99l0.56 1.33 1.44 0.12 -1.09 0.94 0.33 1.41 -1.23 -0.75 -1.23 0.75 0.33 -1.41 -1.09 -0.94 1.44 -0.12zM222.25 350.99l0.56 1.33 1.44 0.12 -1.09 0.94 0.33 1.41 -1.23 -0.75 -1.23 0.75 0.33 -1.41 -1.09 -0.94 1.44 -0.12zM232.37 350.99l0.56 1.33 1.44 0.12 -1.09 0.94 0.33 1.41 -1.23 -0.75 -1.23 0.75 0.33 -1.41 -1.09 -0.94 1.44 -0.12zM236.97 350.99l0.56 1.33 1.44 0.12 -1.09 0.94 0.33 1.41 -1.23 -0.75 -1.23 0.75 0.33 -1.41 -1.09 -0.94 1.44 -0.12zM249.39 350.99l0.56 1.33 1.44 0.12 -1.09 0.94 0.33 1.41 -1.23 -0.75 -1.23 0.75 0.33 -1.41 -1.09 -0.94 1.44 -0.12zM276.54 350.99l0.56 1.33 1.44 0.12 -1.09 0.94 0.33 1.41 -1.23 -0.75 -1.23 0.75 0.33 -1.41 -1.09 -0.94 1.44 -0.12zM281.14 350.99l0.56 1.33 1.44 0.12 -1.09 0.94 0.33 1.41 -1.23 -0.75 -1.23 0.75 0.33 -1.41 -1.09 -0.94 1.44 -0.12zM291.26 350.99l0.56 1.33 1.44 0.12 -1.09 0.94 0.33 1.41 -1.23 -0.75 -1.23 0.75 0.33 -1.41 -1.09 -0.94 1.44 -0.12zM295.86 350.99l0.56 1.33 1.44 0.12 -1.09 0.94 0.33 1.41 -1.23 -0.75 -1.23 0.75 0.33 -1.41 -1.09 -0.94 1.44 -0.12zM305.98 350.99l0.56 1.33 1.44 0.12 -1.09 0.94 0.33 1.41 -1.23 -0.75 -1.23 0.75 0.33 -1.41 -1.09 -0.94 1.44 -0.12zM310.58 350.99l0.56 1.33 1.44 0.12 -1.09 0.94 0.33 1.41 -1.23 -0.75 -1.23 0.75 0.33 -1.41 -1.09 -0.94 1.44 -0.12zM320.71 350.99l0.56 1.33 1.44 0.12 -1.09 0.94 0.33 1.41 -1.23 -0.75 -1.23 0.75 0.33 -1.41 -1.09 -0.94 1.44 -0.12zM325.31 350.99l0.56 1.33 1.44 0.12 -1.09 0.94 0.33 1.41 -1.23 -0.75 -1.23 0.75 0.33 -1.41 -1.09 -0.94 1.44 -0.12zM335.43 350.99l0.56 1.33 1.44 0.12 -1.09 0.94 0.33 1.41 -1.23 -0.75 -1.23 0.75 0.33 -1.41 -1.09 -0.94 1.44 -0.12zM340.03 350.99l0.56 1.33 1.44 0.12 -1.09 0.94 0.33 1.41 -1.23 -0.75 -1.23 0.75 0.33 -1.41 -1.09 -0.94 1.44 -0.12zM364.87 350.99l0.56 1.33 1.44 0.12 -1.09 0.94 0.33 1.41 -1.23 -0.75 -1.23 0.75 0.33 -1.41 -1.09 -0.94 1.44 -0.12zM369.47 350.99l0.56 1.33 1.44 0.12 -1.09 0.94 0.33 1.41 -1.23 -0.75 -1.23 0.75 0.33 -1.41 -1.09 -0.94 1.44 -0.12zM379.59 350.99l0.56 1.33 1.44 0.12 -1.09 0.94 0.33 1.41 -1.23 -0.75 -1.23 0.75 0.33 -1.41 -1.09 -0.94 1.44 -0.12zM384.19 350.99l0.56 1.33 1.44 0.12 -1.09 0.94 0.33 1.41 -1.23 -0.75 -1.23 0.75 0.33 -1.41 -1.09 -0.94 1.44 -0.12zM396.62 350.99l0.56 1.33 1.44 0.12 -1.09 0.94 0.33 1.41 -1.23 -0.75 -1.23 0.75 0.33 -1.41 -1.09 -0.94 1.44 -0.12zM409.04 350.99l0.56 1.33 1.44 0.12 -1.09 0.94 0.33 1.41 -1.23 -0.75 -1.23 0.75 0.33 -1.41 -1.09 -0.94 1.44 -0.12zM413.64 350.99l0.56 1.33 1.44 0.12 -1.09 0.94 0.33 1.41 -1.23 -0.75 -1.23 0.75 0.33 -1.41 -1.09 -0.94 1.44 -0.12zM161.06 365.71l0.56 1.33 1.44 0.12 -1.09 0.94 0.33 1.41 -1.23 -0.75 -1.23 0.75 0.33 -1.41 -1.09 -0.94 1.44 -0.12zM423.76 365.71l0.56 1.33 1.44 0.12 -1.09 0.94 0.33 1.41 -1.23 -0.75 -1.23 0.75 0.33 -1.41 -1.09 -0.94 1.44 -0.12zM428.36 365.71l0.56 1.33 1.44 0.12 -1.09 0.94 0.33 1.41 -1.23 -0.75 -1.23 0.75 0.33 -1.41 -1.09 -0.94 1.44 -0.12zM173.48 380.43l0.56 1.33 1.44 0.12 -1.09 0.94 0.33 1.41 -1.23 -0.75 -1.23 0.75 0.33 -1.41 -1.09 -0.94 1.44 -0.12zM178.08 380.43l0.56 1.33 1.44 0.12 -1.09 0.94 0.33 1.41 -1.23 -0.75 -1.23 0.75 0.33 -1.41 -1.09 -0.94 1.44 -0.12zM188.21 380.43l0.56 1.33 1.44 0.12 -1.09 0.94 0.33 1.41 -1.23 -0.75 -1.23 0.75 0.33 -1.41 -1.09 -0.94 1.44 -0.12zM192.81 380.43l0.56 1.33 1.44 0.12 -1.09 0.94 0.33 1.41 -1.23 -0.75 -1.23 0.75 0.33 -1.41 -1.09 -0.94 1.44 -0.12zM202.93 380.43l0.56 1.33 1.44 0.12 -1.09 0.94 0.33 1.41 -1.23 -0.75 -1.23 0.75 0.33 -1.41 -1.09 -0.94 1.44 -0.12zM207.53 380.43l0.56 1.33 1.44 0.12 -1.09 0.94 0.33 1.41 -1.23 -0.75 -1.23 0.75 0.33 -1.41 -1.09 -0.94 1.44 -0.12zM217.65 380.43l0.56 1.33 1.44 0.12 -1.09 0.94 0.33 1.41 -1.23 -0.75 -1.23 0.75 0.33 -1.41 -1.09 -0.94 1.44 -0.12zM222.25 380.43l0.56 1.33 1.44 0.12 -1.09 0.94 0.33 1.41 -1.23 -0.75 -1.23 0.75 0.33 -1.41 -1.09 -0.94 1.44 -0.12zM232.37 380.43l0.56 1.33 1.44 0.12 -1.09 0.94 0.33 1.41 -1.23 -0.75 -1.23 0.75 0.33 -1.41 -1.09 -0.94 1.44 -0.12zM236.97 380.43l0.56 1.33 1.44 0.12 -1.09 0.94 0.33 1.41 -1.23 -0.75 -1.23 0.75 0.33 -1.41 -1.09 -0.94 1.44 -0.12zM249.39 380.43l0.56 1.33 1.44 0.12 -1.09 0.94 0.33 1.41 -1.23 -0.75 -1.23 0.75 0.33 -1.41 -1.09 -0.94 1.44 -0.12zM264.12 380.43l0.56 1.33 1.44 0.12 -1.09 0.94 0.33 1.41 -1.23 -0.75 -1.23 0.75 0.33 -1.41 -1.09 -0.94 1.44 -0.12zM276.54 380.43l0.56 1.33 1.44 0.12 -1.09 0.94 0.33 1.41 -1.23 -0.75 -1.23 0.75 0.33 -1.41 -1.09 -0.94 1.44 -0.12zM281.14 380.43l0.56 1.33 1.44 0.12 -1.09 0.94 0.33 1.41 -1.23 -0.75 -1.23 0.75 0.33 -1.41 -1.09 -0.94 1.44 -0.12zM291.26 380.43l0.56 1.33 1.44 0.12 -1.09 0.94 0.33 1.41 -1.23 -0.75 -1.23 0.75 0.33 -1.41 -1.09 -0.94 1.44 -0.12zM295.86 380.43l0.56 1.33 1.44 0.12 -1.09 0.94 0.33 1.41 -1.23 -0.75 -1.23 0.75 0.33 -1.41 -1.09 -0.94 1.44 -0.12zM305.98 380.43l0.56 1.33 1.44 0.12 -1.09 0.94 0.33 1.41 -1.23 -0.75 -1.23 0.75 0.33 -1.41 -1.09 -0.94 1.44 -0.12zM310.58 380.43l0.56 1.33 1.44 0.12 -1.09 0.94 0.33 1.41 -1.23 -0.75 -1.23 0.75 0.33 -1.41 -1.09 -0.94 1.44 -0.12zM320.71 380.43l0.56 1.33 1.44 0.12 -1.09 0.94 0.33 1.41 -1.23 -0.75 -1.23 0.75 0.33 -1.41 -1.09 -0.94 1.44 -0.12zM325.31 380.43l0.56 1.33 1.44 0.12 -1.09 0.94 0.33 1.41 -1.23 -0.75 -1.23 0.75 0.33 -1.41 -1.09 -0.94 1.44 -0.12zM335.43 380.43l0.56 1.33 1.44 0.12 -1.09 0.94 0.33 1.41 -1.23 -0.75 -1.23 0.75 0.33 -1.41 -1.09 -0.94 1.44 -0.12zM340.03 380.43l0.56 1.33 1.44 0.12 -1.09 0.94 0.33 1.41 -1.23 -0.75 -1.23 0.75 0.33 -1.41 -1.09 -0.94 1.44 -0.12zM364.87 380.43l0.56 1.33 1.44 0.12 -1.09 0.94 0.33 1.41 -1.23 -0.75 -1.23 0.75 0.33 -1.41 -1.09 -0.94 1.44 -0.12zM369.47 380.43l0.56 1.33 1.44 0.12 -1.09 0.94 0.33 1.41 -1.23 -0.75 -1.23 0.75 0.33 -1.41 -1.09 -0.94 1.44 -0.12zM379.59 380.43l0.56 1.33 1.44 0.12 -1.09 0.94 0.33 1.41 -1.23 -0.75 -1.23 0.75 0.33 -1.41 -1.09 -0.94 1.44 -0.12zM384.19 380.43l0.56 1.33 1.44 0.12 -1.09 0.94 0.33 1.41 -1.23 -0.75 -1.23 0.75 0.33 -1.41 -1.09 -0.94 1.44 -0.12zM394.32 380.43l0.56 1.33 1.44 0.12 -1.09 0.94 0.33 1.41 -1.23 -0.75 -1.23 0.75 0.33 -1.41 -1.09 -0.94 1.44 -0.12zM398.92 380.43l0.56 1.33 1.44 0.12 -1.09 0.94 0.33 1.41 -1.23 -0.75 -1.23 0.75 0.33 -1.41 -1.09 -0.94 1.44 -0.12zM409.04 380.43l0.56 1.33 1.44 0.12 -1.09 0.94 0.33 1.41 -1.23 -0.75 -1.23 0.75 0.33 -1.41 -1.09 -0.94 1.44 -0.12zM413.64 380.43l0.56 1.33 1.44 0.12 -1.09 0.94 0.33 1.41 -1.23 -0.75 -1.23 0.75 0.33 -1.41 -1.09 -0.94 1.44 -0.12zM438.48 380.43l0.56 1.33 1.44 0.12 -1.09 0.94 0.33 1.41 -1.23 -0.75 -1.23 0.75 0.33 -1.41 -1.09 -0.94 1.44 -0.12zM443.08 380.43l0.56 1.33 1.44 0.12 -1.09 0.94 0.33 1.41 -1.23 -0.75 -1.23 0.75 0.33 -1.41 -1.09 -0.94 1.44 -0.12zM173.48 395.16l0.56 1.33 1.44 0.12 -1.09 0.94 0.33 1.41 -1.23 -0.75 -1.23 0.75 0.33 -1.41 -1.09 -0.94 1.44 -0.12zM178.08 395.16l0.56 1.33 1.44 0.12 -1.09 0.94 0.33 1.41 -1.23 -0.75 -1.23 0.75 0.33 -1.41 -1.09 -0.94 1.44 -0.12zM188.21 395.16l0.56 1.33 1.44 0.12 -1.09 0.94 0.33 1.41 -1.23 -0.75 -1.23 0.75 0.33 -1.41 -1.09 -0.94 1.44 -0.12zM192.81 395.16l0.56 1.33 1.44 0.12 -1.09 0.94 0.33 1.41 -1.23 -0.75 -1.23 0.75 0.33 -1.41 -1.09 -0.94 1.44 -0.12zM202.93 395.16l0.56 1.33 1.44 0.12 -1.09 0.94 0.33 1.41 -1.23 -0.75 -1.23 0.75 0.33 -1.41 -1.09 -0.94 1.44 -0.12zM207.53 395.16l0.56 1.33 1.44 0.12 -1.09 0.94 0.33 1.41 -1.23 -0.75 -1.23 0.75 0.33 -1.41 -1.09 -0.94 1.44 -0.12zM217.65 395.16l0.56 1.33 1.44 0.12 -1.09 0.94 0.33 1.41 -1.23 -0.75 -1.23 0.75 0.33 -1.41 -1.09 -0.94 1.44 -0.12zM222.25 395.16l0.56 1.33 1.44 0.12 -1.09 0.94 0.33 1.41 -1.23 -0.75 -1.23 0.75 0.33 -1.41 -1.09 -0.94 1.44 -0.12zM232.37 395.16l0.56 1.33 1.44 0.12 -1.09 0.94 0.33 1.41 -1.23 -0.75 -1.23 0.75 0.33 -1.41 -1.09 -0.94 1.44 -0.12zM236.97 395.16l0.56 1.33 1.44 0.12 -1.09 0.94 0.33 1.41 -1.23 -0.75 -1.23 0.75 0.33 -1.41 -1.09 -0.94 1.44 -0.12zM249.39 395.16l0.56 1.33 1.44 0.12 -1.09 0.94 0.33 1.41 -1.23 -0.75 -1.23 0.75 0.33 -1.41 -1.09 -0.94 1.44 -0.12zM264.12 395.16l0.56 1.33 1.44 0.12 -1.09 0.94 0.33 1.41 -1.23 -0.75 -1.23 0.75 0.33 -1.41 -1.09 -0.94 1.44 -0.12zM276.54 395.16l0.56 1.33 1.44 0.12 -1.09 0.94 0.33 1.41 -1.23 -0.75 -1.23 0.75 0.33 -1.41 -1.09 -0.94 1.44 -0.12zM281.14 395.16l0.56 1.33 1.44 0.12 -1.09 0.94 0.33 1.41 -1.23 -0.75 -1.23 0.75 0.33 -1.41 -1.09 -0.94 1.44 -0.12zM291.26 395.16l0.56 1.33 1.44 0.12 -1.09 0.94 0.33 1.41 -1.23 -0.75 -1.23 0.75 0.33 -1.41 -1.09 -0.94 1.44 -0.12zM295.86 395.16l0.56 1.33 1.44 0.12 -1.09 0.94 0.33 1.41 -1.23 -0.75 -1.23 0.75 0.33 -1.41 -1.09 -0.94 1.44 -0.12zM305.98 395.16l0.56 1.33 1.44 0.12 -1.09 0.94 0.33 1.41 -1.23 -0.75 -1.23 0.75 0.33 -1.41 -1.09 -0.94 1.44 -0.12zM310.58 395.16l0.56 1.33 1.44 0.12 -1.09 0.94 0.33 1.41 -1.23 -0.75 -1.23 0.75 0.33 -1.41 -1.09 -0.94 1.44 -0.12zM320.71 395.16l0.56 1.33 1.44 0.12 -1.09 0.94 0.33 1.41 -1.23 -0.75 -1.23 0.75 0.33 -1.41 -1.09 -0.94 1.44 -0.12zM325.31 395.16l0.56 1.33 1.44 0.12 -1.09 0.94 0.33 1.41 -1.23 -0.75 -1.23 0.75 0.33 -1.41 -1.09 -0.94 1.44 -0.12zM335.43 395.16l0.56 1.33 1.44 0.12 -1.09 0.94 0.33 1.41 -1.23 -0.75 -1.23 0.75 0.33 -1.41 -1.09 -0.94 1.44 -0.12zM340.03 395.16l0.56 1.33 1.44 0.12 -1.09 0.94 0.33 1.41 -1.23 -0.75 -1.23 0.75 0.33 -1.41 -1.09 -0.94 1.44 -0.12zM364.87 395.16l0.56 1.33 1.44 0.12 -1.09 0.94 0.33 1.41 -1.23 -0.75 -1.23 0.75 0.33 -1.41 -1.09 -0.94 1.44 -0.12zM369.47 395.16l0.56 1.33 1.44 0.12 -1.09 0.94 0.33 1.41 -1.23 -0.75 -1.23 0.75 0.33 -1.41 -1.09 -0.94 1.44 -0.12zM379.59 395.16l0.56 1.33 1.44 0.12 -1.09 0.94 0.33 1.41 -1.23 -0.75 -1.23 0.75 0.33 -1.41 -1.09 -0.94 1.44 -0.12zM384.19 395.16l0.56 1.33 1.44 0.12 -1.09 0.94 0.33 1.41 -1.23 -0.75 -1.23 0.75 0.33 -1.41 -1.09 -0.94 1.44 -0.12zM396.62 395.16l0.56 1.33 1.44 0.12 -1.09 0.94 0.33 1.41 -1.23 -0.75 -1.23 0.75 0.33 -1.41 -1.09 -0.94 1.44 -0.12zM409.04 395.16l0.56 1.33 1.44 0.12 -1.09 0.94 0.33 1.41 -1.23 -0.75 -1.23 0.75 0.33 -1.41 -1.09 -0.94 1.44 -0.12zM413.64 395.16l0.56 1.33 1.44 0.12 -1.09 0.94 0.33 1.41 -1.23 -0.75 -1.23 0.75 0.33 -1.41 -1.09 -0.94 1.44 -0.12zM438.48 395.16l0.56 1.33 1.44 0.12 -1.09 0.94 0.33 1.41 -1.23 -0.75 -1.23 0.75 0.33 -1.41 -1.09 -0.94 1.44 -0.12zM443.08 395.16l0.56 1.33 1.44 0.12 -1.09 0.94 0.33 1.41 -1.23 -0.75 -1.23 0.75 0.33 -1.41 -1.09 -0.94 1.44 -0.12zM453.21 395.16l0.56 1.33 1.44 0.12 -1.09 0.94 0.33 1.41 -1.23 -0.75 -1.23 0.75 0.33 -1.41 -1.09 -0.94 1.44 -0.12zM457.81 395.16l0.56 1.33 1.44 0.12 -1.09 0.94 0.33 1.41 -1.23 -0.75 -1.23 0.75 0.33 -1.41 -1.09 -0.94 1.44 -0.12zM173.48 409.88l0.56 1.33 1.44 0.12 -1.09 0.94 0.33 1.41 -1.23 -0.75 -1.23 0.75 0.33 -1.41 -1.09 -0.94 1.44 -0.12zM178.08 409.88l0.56 1.33 1.44 0.12 -1.09 0.94 0.33 1.41 -1.23 -0.75 -1.23 0.75 0.33 -1.41 -1.09 -0.94 1.44 -0.12zM188.21 409.88l0.56 1.33 1.44 0.12 -1.09 0.94 0.33 1.41 -1.23 -0.75 -1.23 0.75 0.33 -1.41 -1.09 -0.94 1.44 -0.12zM192.81 409.88l0.56 1.33 1.44 0.12 -1.09 0.94 0.33 1.41 -1.23 -0.75 -1.23 0.75 0.33 -1.41 -1.09 -0.94 1.44 -0.12zM202.93 409.88l0.56 1.33 1.44 0.12 -1.09 0.94 0.33 1.41 -1.23 -0.75 -1.23 0.75 0.33 -1.41 -1.09 -0.94 1.44 -0.12zM207.53 409.88l0.56 1.33 1.44 0.12 -1.09 0.94 0.33 1.41 -1.23 -0.75 -1.23 0.75 0.33 -1.41 -1.09 -0.94 1.44 -0.12zM217.65 409.88l0.56 1.33 1.44 0.12 -1.09 0.94 0.33 1.41 -1.23 -0.75 -1.23 0.75 0.33 -1.41 -1.09 -0.94 1.44 -0.12zM222.25 409.88l0.56 1.33 1.44 0.12 -1.09 0.94 0.33 1.41 -1.23 -0.75 -1.23 0.75 0.33 -1.41 -1.09 -0.94 1.44 -0.12zM232.37 409.88l0.56 1.33 1.44 0.12 -1.09 0.94 0.33 1.41 -1.23 -0.75 -1.23 0.75 0.33 -1.41 -1.09 -0.94 1.44 -0.12zM236.97 409.88l0.56 1.33 1.44 0.12 -1.09 0.94 0.33 1.41 -1.23 -0.75 -1.23 0.75 0.33 -1.41 -1.09 -0.94 1.44 -0.12zM249.39 409.88l0.56 1.33 1.44 0.12 -1.09 0.94 0.33 1.41 -1.23 -0.75 -1.23 0.75 0.33 -1.41 -1.09 -0.94 1.44 -0.12zM276.54 409.88l0.56 1.33 1.44 0.12 -1.09 0.94 0.33 1.41 -1.23 -0.75 -1.23 0.75 0.33 -1.41 -1.09 -0.94 1.44 -0.12zM281.14 409.88l0.56 1.33 1.44 0.12 -1.09 0.94 0.33 1.41 -1.23 -0.75 -1.23 0.75 0.33 -1.41 -1.09 -0.94 1.44 -0.12zM291.26 409.88l0.56 1.33 1.44 0.12 -1.09 0.94 0.33 1.41 -1.23 -0.75 -1.23 0.75 0.33 -1.41 -1.09 -0.94 1.44 -0.12zM295.86 409.88l0.56 1.33 1.44 0.12 -1.09 0.94 0.33 1.41 -1.23 -0.75 -1.23 0.75 0.33 -1.41 -1.09 -0.94 1.44 -0.12zM305.98 409.88l0.56 1.33 1.44 0.12 -1.09 0.94 0.33 1.41 -1.23 -0.75 -1.23 0.75 0.33 -1.41 -1.09 -0.94 1.44 -0.12zM310.58 409.88l0.56 1.33 1.44 0.12 -1.09 0.94 0.33 1.41 -1.23 -0.75 -1.23 0.75 0.33 -1.41 -1.09 -0.94 1.44 -0.12zM320.71 409.88l0.56 1.33 1.44 0.12 -1.09 0.94 0.33 1.41 -1.23 -0.75 -1.23 0.75 0.33 -1.41 -1.09 -0.94 1.44 -0.12zM325.31 409.88l0.56 1.33 1.44 0.12 -1.09 0.94 0.33 1.41 -1.23 -0.75 -1.23 0.75 0.33 -1.41 -1.09 -0.94 1.44 -0.12zM335.43 409.88l0.56 1.33 1.44 0.12 -1.09 0.94 0.33 1.41 -1.23 -0.75 -1.23 0.75 0.33 -1.41 -1.09 -0.94 1.44 -0.12zM340.03 409.88l0.56 1.33 1.44 0.12 -1.09 0.94 0.33 1.41 -1.23 -0.75 -1.23 0.75 0.33 -1.41 -1.09 -0.94 1.44 -0.12zM364.87 409.88l0.56 1.33 1.44 0.12 -1.09 0.94 0.33 1.41 -1.23 -0.75 -1.23 0.75 0.33 -1.41 -1.09 -0.94 1.44 -0.12zM369.47 409.88l0.56 1.33 1.44 0.12 -1.09 0.94 0.33 1.41 -1.23 -0.75 -1.23 0.75 0.33 -1.41 -1.09 -0.94 1.44 -0.12zM379.59 409.88l0.56 1.33 1.44 0.12 -1.09 0.94 0.33 1.41 -1.23 -0.75 -1.23 0.75 0.33 -1.41 -1.09 -0.94 1.44 -0.12zM384.19 409.88l0.56 1.33 1.44 0.12 -1.09 0.94 0.33 1.41 -1.23 -0.75 -1.23 0.75 0.33 -1.41 -1.09 -0.94 1.44 -0.12zM394.32 409.88l0.56 1.33 1.44 0.12 -1.09 0.94 0.33 1.41 -1.23 -0.75 -1.23 0.75 0.33 -1.41 -1.09 -0.94 1.44 -0.12zM398.92 409.88l0.56 1.33 1.44 0.12 -1.09 0.94 0.33 1.41 -1.23 -0.75 -1.23 0.75 0.33 -1.41 -1.09 -0.94 1.44 -0.12zM409.04 409.88l0.56 1.33 1.44 0.12 -1.09 0.94 0.33 1.41 -1.23 -0.75 -1.23 0.75 0.33 -1.41 -1.09 -0.94 1.44 -0.12zM413.64 409.88l0.56 1.33 1.44 0.12 -1.09 0.94 0.33 1.41 -1.23 -0.75 -1.23 0.75 0.33 -1.41 -1.09 -0.94 1.44 -0.12zM438.48 409.88l0.56 1.33 1.44 0.12 -1.09 0.94 0.33 1.41 -1.23 -0.75 -1.23 0.75 0.33 -1.41 -1.09 -0.94 1.44 -0.12zM443.08 409.88l0.56 1.33 1.44 0.12 -1.09 0.94 0.33 1.41 -1.23 -0.75 -1.23 0.75 0.33 -1.41 -1.09 -0.94 1.44 -0.12zM453.21 409.88l0.56 1.33 1.44 0.12 -1.09 0.94 0.33 1.41 -1.23 -0.75 -1.23 0.75 0.33 -1.41 -1.09 -0.94 1.44 -0.12zM457.81 409.88l0.56 1.33 1.44 0.12 -1.09 0.94 0.33 1.41 -1.23 -0.75 -1.23 0.75 0.33 -1.41 -1.09 -0.94 1.44 -0.12zM467.93 409.88l0.56 1.33 1.44 0.12 -1.09 0.94 0.33 1.41 -1.23 -0.75 -1.23 0.75 0.33 -1.41 -1.09 -0.94 1.44 -0.12zM472.53 409.88l0.56 1.33 1.44 0.12 -1.09 0.94 0.33 1.41 -1.23 -0.75 -1.23 0.75 0.33 -1.41 -1.09 -0.94 1.44 -0.12zM173.48 424.60l0.56 1.33 1.44 0.12 -1.09 0.94 0.33 1.41 -1.23 -0.75 -1.23 0.75 0.33 -1.41 -1.09 -0.94 1.44 -0.12zM178.08 424.60l0.56 1.33 1.44 0.12 -1.09 0.94 0.33 1.41 -1.23 -0.75 -1.23 0.75 0.33 -1.41 -1.09 -0.94 1.44 -0.12zM188.21 424.60l0.56 1.33 1.44 0.12 -1.09 0.94 0.33 1.41 -1.23 -0.75 -1.23 0.75 0.33 -1.41 -1.09 -0.94 1.44 -0.12zM192.81 424.60l0.56 1.33 1.44 0.12 -1.09 0.94 0.33 1.41 -1.23 -0.75 -1.23 0.75 0.33 -1.41 -1.09 -0.94 1.44 -0.12zM202.93 424.60l0.56 1.33 1.44 0.12 -1.09 0.94 0.33 1.41 -1.23 -0.75 -1.23 0.75 0.33 -1.41 -1.09 -0.94 1.44 -0.12zM207.53 424.60l0.56 1.33 1.44 0.12 -1.09 0.94 0.33 1.41 -1.23 -0.75 -1.23 0.75 0.33 -1.41 -1.09 -0.94 1.44 -0.12zM217.65 424.60l0.56 1.33 1.44 0.12 -1.09 0.94 0.33 1.41 -1.23 -0.75 -1.23 0.75 0.33 -1.41 -1.09 -0.94 1.44 -0.12zM222.25 424.60l0.56 1.33 1.44 0.12 -1.09 0.94 0.33 1.41 -1.23 -0.75 -1.23 0.75 0.33 -1.41 -1.09 -0.94 1.44 -0.12zM232.37 424.60l0.56 1.33 1.44 0.12 -1.09 0.94 0.33 1.41 -1.23 -0.75 -1.23 0.75 0.33 -1.41 -1.09 -0.94 1.44 -0.12zM236.97 424.60l0.56 1.33 1.44 0.12 -1.09 0.94 0.33 1.41 -1.23 -0.75 -1.23 0.75 0.33 -1.41 -1.09 -0.94 1.44 -0.12zM247.09 424.60l0.56 1.33 1.44 0.12 -1.09 0.94 0.33 1.41 -1.23 -0.75 -1.23 0.75 0.33 -1.41 -1.09 -0.94 1.44 -0.12zM251.69 424.60l0.56 1.33 1.44 0.12 -1.09 0.94 0.33 1.41 -1.23 -0.75 -1.23 0.75 0.33 -1.41 -1.09 -0.94 1.44 -0.12zM264.12 424.60l0.56 1.33 1.44 0.12 -1.09 0.94 0.33 1.41 -1.23 -0.75 -1.23 0.75 0.33 -1.41 -1.09 -0.94 1.44 -0.12zM276.54 424.60l0.56 1.33 1.44 0.12 -1.09 0.94 0.33 1.41 -1.23 -0.75 -1.23 0.75 0.33 -1.41 -1.09 -0.94 1.44 -0.12zM281.14 424.60l0.56 1.33 1.44 0.12 -1.09 0.94 0.33 1.41 -1.23 -0.75 -1.23 0.75 0.33 -1.41 -1.09 -0.94 1.44 -0.12zM291.26 424.60l0.56 1.33 1.44 0.12 -1.09 0.94 0.33 1.41 -1.23 -0.75 -1.23 0.75 0.33 -1.41 -1.09 -0.94 1.44 -0.12zM295.86 424.60l0.56 1.33 1.44 0.12 -1.09 0.94 0.33 1.41 -1.23 -0.75 -1.23 0.75 0.33 -1.41 -1.09 -0.94 1.44 -0.12zM305.98 424.60l0.56 1.33 1.44 0.12 -1.09 0.94 0.33 1.41 -1.23 -0.75 -1.23 0.75 0.33 -1.41 -1.09 -0.94 1.44 -0.12zM310.58 424.60l0.56 1.33 1.44 0.12 -1.09 0.94 0.33 1.41 -1.23 -0.75 -1.23 0.75 0.33 -1.41 -1.09 -0.94 1.44 -0.12zM320.71 424.60l0.56 1.33 1.44 0.12 -1.09 0.94 0.33 1.41 -1.23 -0.75 -1.23 0.75 0.33 -1.41 -1.09 -0.94 1.44 -0.12zM325.31 424.60l0.56 1.33 1.44 0.12 -1.09 0.94 0.33 1.41 -1.23 -0.75 -1.23 0.75 0.33 -1.41 -1.09 -0.94 1.44 -0.12zM335.43 424.60l0.56 1.33 1.44 0.12 -1.09 0.94 0.33 1.41 -1.23 -0.75 -1.23 0.75 0.33 -1.41 -1.09 -0.94 1.44 -0.12zM340.03 424.60l0.56 1.33 1.44 0.12 -1.09 0.94 0.33 1.41 -1.23 -0.75 -1.23 0.75 0.33 -1.41 -1.09 -0.94 1.44 -0.12zM364.87 424.60l0.56 1.33 1.44 0.12 -1.09 0.94 0.33 1.41 -1.23 -0.75 -1.23 0.75 0.33 -1.41 -1.09 -0.94 1.44 -0.12zM369.47 424.60l0.56 1.33 1.44 0.12 -1.09 0.94 0.33 1.41 -1.23 -0.75 -1.23 0.75 0.33 -1.41 -1.09 -0.94 1.44 -0.12zM379.59 424.60l0.56 1.33 1.44 0.12 -1.09 0.94 0.33 1.41 -1.23 -0.75 -1.23 0.75 0.33 -1.41 -1.09 -0.94 1.44 -0.12zM384.19 424.60l0.56 1.33 1.44 0.12 -1.09 0.94 0.33 1.41 -1.23 -0.75 -1.23 0.75 0.33 -1.41 -1.09 -0.94 1.44 -0.12zM396.62 424.60l0.56 1.33 1.44 0.12 -1.09 0.94 0.33 1.41 -1.23 -0.75 -1.23 0.75 0.33 -1.41 -1.09 -0.94 1.44 -0.12zM409.04 424.60l0.56 1.33 1.44 0.12 -1.09 0.94 0.33 1.41 -1.23 -0.75 -1.23 0.75 0.33 -1.41 -1.09 -0.94 1.44 -0.12zM413.64 424.60l0.56 1.33 1.44 0.12 -1.09 0.94 0.33 1.41 -1.23 -0.75 -1.23 0.75 0.33 -1.41 -1.09 -0.94 1.44 -0.12zM438.48 424.60l0.56 1.33 1.44 0.12 -1.09 0.94 0.33 1.41 -1.23 -0.75 -1.23 0.75 0.33 -1.41 -1.09 -0.94 1.44 -0.12zM443.08 424.60l0.56 1.33 1.44 0.12 -1.09 0.94 0.33 1.41 -1.23 -0.75 -1.23 0.75 0.33 -1.41 -1.09 -0.94 1.44 -0.12zM453.21 424.60l0.56 1.33 1.44 0.12 -1.09 0.94 0.33 1.41 -1.23 -0.75 -1.23 0.75 0.33 -1.41 -1.09 -0.94 1.44 -0.12zM457.81 424.60l0.56 1.33 1.44 0.12 -1.09 0.94 0.33 1.41 -1.23 -0.75 -1.23 0.75 0.33 -1.41 -1.09 -0.94 1.44 -0.12zM467.93 424.60l0.56 1.33 1.44 0.12 -1.09 0.94 0.33 1.41 -1.23 -0.75 -1.23 0.75 0.33 -1.41 -1.09 -0.94 1.44 -0.12zM472.53 424.60l0.56 1.33 1.44 0.12 -1.09 0.94 0.33 1.41 -1.23 -0.75 -1.23 0.75 0.33 -1.41 -1.09 -0.94 1.44 -0.12zM482.65 424.60l0.56 1.33 1.44 0.12 -1.09 0.94 0.33 1.41 -1.23 -0.75 -1.23 0.75 0.33 -1.41 -1.09 -0.94 1.44 -0.12zM487.25 424.60l0.56 1.33 1.44 0.12 -1.09 0.94 0.33 1.41 -1.23 -0.75 -1.23 0.75 0.33 -1.41 -1.09 -0.94 1.44 -0.12zM173.48 439.32l0.56 1.33 1.44 0.12 -1.09 0.94 0.33 1.41 -1.23 -0.75 -1.23 0.75 0.33 -1.41 -1.09 -0.94 1.44 -0.12zM178.08 439.32l0.56 1.33 1.44 0.12 -1.09 0.94 0.33 1.41 -1.23 -0.75 -1.23 0.75 0.33 -1.41 -1.09 -0.94 1.44 -0.12zM188.21 439.32l0.56 1.33 1.44 0.12 -1.09 0.94 0.33 1.41 -1.23 -0.75 -1.23 0.75 0.33 -1.41 -1.09 -0.94 1.44 -0.12zM192.81 439.32l0.56 1.33 1.44 0.12 -1.09 0.94 0.33 1.41 -1.23 -0.75 -1.23 0.75 0.33 -1.41 -1.09 -0.94 1.44 -0.12zM202.93 439.32l0.56 1.33 1.44 0.12 -1.09 0.94 0.33 1.41 -1.23 -0.75 -1.23 0.75 0.33 -1.41 -1.09 -0.94 1.44 -0.12zM207.53 439.32l0.56 1.33 1.44 0.12 -1.09 0.94 0.33 1.41 -1.23 -0.75 -1.23 0.75 0.33 -1.41 -1.09 -0.94 1.44 -0.12zM217.65 439.32l0.56 1.33 1.44 0.12 -1.09 0.94 0.33 1.41 -1.23 -0.75 -1.23 0.75 0.33 -1.41 -1.09 -0.94 1.44 -0.12zM222.25 439.32l0.56 1.33 1.44 0.12 -1.09 0.94 0.33 1.41 -1.23 -0.75 -1.23 0.75 0.33 -1.41 -1.09 -0.94 1.44 -0.12zM232.37 439.32l0.56 1.33 1.44 0.12 -1.09 0.94 0.33 1.41 -1.23 -0.75 -1.23 0.75 0.33 -1.41 -1.09 -0.94 1.44 -0.12zM236.97 439.32l0.56 1.33 1.44 0.12 -1.09 0.94 0.33 1.41 -1.23 -0.75 -1.23 0.75 0.33 -1.41 -1.09 -0.94 1.44 -0.12zM249.39 439.32l0.56 1.33 1.44 0.12 -1.09 0.94 0.33 1.41 -1.23 -0.75 -1.23 0.75 0.33 -1.41 -1.09 -0.94 1.44 -0.12zM276.54 439.32l0.56 1.33 1.44 0.12 -1.09 0.94 0.33 1.41 -1.23 -0.75 -1.23 0.75 0.33 -1.41 -1.09 -0.94 1.44 -0.12zM281.14 439.32l0.56 1.33 1.44 0.12 -1.09 0.94 0.33 1.41 -1.23 -0.75 -1.23 0.75 0.33 -1.41 -1.09 -0.94 1.44 -0.12zM291.26 439.32l0.56 1.33 1.44 0.12 -1.09 0.94 0.33 1.41 -1.23 -0.75 -1.23 0.75 0.33 -1.41 -1.09 -0.94 1.44 -0.12zM295.86 439.32l0.56 1.33 1.44 0.12 -1.09 0.94 0.33 1.41 -1.23 -0.75 -1.23 0.75 0.33 -1.41 -1.09 -0.94 1.44 -0.12zM305.98 439.32l0.56 1.33 1.44 0.12 -1.09 0.94 0.33 1.41 -1.23 -0.75 -1.23 0.75 0.33 -1.41 -1.09 -0.94 1.44 -0.12zM310.58 439.32l0.56 1.33 1.44 0.12 -1.09 0.94 0.33 1.41 -1.23 -0.75 -1.23 0.75 0.33 -1.41 -1.09 -0.94 1.44 -0.12zM320.71 439.32l0.56 1.33 1.44 0.12 -1.09 0.94 0.33 1.41 -1.23 -0.75 -1.23 0.75 0.33 -1.41 -1.09 -0.94 1.44 -0.12zM325.31 439.32l0.56 1.33 1.44 0.12 -1.09 0.94 0.33 1.41 -1.23 -0.75 -1.23 0.75 0.33 -1.41 -1.09 -0.94 1.44 -0.12zM335.43 439.32l0.56 1.33 1.44 0.12 -1.09 0.94 0.33 1.41 -1.23 -0.75 -1.23 0.75 0.33 -1.41 -1.09 -0.94 1.44 -0.12zM340.03 439.32l0.56 1.33 1.44 0.12 -1.09 0.94 0.33 1.41 -1.23 -0.75 -1.23 0.75 0.33 -1.41 -1.09 -0.94 1.44 -0.12zM364.87 439.32l0.56 1.33 1.44 0.12 -1.09 0.94 0.33 1.41 -1.23 -0.75 -1.23 0.75 0.33 -1.41 -1.09 -0.94 1.44 -0.12zM369.47 439.32l0.56 1.33 1.44 0.12 -1.09 0.94 0.33 1.41 -1.23 -0.75 -1.23 0.75 0.33 -1.41 -1.09 -0.94 1.44 -0.12zM379.59 439.32l0.56 1.33 1.44 0.12 -1.09 0.94 0.33 1.41 -1.23 -0.75 -1.23 0.75 0.33 -1.41 -1.09 -0.94 1.44 -0.12zM384.19 439.32l0.56 1.33 1.44 0.12 -1.09 0.94 0.33 1.41 -1.23 -0.75 -1.23 0.75 0.33 -1.41 -1.09 -0.94 1.44 -0.12zM396.62 439.32l0.56 1.33 1.44 0.12 -1.09 0.94 0.33 1.41 -1.23 -0.75 -1.23 0.75 0.33 -1.41 -1.09 -0.94 1.44 -0.12zM409.04 439.32l0.56 1.33 1.44 0.12 -1.09 0.94 0.33 1.41 -1.23 -0.75 -1.23 0.75 0.33 -1.41 -1.09 -0.94 1.44 -0.12zM413.64 439.32l0.56 1.33 1.44 0.12 -1.09 0.94 0.33 1.41 -1.23 -0.75 -1.23 0.75 0.33 -1.41 -1.09 -0.94 1.44 -0.12zM438.48 439.32l0.56 1.33 1.44 0.12 -1.09 0.94 0.33 1.41 -1.23 -0.75 -1.23 0.75 0.33 -1.41 -1.09 -0.94 1.44 -0.12zM443.08 439.32l0.56 1.33 1.44 0.12 -1.09 0.94 0.33 1.41 -1.23 -0.75 -1.23 0.75 0.33 -1.41 -1.09 -0.94 1.44 -0.12zM453.21 439.32l0.56 1.33 1.44 0.12 -1.09 0.94 0.33 1.41 -1.23 -0.75 -1.23 0.75 0.33 -1.41 -1.09 -0.94 1.44 -0.12zM457.81 439.32l0.56 1.33 1.44 0.12 -1.09 0.94 0.33 1.41 -1.23 -0.75 -1.23 0.75 0.33 -1.41 -1.09 -0.94 1.44 -0.12zM467.93 439.32l0.56 1.33 1.44 0.12 -1.09 0.94 0.33 1.41 -1.23 -0.75 -1.23 0.75 0.33 -1.41 -1.09 -0.94 1.44 -0.12zM472.53 439.32l0.56 1.33 1.44 0.12 -1.09 0.94 0.33 1.41 -1.23 -0.75 -1.23 0.75 0.33 -1.41 -1.09 -0.94 1.44 -0.12zM482.65 439.32l0.56 1.33 1.44 0.12 -1.09 0.94 0.33 1.41 -1.23 -0.75 -1.23 0.75 0.33 -1.41 -1.09 -0.94 1.44 -0.12zM487.25 439.32l0.56 1.33 1.44 0.12 -1.09 0.94 0.33 1.41 -1.23 -0.75 -1.23 0.75 0.33 -1.41 -1.09 -0.94 1.44 -0.12zM497.37 439.32l0.56 1.33 1.44 0.12 -1.09 0.94 0.33 1.41 -1.23 -0.75 -1.23 0.75 0.33 -1.41 -1.09 -0.94 1.44 -0.12zM501.97 439.32l0.56 1.33 1.44 0.12 -1.09 0.94 0.33 1.41 -1.23 -0.75 -1.23 0.75 0.33 -1.41 -1.09 -0.94 1.44 -0.12zM190.51 454.04l0.56 1.33 1.44 0.12 -1.09 0.94 0.33 1.41 -1.23 -0.75 -1.23 0.75 0.33 -1.41 -1.09 -0.94 1.44 -0.12zM219.95 454.04l0.56 1.33 1.44 0.12 -1.09 0.94 0.33 1.41 -1.23 -0.75 -1.23 0.75 0.33 -1.41 -1.09 -0.94 1.44 -0.12zM247.09 454.04l0.56 1.33 1.44 0.12 -1.09 0.94 0.33 1.41 -1.23 -0.75 -1.23 0.75 0.33 -1.41 -1.09 -0.94 1.44 -0.12zM251.69 454.04l0.56 1.33 1.44 0.12 -1.09 0.94 0.33 1.41 -1.23 -0.75 -1.23 0.75 0.33 -1.41 -1.09 -0.94 1.44 -0.12zM261.82 454.04l0.56 1.33 1.44 0.12 -1.09 0.94 0.33 1.41 -1.23 -0.75 -1.23 0.75 0.33 -1.41 -1.09 -0.94 1.44 -0.12zM266.42 454.04l0.56 1.33 1.44 0.12 -1.09 0.94 0.33 1.41 -1.23 -0.75 -1.23 0.75 0.33 -1.41 -1.09 -0.94 1.44 -0.12zM278.84 454.04l0.56 1.33 1.44 0.12 -1.09 0.94 0.33 1.41 -1.23 -0.75 -1.23 0.75 0.33 -1.41 -1.09 -0.94 1.44 -0.12zM308.28 454.04l0.56 1.33 1.44 0.12 -1.09 0.94 0.33 1.41 -1.23 -0.75 -1.23 0.75 0.33 -1.41 -1.09 -0.94 1.44 -0.12zM323.01 454.04l0.56 1.33 1.44 0.12 -1.09 0.94 0.33 1.41 -1.23 -0.75 -1.23 0.75 0.33 -1.41 -1.09 -0.94 1.44 -0.12zM381.89 454.04l0.56 1.33 1.44 0.12 -1.09 0.94 0.33 1.41 -1.23 -0.75 -1.23 0.75 0.33 -1.41 -1.09 -0.94 1.44 -0.12zM411.34 454.04l0.56 1.33 1.44 0.12 -1.09 0.94 0.33 1.41 -1.23 -0.75 -1.23 0.75 0.33 -1.41 -1.09 -0.94 1.44 -0.12zM440.78 454.04l0.56 1.33 1.44 0.12 -1.09 0.94 0.33 1.41 -1.23 -0.75 -1.23 0.75 0.33 -1.41 -1.09 -0.94 1.44 -0.12zM455.51 454.04l0.56 1.33 1.44 0.12 -1.09 0.94 0.33 1.41 -1.23 -0.75 -1.23 0.75 0.33 -1.41 -1.09 -0.94 1.44 -0.12zM470.23 454.04l0.56 1.33 1.44 0.12 -1.09 0.94 0.33 1.41 -1.23 -0.75 -1.23 0.75 0.33 -1.41 -1.09 -0.94 1.44 -0.12zM484.95 454.04l0.56 1.33 1.44 0.12 -1.09 0.94 0.33 1.41 -1.23 -0.75 -1.23 0.75 0.33 -1.41 -1.09 -0.94 1.44 -0.12zM499.67 454.04l0.56 1.33 1.44 0.12 -1.09 0.94 0.33 1.41 -1.23 -0.75 -1.23 0.75 0.33 -1.41 -1.09 -0.94 1.44 -0.12zM512.09 454.04l0.56 1.33 1.44 0.12 -1.09 0.94 0.33 1.41 -1.23 -0.75 -1.23 0.75 0.33 -1.41 -1.09 -0.94 1.44 -0.12zM516.69 454.04l0.56 1.33 1.44 0.12 -1.09 0.94 0.33 1.41 -1.23 -0.75 -1.23 0.75 0.33 -1.41 -1.09 -0.94 1.44 -0.12zM190.51 468.77l0.56 1.33 1.44 0.12 -1.09 0.94 0.33 1.41 -1.23 -0.75 -1.23 0.75 0.33 -1.41 -1.09 -0.94 1.44 -0.12zM219.95 468.77l0.56 1.33 1.44 0.12 -1.09 0.94 0.33 1.41 -1.23 -0.75 -1.23 0.75 0.33 -1.41 -1.09 -0.94 1.44 -0.12zM247.09 468.77l0.56 1.33 1.44 0.12 -1.09 0.94 0.33 1.41 -1.23 -0.75 -1.23 0.75 0.33 -1.41 -1.09 -0.94 1.44 -0.12zM251.69 468.77l0.56 1.33 1.44 0.12 -1.09 0.94 0.33 1.41 -1.23 -0.75 -1.23 0.75 0.33 -1.41 -1.09 -0.94 1.44 -0.12zM261.82 468.77l0.56 1.33 1.44 0.12 -1.09 0.94 0.33 1.41 -1.23 -0.75 -1.23 0.75 0.33 -1.41 -1.09 -0.94 1.44 -0.12zM266.42 468.77l0.56 1.33 1.44 0.12 -1.09 0.94 0.33 1.41 -1.23 -0.75 -1.23 0.75 0.33 -1.41 -1.09 -0.94 1.44 -0.12zM381.89 468.77l0.56 1.33 1.44 0.12 -1.09 0.94 0.33 1.41 -1.23 -0.75 -1.23 0.75 0.33 -1.41 -1.09 -0.94 1.44 -0.12zM440.78 468.77l0.56 1.33 1.44 0.12 -1.09 0.94 0.33 1.41 -1.23 -0.75 -1.23 0.75 0.33 -1.41 -1.09 -0.94 1.44 -0.12zM455.51 468.77l0.56 1.33 1.44 0.12 -1.09 0.94 0.33 1.41 -1.23 -0.75 -1.23 0.75 0.33 -1.41 -1.09 -0.94 1.44 -0.12zM470.23 468.77l0.56 1.33 1.44 0.12 -1.09 0.94 0.33 1.41 -1.23 -0.75 -1.23 0.75 0.33 -1.41 -1.09 -0.94 1.44 -0.12zM484.95 468.77l0.56 1.33 1.44 0.12 -1.09 0.94 0.33 1.41 -1.23 -0.75 -1.23 0.75 0.33 -1.41 -1.09 -0.94 1.44 -0.12zM512.09 468.77l0.56 1.33 1.44 0.12 -1.09 0.94 0.33 1.41 -1.23 -0.75 -1.23 0.75 0.33 -1.41 -1.09 -0.94 1.44 -0.12zM516.69 468.77l0.56 1.33 1.44 0.12 -1.09 0.94 0.33 1.41 -1.23 -0.75 -1.23 0.75 0.33 -1.41 -1.09 -0.94 1.44 -0.12zM526.82 468.77l0.56 1.33 1.44 0.12 -1.09 0.94 0.33 1.41 -1.23 -0.75 -1.23 0.75 0.33 -1.41 -1.09 -0.94 1.44 -0.12zM531.42 468.77l0.56 1.33 1.44 0.12 -1.09 0.94 0.33 1.41 -1.23 -0.75 -1.23 0.75 0.33 -1.41 -1.09 -0.94 1.44 -0.12zM173.48 483.49l0.56 1.33 1.44 0.12 -1.09 0.94 0.33 1.41 -1.23 -0.75 -1.23 0.75 0.33 -1.41 -1.09 -0.94 1.44 -0.12zM178.08 483.49l0.56 1.33 1.44 0.12 -1.09 0.94 0.33 1.41 -1.23 -0.75 -1.23 0.75 0.33 -1.41 -1.09 -0.94 1.44 -0.12zM188.21 483.49l0.56 1.33 1.44 0.12 -1.09 0.94 0.33 1.41 -1.23 -0.75 -1.23 0.75 0.33 -1.41 -1.09 -0.94 1.44 -0.12zM192.81 483.49l0.56 1.33 1.44 0.12 -1.09 0.94 0.33 1.41 -1.23 -0.75 -1.23 0.75 0.33 -1.41 -1.09 -0.94 1.44 -0.12zM202.93 483.49l0.56 1.33 1.44 0.12 -1.09 0.94 0.33 1.41 -1.23 -0.75 -1.23 0.75 0.33 -1.41 -1.09 -0.94 1.44 -0.12zM207.53 483.49l0.56 1.33 1.44 0.12 -1.09 0.94 0.33 1.41 -1.23 -0.75 -1.23 0.75 0.33 -1.41 -1.09 -0.94 1.44 -0.12zM217.65 483.49l0.56 1.33 1.44 0.12 -1.09 0.94 0.33 1.41 -1.23 -0.75 -1.23 0.75 0.33 -1.41 -1.09 -0.94 1.44 -0.12zM222.25 483.49l0.56 1.33 1.44 0.12 -1.09 0.94 0.33 1.41 -1.23 -0.75 -1.23 0.75 0.33 -1.41 -1.09 -0.94 1.44 -0.12zM232.37 483.49l0.56 1.33 1.44 0.12 -1.09 0.94 0.33 1.41 -1.23 -0.75 -1.23 0.75 0.33 -1.41 -1.09 -0.94 1.44 -0.12zM236.97 483.49l0.56 1.33 1.44 0.12 -1.09 0.94 0.33 1.41 -1.23 -0.75 -1.23 0.75 0.33 -1.41 -1.09 -0.94 1.44 -0.12zM249.39 483.49l0.56 1.33 1.44 0.12 -1.09 0.94 0.33 1.41 -1.23 -0.75 -1.23 0.75 0.33 -1.41 -1.09 -0.94 1.44 -0.12zM276.54 483.49l0.56 1.33 1.44 0.12 -1.09 0.94 0.33 1.41 -1.23 -0.75 -1.23 0.75 0.33 -1.41 -1.09 -0.94 1.44 -0.12zM281.14 483.49l0.56 1.33 1.44 0.12 -1.09 0.94 0.33 1.41 -1.23 -0.75 -1.23 0.75 0.33 -1.41 -1.09 -0.94 1.44 -0.12zM291.26 483.49l0.56 1.33 1.44 0.12 -1.09 0.94 0.33 1.41 -1.23 -0.75 -1.23 0.75 0.33 -1.41 -1.09 -0.94 1.44 -0.12zM295.86 483.49l0.56 1.33 1.44 0.12 -1.09 0.94 0.33 1.41 -1.23 -0.75 -1.23 0.75 0.33 -1.41 -1.09 -0.94 1.44 -0.12zM305.98 483.49l0.56 1.33 1.44 0.12 -1.09 0.94 0.33 1.41 -1.23 -0.75 -1.23 0.75 0.33 -1.41 -1.09 -0.94 1.44 -0.12zM310.58 483.49l0.56 1.33 1.44 0.12 -1.09 0.94 0.33 1.41 -1.23 -0.75 -1.23 0.75 0.33 -1.41 -1.09 -0.94 1.44 -0.12zM320.71 483.49l0.56 1.33 1.44 0.12 -1.09 0.94 0.33 1.41 -1.23 -0.75 -1.23 0.75 0.33 -1.41 -1.09 -0.94 1.44 -0.12zM325.31 483.49l0.56 1.33 1.44 0.12 -1.09 0.94 0.33 1.41 -1.23 -0.75 -1.23 0.75 0.33 -1.41 -1.09 -0.94 1.44 -0.12zM335.43 483.49l0.56 1.33 1.44 0.12 -1.09 0.94 0.33 1.41 -1.23 -0.75 -1.23 0.75 0.33 -1.41 -1.09 -0.94 1.44 -0.12zM340.03 483.49l0.56 1.33 1.44 0.12 -1.09 0.94 0.33 1.41 -1.23 -0.75 -1.23 0.75 0.33 -1.41 -1.09 -0.94 1.44 -0.12zM364.87 483.49l0.56 1.33 1.44 0.12 -1.09 0.94 0.33 1.41 -1.23 -0.75 -1.23 0.75 0.33 -1.41 -1.09 -0.94 1.44 -0.12zM369.47 483.49l0.56 1.33 1.44 0.12 -1.09 0.94 0.33 1.41 -1.23 -0.75 -1.23 0.75 0.33 -1.41 -1.09 -0.94 1.44 -0.12zM379.59 483.49l0.56 1.33 1.44 0.12 -1.09 0.94 0.33 1.41 -1.23 -0.75 -1.23 0.75 0.33 -1.41 -1.09 -0.94 1.44 -0.12zM384.19 483.49l0.56 1.33 1.44 0.12 -1.09 0.94 0.33 1.41 -1.23 -0.75 -1.23 0.75 0.33 -1.41 -1.09 -0.94 1.44 -0.12zM396.62 483.49l0.56 1.33 1.44 0.12 -1.09 0.94 0.33 1.41 -1.23 -0.75 -1.23 0.75 0.33 -1.41 -1.09 -0.94 1.44 -0.12zM409.04 483.49l0.56 1.33 1.44 0.12 -1.09 0.94 0.33 1.41 -1.23 -0.75 -1.23 0.75 0.33 -1.41 -1.09 -0.94 1.44 -0.12zM413.64 483.49l0.56 1.33 1.44 0.12 -1.09 0.94 0.33 1.41 -1.23 -0.75 -1.23 0.75 0.33 -1.41 -1.09 -0.94 1.44 -0.12zM438.48 483.49l0.56 1.33 1.44 0.12 -1.09 0.94 0.33 1.41 -1.23 -0.75 -1.23 0.75 0.33 -1.41 -1.09 -0.94 1.44 -0.12zM443.08 483.49l0.56 1.33 1.44 0.12 -1.09 0.94 0.33 1.41 -1.23 -0.75 -1.23 0.75 0.33 -1.41 -1.09 -0.94 1.44 -0.12zM453.21 483.49l0.56 1.33 1.44 0.12 -1.09 0.94 0.33 1.41 -1.23 -0.75 -1.23 0.75 0.33 -1.41 -1.09 -0.94 1.44 -0.12zM457.81 483.49l0.56 1.33 1.44 0.12 -1.09 0.94 0.33 1.41 -1.23 -0.75 -1.23 0.75 0.33 -1.41 -1.09 -0.94 1.44 -0.12zM467.93 483.49l0.56 1.33 1.44 0.12 -1.09 0.94 0.33 1.41 -1.23 -0.75 -1.23 0.75 0.33 -1.41 -1.09 -0.94 1.44 -0.12zM472.53 483.49l0.56 1.33 1.44 0.12 -1.09 0.94 0.33 1.41 -1.23 -0.75 -1.23 0.75 0.33 -1.41 -1.09 -0.94 1.44 -0.12zM482.65 483.49l0.56 1.33 1.44 0.12 -1.09 0.94 0.33 1.41 -1.23 -0.75 -1.23 0.75 0.33 -1.41 -1.09 -0.94 1.44 -0.12zM487.25 483.49l0.56 1.33 1.44 0.12 -1.09 0.94 0.33 1.41 -1.23 -0.75 -1.23 0.75 0.33 -1.41 -1.09 -0.94 1.44 -0.12zM497.37 483.49l0.56 1.33 1.44 0.12 -1.09 0.94 0.33 1.41 -1.23 -0.75 -1.23 0.75 0.33 -1.41 -1.09 -0.94 1.44 -0.12zM501.97 483.49l0.56 1.33 1.44 0.12 -1.09 0.94 0.33 1.41 -1.23 -0.75 -1.23 0.75 0.33 -1.41 -1.09 -0.94 1.44 -0.12zM514.39 483.49l0.56 1.33 1.44 0.12 -1.09 0.94 0.33 1.41 -1.23 -0.75 -1.23 0.75 0.33 -1.41 -1.09 -0.94 1.44 -0.12zM541.54 483.49l0.56 1.33 1.44 0.12 -1.09 0.94 0.33 1.41 -1.23 -0.75 -1.23 0.75 0.33 -1.41 -1.09 -0.94 1.44 -0.12zM546.14 483.49l0.56 1.33 1.44 0.12 -1.09 0.94 0.33 1.41 -1.23 -0.75 -1.23 0.75 0.33 -1.41 -1.09 -0.94 1.44 -0.12zM173.48 498.21l0.56 1.33 1.44 0.12 -1.09 0.94 0.33 1.41 -1.23 -0.75 -1.23 0.75 0.33 -1.41 -1.09 -0.94 1.44 -0.12zM178.08 498.21l0.56 1.33 1.44 0.12 -1.09 0.94 0.33 1.41 -1.23 -0.75 -1.23 0.75 0.33 -1.41 -1.09 -0.94 1.44 -0.12zM188.21 498.21l0.56 1.33 1.44 0.12 -1.09 0.94 0.33 1.41 -1.23 -0.75 -1.23 0.75 0.33 -1.41 -1.09 -0.94 1.44 -0.12zM192.81 498.21l0.56 1.33 1.44 0.12 -1.09 0.94 0.33 1.41 -1.23 -0.75 -1.23 0.75 0.33 -1.41 -1.09 -0.94 1.44 -0.12zM202.93 498.21l0.56 1.33 1.44 0.12 -1.09 0.94 0.33 1.41 -1.23 -0.75 -1.23 0.75 0.33 -1.41 -1.09 -0.94 1.44 -0.12zM207.53 498.21l0.56 1.33 1.44 0.12 -1.09 0.94 0.33 1.41 -1.23 -0.75 -1.23 0.75 0.33 -1.41 -1.09 -0.94 1.44 -0.12zM217.65 498.21l0.56 1.33 1.44 0.12 -1.09 0.94 0.33 1.41 -1.23 -0.75 -1.23 0.75 0.33 -1.41 -1.09 -0.94 1.44 -0.12zM222.25 498.21l0.56 1.33 1.44 0.12 -1.09 0.94 0.33 1.41 -1.23 -0.75 -1.23 0.75 0.33 -1.41 -1.09 -0.94 1.44 -0.12zM232.37 498.21l0.56 1.33 1.44 0.12 -1.09 0.94 0.33 1.41 -1.23 -0.75 -1.23 0.75 0.33 -1.41 -1.09 -0.94 1.44 -0.12zM236.97 498.21l0.56 1.33 1.44 0.12 -1.09 0.94 0.33 1.41 -1.23 -0.75 -1.23 0.75 0.33 -1.41 -1.09 -0.94 1.44 -0.12zM249.39 498.21l0.56 1.33 1.44 0.12 -1.09 0.94 0.33 1.41 -1.23 -0.75 -1.23 0.75 0.33 -1.41 -1.09 -0.94 1.44 -0.12zM264.12 498.21l0.56 1.33 1.44 0.12 -1.09 0.94 0.33 1.41 -1.23 -0.75 -1.23 0.75 0.33 -1.41 -1.09 -0.94 1.44 -0.12zM276.54 498.21l0.56 1.33 1.44 0.12 -1.09 0.94 0.33 1.41 -1.23 -0.75 -1.23 0.75 0.33 -1.41 -1.09 -0.94 1.44 -0.12zM281.14 498.21l0.56 1.33 1.44 0.12 -1.09 0.94 0.33 1.41 -1.23 -0.75 -1.23 0.75 0.33 -1.41 -1.09 -0.94 1.44 -0.12zM291.26 498.21l0.56 1.33 1.44 0.12 -1.09 0.94 0.33 1.41 -1.23 -0.75 -1.23 0.75 0.33 -1.41 -1.09 -0.94 1.44 -0.12zM295.86 498.21l0.56 1.33 1.44 0.12 -1.09 0.94 0.33 1.41 -1.23 -0.75 -1.23 0.75 0.33 -1.41 -1.09 -0.94 1.44 -0.12zM305.98 498.21l0.56 1.33 1.44 0.12 -1.09 0.94 0.33 1.41 -1.23 -0.75 -1.23 0.75 0.33 -1.41 -1.09 -0.94 1.44 -0.12zM310.58 498.21l0.56 1.33 1.44 0.12 -1.09 0.94 0.33 1.41 -1.23 -0.75 -1.23 0.75 0.33 -1.41 -1.09 -0.94 1.44 -0.12zM320.71 498.21l0.56 1.33 1.44 0.12 -1.09 0.94 0.33 1.41 -1.23 -0.75 -1.23 0.75 0.33 -1.41 -1.09 -0.94 1.44 -0.12zM325.31 498.21l0.56 1.33 1.44 0.12 -1.09 0.94 0.33 1.41 -1.23 -0.75 -1.23 0.75 0.33 -1.41 -1.09 -0.94 1.44 -0.12zM335.43 498.21l0.56 1.33 1.44 0.12 -1.09 0.94 0.33 1.41 -1.23 -0.75 -1.23 0.75 0.33 -1.41 -1.09 -0.94 1.44 -0.12zM340.03 498.21l0.56 1.33 1.44 0.12 -1.09 0.94 0.33 1.41 -1.23 -0.75 -1.23 0.75 0.33 -1.41 -1.09 -0.94 1.44 -0.12zM364.87 498.21l0.56 1.33 1.44 0.12 -1.09 0.94 0.33 1.41 -1.23 -0.75 -1.23 0.75 0.33 -1.41 -1.09 -0.94 1.44 -0.12zM369.47 498.21l0.56 1.33 1.44 0.12 -1.09 0.94 0.33 1.41 -1.23 -0.75 -1.23 0.75 0.33 -1.41 -1.09 -0.94 1.44 -0.12zM379.59 498.21l0.56 1.33 1.44 0.12 -1.09 0.94 0.33 1.41 -1.23 -0.75 -1.23 0.75 0.33 -1.41 -1.09 -0.94 1.44 -0.12zM384.19 498.21l0.56 1.33 1.44 0.12 -1.09 0.94 0.33 1.41 -1.23 -0.75 -1.23 0.75 0.33 -1.41 -1.09 -0.94 1.44 -0.12zM394.32 498.21l0.56 1.33 1.44 0.12 -1.09 0.94 0.33 1.41 -1.23 -0.75 -1.23 0.75 0.33 -1.41 -1.09 -0.94 1.44 -0.12zM398.92 498.21l0.56 1.33 1.44 0.12 -1.09 0.94 0.33 1.41 -1.23 -0.75 -1.23 0.75 0.33 -1.41 -1.09 -0.94 1.44 -0.12zM409.04 498.21l0.56 1.33 1.44 0.12 -1.09 0.94 0.33 1.41 -1.23 -0.75 -1.23 0.75 0.33 -1.41 -1.09 -0.94 1.44 -0.12zM413.64 498.21l0.56 1.33 1.44 0.12 -1.09 0.94 0.33 1.41 -1.23 -0.75 -1.23 0.75 0.33 -1.41 -1.09 -0.94 1.44 -0.12zM438.48 498.21l0.56 1.33 1.44 0.12 -1.09 0.94 0.33 1.41 -1.23 -0.75 -1.23 0.75 0.33 -1.41 -1.09 -0.94 1.44 -0.12zM443.08 498.21l0.56 1.33 1.44 0.12 -1.09 0.94 0.33 1.41 -1.23 -0.75 -1.23 0.75 0.33 -1.41 -1.09 -0.94 1.44 -0.12zM453.21 498.21l0.56 1.33 1.44 0.12 -1.09 0.94 0.33 1.41 -1.23 -0.75 -1.23 0.75 0.33 -1.41 -1.09 -0.94 1.44 -0.12zM457.81 498.21l0.56 1.33 1.44 0.12 -1.09 0.94 0.33 1.41 -1.23 -0.75 -1.23 0.75 0.33 -1.41 -1.09 -0.94 1.44 -0.12zM467.93 498.21l0.56 1.33 1.44 0.12 -1.09 0.94 0.33 1.41 -1.23 -0.75 -1.23 0.75 0.33 -1.41 -1.09 -0.94 1.44 -0.12zM472.53 498.21l0.56 1.33 1.44 0.12 -1.09 0.94 0.33 1.41 -1.23 -0.75 -1.23 0.75 0.33 -1.41 -1.09 -0.94 1.44 -0.12zM482.65 498.21l0.56 1.33 1.44 0.12 -1.09 0.94 0.33 1.41 -1.23 -0.75 -1.23 0.75 0.33 -1.41 -1.09 -0.94 1.44 -0.12zM487.25 498.21l0.56 1.33 1.44 0.12 -1.09 0.94 0.33 1.41 -1.23 -0.75 -1.23 0.75 0.33 -1.41 -1.09 -0.94 1.44 -0.12zM497.37 498.21l0.56 1.33 1.44 0.12 -1.09 0.94 0.33 1.41 -1.23 -0.75 -1.23 0.75 0.33 -1.41 -1.09 -0.94 1.44 -0.12zM501.97 498.21l0.56 1.33 1.44 0.12 -1.09 0.94 0.33 1.41 -1.23 -0.75 -1.23 0.75 0.33 -1.41 -1.09 -0.94 1.44 -0.12zM514.39 498.21l0.56 1.33 1.44 0.12 -1.09 0.94 0.33 1.41 -1.23 -0.75 -1.23 0.75 0.33 -1.41 -1.09 -0.94 1.44 -0.12zM529.12 498.21l0.56 1.33 1.44 0.12 -1.09 0.94 0.33 1.41 -1.23 -0.75 -1.23 0.75 0.33 -1.41 -1.09 -0.94 1.44 -0.12zM541.54 498.21l0.56 1.33 1.44 0.12 -1.09 0.94 0.33 1.41 -1.23 -0.75 -1.23 0.75 0.33 -1.41 -1.09 -0.94 1.44 -0.12zM546.14 498.21l0.56 1.33 1.44 0.12 -1.09 0.94 0.33 1.41 -1.23 -0.75 -1.23 0.75 0.33 -1.41 -1.09 -0.94 1.44 -0.12zM556.26 498.21l0.56 1.33 1.44 0.12 -1.09 0.94 0.33 1.41 -1.23 -0.75 -1.23 0.75 0.33 -1.41 -1.09 -0.94 1.44 -0.12zM560.86 498.21l0.56 1.33 1.44 0.12 -1.09 0.94 0.33 1.41 -1.23 -0.75 -1.23 0.75 0.33 -1.41 -1.09 -0.94 1.44 -0.12zM173.48 512.93l0.56 1.33 1.44 0.12 -1.09 0.94 0.33 1.41 -1.23 -0.75 -1.23 0.75 0.33 -1.41 -1.09 -0.94 1.44 -0.12zM178.08 512.93l0.56 1.33 1.44 0.12 -1.09 0.94 0.33 1.41 -1.23 -0.75 -1.23 0.75 0.33 -1.41 -1.09 -0.94 1.44 -0.12zM188.21 512.93l0.56 1.33 1.44 0.12 -1.09 0.94 0.33 1.41 -1.23 -0.75 -1.23 0.75 0.33 -1.41 -1.09 -0.94 1.44 -0.12zM192.81 512.93l0.56 1.33 1.44 0.12 -1.09 0.94 0.33 1.41 -1.23 -0.75 -1.23 0.75 0.33 -1.41 -1.09 -0.94 1.44 -0.12zM202.93 512.93l0.56 1.33 1.44 0.12 -1.09 0.94 0.33 1.41 -1.23 -0.75 -1.23 0.75 0.33 -1.41 -1.09 -0.94 1.44 -0.12zM207.53 512.93l0.56 1.33 1.44 0.12 -1.09 0.94 0.33 1.41 -1.23 -0.75 -1.23 0.75 0.33 -1.41 -1.09 -0.94 1.44 -0.12zM217.65 512.93l0.56 1.33 1.44 0.12 -1.09 0.94 0.33 1.41 -1.23 -0.75 -1.23 0.75 0.33 -1.41 -1.09 -0.94 1.44 -0.12zM222.25 512.93l0.56 1.33 1.44 0.12 -1.09 0.94 0.33 1.41 -1.23 -0.75 -1.23 0.75 0.33 -1.41 -1.09 -0.94 1.44 -0.12zM232.37 512.93l0.56 1.33 1.44 0.12 -1.09 0.94 0.33 1.41 -1.23 -0.75 -1.23 0.75 0.33 -1.41 -1.09 -0.94 1.44 -0.12zM236.97 512.93l0.56 1.33 1.44 0.12 -1.09 0.94 0.33 1.41 -1.23 -0.75 -1.23 0.75 0.33 -1.41 -1.09 -0.94 1.44 -0.12zM249.39 512.93l0.56 1.33 1.44 0.12 -1.09 0.94 0.33 1.41 -1.23 -0.75 -1.23 0.75 0.33 -1.41 -1.09 -0.94 1.44 -0.12zM264.12 512.93l0.56 1.33 1.44 0.12 -1.09 0.94 0.33 1.41 -1.23 -0.75 -1.23 0.75 0.33 -1.41 -1.09 -0.94 1.44 -0.12zM276.54 512.93l0.56 1.33 1.44 0.12 -1.09 0.94 0.33 1.41 -1.23 -0.75 -1.23 0.75 0.33 -1.41 -1.09 -0.94 1.44 -0.12zM281.14 512.93l0.56 1.33 1.44 0.12 -1.09 0.94 0.33 1.41 -1.23 -0.75 -1.23 0.75 0.33 -1.41 -1.09 -0.94 1.44 -0.12zM291.26 512.93l0.56 1.33 1.44 0.12 -1.09 0.94 0.33 1.41 -1.23 -0.75 -1.23 0.75 0.33 -1.41 -1.09 -0.94 1.44 -0.12zM295.86 512.93l0.56 1.33 1.44 0.12 -1.09 0.94 0.33 1.41 -1.23 -0.75 -1.23 0.75 0.33 -1.41 -1.09 -0.94 1.44 -0.12zM305.98 512.93l0.56 1.33 1.44 0.12 -1.09 0.94 0.33 1.41 -1.23 -0.75 -1.23 0.75 0.33 -1.41 -1.09 -0.94 1.44 -0.12zM310.58 512.93l0.56 1.33 1.44 0.12 -1.09 0.94 0.33 1.41 -1.23 -0.75 -1.23 0.75 0.33 -1.41 -1.09 -0.94 1.44 -0.12zM320.71 512.93l0.56 1.33 1.44 0.12 -1.09 0.94 0.33 1.41 -1.23 -0.75 -1.23 0.75 0.33 -1.41 -1.09 -0.94 1.44 -0.12zM325.31 512.93l0.56 1.33 1.44 0.12 -1.09 0.94 0.33 1.41 -1.23 -0.75 -1.23 0.75 0.33 -1.41 -1.09 -0.94 1.44 -0.12zM335.43 512.93l0.56 1.33 1.44 0.12 -1.09 0.94 0.33 1.41 -1.23 -0.75 -1.23 0.75 0.33 -1.41 -1.09 -0.94 1.44 -0.12zM340.03 512.93l0.56 1.33 1.44 0.12 -1.09 0.94 0.33 1.41 -1.23 -0.75 -1.23 0.75 0.33 -1.41 -1.09 -0.94 1.44 -0.12zM364.87 512.93l0.56 1.33 1.44 0.12 -1.09 0.94 0.33 1.41 -1.23 -0.75 -1.23 0.75 0.33 -1.41 -1.09 -0.94 1.44 -0.12zM369.47 512.93l0.56 1.33 1.44 0.12 -1.09 0.94 0.33 1.41 -1.23 -0.75 -1.23 0.75 0.33 -1.41 -1.09 -0.94 1.44 -0.12zM379.59 512.93l0.56 1.33 1.44 0.12 -1.09 0.94 0.33 1.41 -1.23 -0.75 -1.23 0.75 0.33 -1.41 -1.09 -0.94 1.44 -0.12zM384.19 512.93l0.56 1.33 1.44 0.12 -1.09 0.94 0.33 1.41 -1.23 -0.75 -1.23 0.75 0.33 -1.41 -1.09 -0.94 1.44 -0.12zM394.32 512.93l0.56 1.33 1.44 0.12 -1.09 0.94 0.33 1.41 -1.23 -0.75 -1.23 0.75 0.33 -1.41 -1.09 -0.94 1.44 -0.12zM398.92 512.93l0.56 1.33 1.44 0.12 -1.09 0.94 0.33 1.41 -1.23 -0.75 -1.23 0.75 0.33 -1.41 -1.09 -0.94 1.44 -0.12zM409.04 512.93l0.56 1.33 1.44 0.12 -1.09 0.94 0.33 1.41 -1.23 -0.75 -1.23 0.75 0.33 -1.41 -1.09 -0.94 1.44 -0.12zM413.64 512.93l0.56 1.33 1.44 0.12 -1.09 0.94 0.33 1.41 -1.23 -0.75 -1.23 0.75 0.33 -1.41 -1.09 -0.94 1.44 -0.12zM438.48 512.93l0.56 1.33 1.44 0.12 -1.09 0.94 0.33 1.41 -1.23 -0.75 -1.23 0.75 0.33 -1.41 -1.09 -0.94 1.44 -0.12zM443.08 512.93l0.56 1.33 1.44 0.12 -1.09 0.94 0.33 1.41 -1.23 -0.75 -1.23 0.75 0.33 -1.41 -1.09 -0.94 1.44 -0.12zM453.21 512.93l0.56 1.33 1.44 0.12 -1.09 0.94 0.33 1.41 -1.23 -0.75 -1.23 0.75 0.33 -1.41 -1.09 -0.94 1.44 -0.12zM457.81 512.93l0.56 1.33 1.44 0.12 -1.09 0.94 0.33 1.41 -1.23 -0.75 -1.23 0.75 0.33 -1.41 -1.09 -0.94 1.44 -0.12zM467.93 512.93l0.56 1.33 1.44 0.12 -1.09 0.94 0.33 1.41 -1.23 -0.75 -1.23 0.75 0.33 -1.41 -1.09 -0.94 1.44 -0.12zM472.53 512.93l0.56 1.33 1.44 0.12 -1.09 0.94 0.33 1.41 -1.23 -0.75 -1.23 0.75 0.33 -1.41 -1.09 -0.94 1.44 -0.12zM482.65 512.93l0.56 1.33 1.44 0.12 -1.09 0.94 0.33 1.41 -1.23 -0.75 -1.23 0.75 0.33 -1.41 -1.09 -0.94 1.44 -0.12zM487.25 512.93l0.56 1.33 1.44 0.12 -1.09 0.94 0.33 1.41 -1.23 -0.75 -1.23 0.75 0.33 -1.41 -1.09 -0.94 1.44 -0.12zM497.37 512.93l0.56 1.33 1.44 0.12 -1.09 0.94 0.33 1.41 -1.23 -0.75 -1.23 0.75 0.33 -1.41 -1.09 -0.94 1.44 -0.12zM501.97 512.93l0.56 1.33 1.44 0.12 -1.09 0.94 0.33 1.41 -1.23 -0.75 -1.23 0.75 0.33 -1.41 -1.09 -0.94 1.44 -0.12zM514.39 512.93l0.56 1.33 1.44 0.12 -1.09 0.94 0.33 1.41 -1.23 -0.75 -1.23 0.75 0.33 -1.41 -1.09 -0.94 1.44 -0.12zM529.12 512.93l0.56 1.33 1.44 0.12 -1.09 0.94 0.33 1.41 -1.23 -0.75 -1.23 0.75 0.33 -1.41 -1.09 -0.94 1.44 -0.12zM541.54 512.93l0.56 1.33 1.44 0.12 -1.09 0.94 0.33 1.41 -1.23 -0.75 -1.23 0.75 0.33 -1.41 -1.09 -0.94 1.44 -0.12zM546.14 512.93l0.56 1.33 1.44 0.12 -1.09 0.94 0.33 1.41 -1.23 -0.75 -1.23 0.75 0.33 -1.41 -1.09 -0.94 1.44 -0.12zM556.26 512.93l0.56 1.33 1.44 0.12 -1.09 0.94 0.33 1.41 -1.23 -0.75 -1.23 0.75 0.33 -1.41 -1.09 -0.94 1.44 -0.12zM560.86 512.93l0.56 1.33 1.44 0.12 -1.09 0.94 0.33 1.41 -1.23 -0.75 -1.23 0.75 0.33 -1.41 -1.09 -0.94 1.44 -0.12zM570.98 512.93l0.56 1.33 1.44 0.12 -1.09 0.94 0.33 1.41 -1.23 -0.75 -1.23 0.75 0.33 -1.41 -1.09 -0.94 1.44 -0.12zM575.58 512.93l0.56 1.33 1.44 0.12 -1.09 0.94 0.33 1.41 -1.23 -0.75 -1.23 0.75 0.33 -1.41 -1.09 -0.94 1.44 -0.12zM173.48 527.66l0.56 1.33 1.44 0.12 -1.09 0.94 0.33 1.41 -1.23 -0.75 -1.23 0.75 0.33 -1.41 -1.09 -0.94 1.44 -0.12zM178.08 527.66l0.56 1.33 1.44 0.12 -1.09 0.94 0.33 1.41 -1.23 -0.75 -1.23 0.75 0.33 -1.41 -1.09 -0.94 1.44 -0.12zM188.21 527.66l0.56 1.33 1.44 0.12 -1.09 0.94 0.33 1.41 -1.23 -0.75 -1.23 0.75 0.33 -1.41 -1.09 -0.94 1.44 -0.12zM192.81 527.66l0.56 1.33 1.44 0.12 -1.09 0.94 0.33 1.41 -1.23 -0.75 -1.23 0.75 0.33 -1.41 -1.09 -0.94 1.44 -0.12zM202.93 527.66l0.56 1.33 1.44 0.12 -1.09 0.94 0.33 1.41 -1.23 -0.75 -1.23 0.75 0.33 -1.41 -1.09 -0.94 1.44 -0.12zM207.53 527.66l0.56 1.33 1.44 0.12 -1.09 0.94 0.33 1.41 -1.23 -0.75 -1.23 0.75 0.33 -1.41 -1.09 -0.94 1.44 -0.12zM217.65 527.66l0.56 1.33 1.44 0.12 -1.09 0.94 0.33 1.41 -1.23 -0.75 -1.23 0.75 0.33 -1.41 -1.09 -0.94 1.44 -0.12zM222.25 527.66l0.56 1.33 1.44 0.12 -1.09 0.94 0.33 1.41 -1.23 -0.75 -1.23 0.75 0.33 -1.41 -1.09 -0.94 1.44 -0.12zM232.37 527.66l0.56 1.33 1.44 0.12 -1.09 0.94 0.33 1.41 -1.23 -0.75 -1.23 0.75 0.33 -1.41 -1.09 -0.94 1.44 -0.12zM236.97 527.66l0.56 1.33 1.44 0.12 -1.09 0.94 0.33 1.41 -1.23 -0.75 -1.23 0.75 0.33 -1.41 -1.09 -0.94 1.44 -0.12zM276.54 527.66l0.56 1.33 1.44 0.12 -1.09 0.94 0.33 1.41 -1.23 -0.75 -1.23 0.75 0.33 -1.41 -1.09 -0.94 1.44 -0.12zM281.14 527.66l0.56 1.33 1.44 0.12 -1.09 0.94 0.33 1.41 -1.23 -0.75 -1.23 0.75 0.33 -1.41 -1.09 -0.94 1.44 -0.12zM291.26 527.66l0.56 1.33 1.44 0.12 -1.09 0.94 0.33 1.41 -1.23 -0.75 -1.23 0.75 0.33 -1.41 -1.09 -0.94 1.44 -0.12zM295.86 527.66l0.56 1.33 1.44 0.12 -1.09 0.94 0.33 1.41 -1.23 -0.75 -1.23 0.75 0.33 -1.41 -1.09 -0.94 1.44 -0.12zM305.98 527.66l0.56 1.33 1.44 0.12 -1.09 0.94 0.33 1.41 -1.23 -0.75 -1.23 0.75 0.33 -1.41 -1.09 -0.94 1.44 -0.12zM310.58 527.66l0.56 1.33 1.44 0.12 -1.09 0.94 0.33 1.41 -1.23 -0.75 -1.23 0.75 0.33 -1.41 -1.09 -0.94 1.44 -0.12zM320.71 527.66l0.56 1.33 1.44 0.12 -1.09 0.94 0.33 1.41 -1.23 -0.75 -1.23 0.75 0.33 -1.41 -1.09 -0.94 1.44 -0.12zM325.31 527.66l0.56 1.33 1.44 0.12 -1.09 0.94 0.33 1.41 -1.23 -0.75 -1.23 0.75 0.33 -1.41 -1.09 -0.94 1.44 -0.12zM335.43 527.66l0.56 1.33 1.44 0.12 -1.09 0.94 0.33 1.41 -1.23 -0.75 -1.23 0.75 0.33 -1.41 -1.09 -0.94 1.44 -0.12zM340.03 527.66l0.56 1.33 1.44 0.12 -1.09 0.94 0.33 1.41 -1.23 -0.75 -1.23 0.75 0.33 -1.41 -1.09 -0.94 1.44 -0.12zM364.87 527.66l0.56 1.33 1.44 0.12 -1.09 0.94 0.33 1.41 -1.23 -0.75 -1.23 0.75 0.33 -1.41 -1.09 -0.94 1.44 -0.12zM369.47 527.66l0.56 1.33 1.44 0.12 -1.09 0.94 0.33 1.41 -1.23 -0.75 -1.23 0.75 0.33 -1.41 -1.09 -0.94 1.44 -0.12zM379.59 527.66l0.56 1.33 1.44 0.12 -1.09 0.94 0.33 1.41 -1.23 -0.75 -1.23 0.75 0.33 -1.41 -1.09 -0.94 1.44 -0.12zM384.19 527.66l0.56 1.33 1.44 0.12 -1.09 0.94 0.33 1.41 -1.23 -0.75 -1.23 0.75 0.33 -1.41 -1.09 -0.94 1.44 -0.12zM396.62 527.66l0.56 1.33 1.44 0.12 -1.09 0.94 0.33 1.41 -1.23 -0.75 -1.23 0.75 0.33 -1.41 -1.09 -0.94 1.44 -0.12zM409.04 527.66l0.56 1.33 1.44 0.12 -1.09 0.94 0.33 1.41 -1.23 -0.75 -1.23 0.75 0.33 -1.41 -1.09 -0.94 1.44 -0.12zM413.64 527.66l0.56 1.33 1.44 0.12 -1.09 0.94 0.33 1.41 -1.23 -0.75 -1.23 0.75 0.33 -1.41 -1.09 -0.94 1.44 -0.12zM438.48 527.66l0.56 1.33 1.44 0.12 -1.09 0.94 0.33 1.41 -1.23 -0.75 -1.23 0.75 0.33 -1.41 -1.09 -0.94 1.44 -0.12zM443.08 527.66l0.56 1.33 1.44 0.12 -1.09 0.94 0.33 1.41 -1.23 -0.75 -1.23 0.75 0.33 -1.41 -1.09 -0.94 1.44 -0.12zM453.21 527.66l0.56 1.33 1.44 0.12 -1.09 0.94 0.33 1.41 -1.23 -0.75 -1.23 0.75 0.33 -1.41 -1.09 -0.94 1.44 -0.12zM457.81 527.66l0.56 1.33 1.44 0.12 -1.09 0.94 0.33 1.41 -1.23 -0.75 -1.23 0.75 0.33 -1.41 -1.09 -0.94 1.44 -0.12zM467.93 527.66l0.56 1.33 1.44 0.12 -1.09 0.94 0.33 1.41 -1.23 -0.75 -1.23 0.75 0.33 -1.41 -1.09 -0.94 1.44 -0.12zM472.53 527.66l0.56 1.33 1.44 0.12 -1.09 0.94 0.33 1.41 -1.23 -0.75 -1.23 0.75 0.33 -1.41 -1.09 -0.94 1.44 -0.12zM482.65 527.66l0.56 1.33 1.44 0.12 -1.09 0.94 0.33 1.41 -1.23 -0.75 -1.23 0.75 0.33 -1.41 -1.09 -0.94 1.44 -0.12zM487.25 527.66l0.56 1.33 1.44 0.12 -1.09 0.94 0.33 1.41 -1.23 -0.75 -1.23 0.75 0.33 -1.41 -1.09 -0.94 1.44 -0.12zM497.37 527.66l0.56 1.33 1.44 0.12 -1.09 0.94 0.33 1.41 -1.23 -0.75 -1.23 0.75 0.33 -1.41 -1.09 -0.94 1.44 -0.12zM501.97 527.66l0.56 1.33 1.44 0.12 -1.09 0.94 0.33 1.41 -1.23 -0.75 -1.23 0.75 0.33 -1.41 -1.09 -0.94 1.44 -0.12zM541.54 527.66l0.56 1.33 1.44 0.12 -1.09 0.94 0.33 1.41 -1.23 -0.75 -1.23 0.75 0.33 -1.41 -1.09 -0.94 1.44 -0.12zM546.14 527.66l0.56 1.33 1.44 0.12 -1.09 0.94 0.33 1.41 -1.23 -0.75 -1.23 0.75 0.33 -1.41 -1.09 -0.94 1.44 -0.12zM556.26 527.66l0.56 1.33 1.44 0.12 -1.09 0.94 0.33 1.41 -1.23 -0.75 -1.23 0.75 0.33 -1.41 -1.09 -0.94 1.44 -0.12zM560.86 527.66l0.56 1.33 1.44 0.12 -1.09 0.94 0.33 1.41 -1.23 -0.75 -1.23 0.75 0.33 -1.41 -1.09 -0.94 1.44 -0.12zM570.98 527.66l0.56 1.33 1.44 0.12 -1.09 0.94 0.33 1.41 -1.23 -0.75 -1.23 0.75 0.33 -1.41 -1.09 -0.94 1.44 -0.12zM575.58 527.66l0.56 1.33 1.44 0.12 -1.09 0.94 0.33 1.41 -1.23 -0.75 -1.23 0.75 0.33 -1.41 -1.09 -0.94 1.44 -0.12zM585.71 527.66l0.56 1.33 1.44 0.12 -1.09 0.94 0.33 1.41 -1.23 -0.75 -1.23 0.75 0.33 -1.41 -1.09 -0.94 1.44 -0.12zM590.31 527.66l0.56 1.33 1.44 0.12 -1.09 0.94 0.33 1.41 -1.23 -0.75 -1.23 0.75 0.33 -1.41 -1.09 -0.94 1.44 -0.12zM175.78 542.38l0.56 1.33 1.44 0.12 -1.09 0.94 0.33 1.41 -1.23 -0.75 -1.23 0.75 0.33 -1.41 -1.09 -0.94 1.44 -0.12zM188.21 542.38l0.56 1.33 1.44 0.12 -1.09 0.94 0.33 1.41 -1.23 -0.75 -1.23 0.75 0.33 -1.41 -1.09 -0.94 1.44 -0.12zM192.81 542.38l0.56 1.33 1.44 0.12 -1.09 0.94 0.33 1.41 -1.23 -0.75 -1.23 0.75 0.33 -1.41 -1.09 -0.94 1.44 -0.12zM202.93 542.38l0.56 1.33 1.44 0.12 -1.09 0.94 0.33 1.41 -1.23 -0.75 -1.23 0.75 0.33 -1.41 -1.09 -0.94 1.44 -0.12zM207.53 542.38l0.56 1.33 1.44 0.12 -1.09 0.94 0.33 1.41 -1.23 -0.75 -1.23 0.75 0.33 -1.41 -1.09 -0.94 1.44 -0.12zM232.37 542.38l0.56 1.33 1.44 0.12 -1.09 0.94 0.33 1.41 -1.23 -0.75 -1.23 0.75 0.33 -1.41 -1.09 -0.94 1.44 -0.12zM236.97 542.38l0.56 1.33 1.44 0.12 -1.09 0.94 0.33 1.41 -1.23 -0.75 -1.23 0.75 0.33 -1.41 -1.09 -0.94 1.44 -0.12zM305.98 542.38l0.56 1.33 1.44 0.12 -1.09 0.94 0.33 1.41 -1.23 -0.75 -1.23 0.75 0.33 -1.41 -1.09 -0.94 1.44 -0.12zM310.58 542.38l0.56 1.33 1.44 0.12 -1.09 0.94 0.33 1.41 -1.23 -0.75 -1.23 0.75 0.33 -1.41 -1.09 -0.94 1.44 -0.12zM320.71 542.38l0.56 1.33 1.44 0.12 -1.09 0.94 0.33 1.41 -1.23 -0.75 -1.23 0.75 0.33 -1.41 -1.09 -0.94 1.44 -0.12zM325.31 542.38l0.56 1.33 1.44 0.12 -1.09 0.94 0.33 1.41 -1.23 -0.75 -1.23 0.75 0.33 -1.41 -1.09 -0.94 1.44 -0.12zM335.43 542.38l0.56 1.33 1.44 0.12 -1.09 0.94 0.33 1.41 -1.23 -0.75 -1.23 0.75 0.33 -1.41 -1.09 -0.94 1.44 -0.12zM340.03 542.38l0.56 1.33 1.44 0.12 -1.09 0.94 0.33 1.41 -1.23 -0.75 -1.23 0.75 0.33 -1.41 -1.09 -0.94 1.44 -0.12zM364.87 542.38l0.56 1.33 1.44 0.12 -1.09 0.94 0.33 1.41 -1.23 -0.75 -1.23 0.75 0.33 -1.41 -1.09 -0.94 1.44 -0.12zM369.47 542.38l0.56 1.33 1.44 0.12 -1.09 0.94 0.33 1.41 -1.23 -0.75 -1.23 0.75 0.33 -1.41 -1.09 -0.94 1.44 -0.12zM381.89 542.38l0.56 1.33 1.44 0.12 -1.09 0.94 0.33 1.41 -1.23 -0.75 -1.23 0.75 0.33 -1.41 -1.09 -0.94 1.44 -0.12zM438.48 542.38l0.56 1.33 1.44 0.12 -1.09 0.94 0.33 1.41 -1.23 -0.75 -1.23 0.75 0.33 -1.41 -1.09 -0.94 1.44 -0.12zM443.08 542.38l0.56 1.33 1.44 0.12 -1.09 0.94 0.33 1.41 -1.23 -0.75 -1.23 0.75 0.33 -1.41 -1.09 -0.94 1.44 -0.12zM453.21 542.38l0.56 1.33 1.44 0.12 -1.09 0.94 0.33 1.41 -1.23 -0.75 -1.23 0.75 0.33 -1.41 -1.09 -0.94 1.44 -0.12zM457.81 542.38l0.56 1.33 1.44 0.12 -1.09 0.94 0.33 1.41 -1.23 -0.75 -1.23 0.75 0.33 -1.41 -1.09 -0.94 1.44 -0.12zM470.23 542.38l0.56 1.33 1.44 0.12 -1.09 0.94 0.33 1.41 -1.23 -0.75 -1.23 0.75 0.33 -1.41 -1.09 -0.94 1.44 -0.12zM484.95 542.38l0.56 1.33 1.44 0.12 -1.09 0.94 0.33 1.41 -1.23 -0.75 -1.23 0.75 0.33 -1.41 -1.09 -0.94 1.44 -0.12zM497.37 542.38l0.56 1.33 1.44 0.12 -1.09 0.94 0.33 1.41 -1.23 -0.75 -1.23 0.75 0.33 -1.41 -1.09 -0.94 1.44 -0.12zM501.97 542.38l0.56 1.33 1.44 0.12 -1.09 0.94 0.33 1.41 -1.23 -0.75 -1.23 0.75 0.33 -1.41 -1.09 -0.94 1.44 -0.12zM570.98 542.38l0.56 1.33 1.44 0.12 -1.09 0.94 0.33 1.41 -1.23 -0.75 -1.23 0.75 0.33 -1.41 -1.09 -0.94 1.44 -0.12zM575.58 542.38l0.56 1.33 1.44 0.12 -1.09 0.94 0.33 1.41 -1.23 -0.75 -1.23 0.75 0.33 -1.41 -1.09 -0.94 1.44 -0.12zM585.71 542.38l0.56 1.33 1.44 0.12 -1.09 0.94 0.33 1.41 -1.23 -0.75 -1.23 0.75 0.33 -1.41 -1.09 -0.94 1.44 -0.12zM590.31 542.38l0.56 1.33 1.44 0.12 -1.09 0.94 0.33 1.41 -1.23 -0.75 -1.23 0.75 0.33 -1.41 -1.09 -0.94 1.44 -0.12zM600.43 542.38l0.56 1.33 1.44 0.12 -1.09 0.94 0.33 1.41 -1.23 -0.75 -1.23 0.75 0.33 -1.41 -1.09 -0.94 1.44 -0.12zM605.03 542.38l0.56 1.33 1.44 0.12 -1.09 0.94 0.33 1.41 -1.23 -0.75 -1.23 0.75 0.33 -1.41 -1.09 -0.94 1.44 -0.12zM173.48 557.10l0.56 1.33 1.44 0.12 -1.09 0.94 0.33 1.41 -1.23 -0.75 -1.23 0.75 0.33 -1.41 -1.09 -0.94 1.44 -0.12zM178.08 557.10l0.56 1.33 1.44 0.12 -1.09 0.94 0.33 1.41 -1.23 -0.75 -1.23 0.75 0.33 -1.41 -1.09 -0.94 1.44 -0.12zM188.21 557.10l0.56 1.33 1.44 0.12 -1.09 0.94 0.33 1.41 -1.23 -0.75 -1.23 0.75 0.33 -1.41 -1.09 -0.94 1.44 -0.12zM192.81 557.10l0.56 1.33 1.44 0.12 -1.09 0.94 0.33 1.41 -1.23 -0.75 -1.23 0.75 0.33 -1.41 -1.09 -0.94 1.44 -0.12zM202.93 557.10l0.56 1.33 1.44 0.12 -1.09 0.94 0.33 1.41 -1.23 -0.75 -1.23 0.75 0.33 -1.41 -1.09 -0.94 1.44 -0.12zM207.53 557.10l0.56 1.33 1.44 0.12 -1.09 0.94 0.33 1.41 -1.23 -0.75 -1.23 0.75 0.33 -1.41 -1.09 -0.94 1.44 -0.12zM217.65 557.10l0.56 1.33 1.44 0.12 -1.09 0.94 0.33 1.41 -1.23 -0.75 -1.23 0.75 0.33 -1.41 -1.09 -0.94 1.44 -0.12zM222.25 557.10l0.56 1.33 1.44 0.12 -1.09 0.94 0.33 1.41 -1.23 -0.75 -1.23 0.75 0.33 -1.41 -1.09 -0.94 1.44 -0.12zM232.37 557.10l0.56 1.33 1.44 0.12 -1.09 0.94 0.33 1.41 -1.23 -0.75 -1.23 0.75 0.33 -1.41 -1.09 -0.94 1.44 -0.12zM236.97 557.10l0.56 1.33 1.44 0.12 -1.09 0.94 0.33 1.41 -1.23 -0.75 -1.23 0.75 0.33 -1.41 -1.09 -0.94 1.44 -0.12zM276.54 557.10l0.56 1.33 1.44 0.12 -1.09 0.94 0.33 1.41 -1.23 -0.75 -1.23 0.75 0.33 -1.41 -1.09 -0.94 1.44 -0.12zM281.14 557.10l0.56 1.33 1.44 0.12 -1.09 0.94 0.33 1.41 -1.23 -0.75 -1.23 0.75 0.33 -1.41 -1.09 -0.94 1.44 -0.12zM291.26 557.10l0.56 1.33 1.44 0.12 -1.09 0.94 0.33 1.41 -1.23 -0.75 -1.23 0.75 0.33 -1.41 -1.09 -0.94 1.44 -0.12zM295.86 557.10l0.56 1.33 1.44 0.12 -1.09 0.94 0.33 1.41 -1.23 -0.75 -1.23 0.75 0.33 -1.41 -1.09 -0.94 1.44 -0.12zM305.98 557.10l0.56 1.33 1.44 0.12 -1.09 0.94 0.33 1.41 -1.23 -0.75 -1.23 0.75 0.33 -1.41 -1.09 -0.94 1.44 -0.12zM310.58 557.10l0.56 1.33 1.44 0.12 -1.09 0.94 0.33 1.41 -1.23 -0.75 -1.23 0.75 0.33 -1.41 -1.09 -0.94 1.44 -0.12zM320.71 557.10l0.56 1.33 1.44 0.12 -1.09 0.94 0.33 1.41 -1.23 -0.75 -1.23 0.75 0.33 -1.41 -1.09 -0.94 1.44 -0.12zM325.31 557.10l0.56 1.33 1.44 0.12 -1.09 0.94 0.33 1.41 -1.23 -0.75 -1.23 0.75 0.33 -1.41 -1.09 -0.94 1.44 -0.12zM335.43 557.10l0.56 1.33 1.44 0.12 -1.09 0.94 0.33 1.41 -1.23 -0.75 -1.23 0.75 0.33 -1.41 -1.09 -0.94 1.44 -0.12zM340.03 557.10l0.56 1.33 1.44 0.12 -1.09 0.94 0.33 1.41 -1.23 -0.75 -1.23 0.75 0.33 -1.41 -1.09 -0.94 1.44 -0.12zM364.87 557.10l0.56 1.33 1.44 0.12 -1.09 0.94 0.33 1.41 -1.23 -0.75 -1.23 0.75 0.33 -1.41 -1.09 -0.94 1.44 -0.12zM369.47 557.10l0.56 1.33 1.44 0.12 -1.09 0.94 0.33 1.41 -1.23 -0.75 -1.23 0.75 0.33 -1.41 -1.09 -0.94 1.44 -0.12zM379.59 557.10l0.56 1.33 1.44 0.12 -1.09 0.94 0.33 1.41 -1.23 -0.75 -1.23 0.75 0.33 -1.41 -1.09 -0.94 1.44 -0.12zM384.19 557.10l0.56 1.33 1.44 0.12 -1.09 0.94 0.33 1.41 -1.23 -0.75 -1.23 0.75 0.33 -1.41 -1.09 -0.94 1.44 -0.12zM394.32 557.10l0.56 1.33 1.44 0.12 -1.09 0.94 0.33 1.41 -1.23 -0.75 -1.23 0.75 0.33 -1.41 -1.09 -0.94 1.44 -0.12zM398.92 557.10l0.56 1.33 1.44 0.12 -1.09 0.94 0.33 1.41 -1.23 -0.75 -1.23 0.75 0.33 -1.41 -1.09 -0.94 1.44 -0.12zM409.04 557.10l0.56 1.33 1.44 0.12 -1.09 0.94 0.33 1.41 -1.23 -0.75 -1.23 0.75 0.33 -1.41 -1.09 -0.94 1.44 -0.12zM413.64 557.10l0.56 1.33 1.44 0.12 -1.09 0.94 0.33 1.41 -1.23 -0.75 -1.23 0.75 0.33 -1.41 -1.09 -0.94 1.44 -0.12zM438.48 557.10l0.56 1.33 1.44 0.12 -1.09 0.94 0.33 1.41 -1.23 -0.75 -1.23 0.75 0.33 -1.41 -1.09 -0.94 1.44 -0.12zM443.08 557.10l0.56 1.33 1.44 0.12 -1.09 0.94 0.33 1.41 -1.23 -0.75 -1.23 0.75 0.33 -1.41 -1.09 -0.94 1.44 -0.12zM453.21 557.10l0.56 1.33 1.44 0.12 -1.09 0.94 0.33 1.41 -1.23 -0.75 -1.23 0.75 0.33 -1.41 -1.09 -0.94 1.44 -0.12zM457.81 557.10l0.56 1.33 1.44 0.12 -1.09 0.94 0.33 1.41 -1.23 -0.75 -1.23 0.75 0.33 -1.41 -1.09 -0.94 1.44 -0.12zM467.93 557.10l0.56 1.33 1.44 0.12 -1.09 0.94 0.33 1.41 -1.23 -0.75 -1.23 0.75 0.33 -1.41 -1.09 -0.94 1.44 -0.12zM472.53 557.10l0.56 1.33 1.44 0.12 -1.09 0.94 0.33 1.41 -1.23 -0.75 -1.23 0.75 0.33 -1.41 -1.09 -0.94 1.44 -0.12zM482.65 557.10l0.56 1.33 1.44 0.12 -1.09 0.94 0.33 1.41 -1.23 -0.75 -1.23 0.75 0.33 -1.41 -1.09 -0.94 1.44 -0.12zM487.25 557.10l0.56 1.33 1.44 0.12 -1.09 0.94 0.33 1.41 -1.23 -0.75 -1.23 0.75 0.33 -1.41 -1.09 -0.94 1.44 -0.12zM497.37 557.10l0.56 1.33 1.44 0.12 -1.09 0.94 0.33 1.41 -1.23 -0.75 -1.23 0.75 0.33 -1.41 -1.09 -0.94 1.44 -0.12zM501.97 557.10l0.56 1.33 1.44 0.12 -1.09 0.94 0.33 1.41 -1.23 -0.75 -1.23 0.75 0.33 -1.41 -1.09 -0.94 1.44 -0.12zM541.54 557.10l0.56 1.33 1.44 0.12 -1.09 0.94 0.33 1.41 -1.23 -0.75 -1.23 0.75 0.33 -1.41 -1.09 -0.94 1.44 -0.12zM546.14 557.10l0.56 1.33 1.44 0.12 -1.09 0.94 0.33 1.41 -1.23 -0.75 -1.23 0.75 0.33 -1.41 -1.09 -0.94 1.44 -0.12zM556.26 557.10l0.56 1.33 1.44 0.12 -1.09 0.94 0.33 1.41 -1.23 -0.75 -1.23 0.75 0.33 -1.41 -1.09 -0.94 1.44 -0.12zM560.86 557.10l0.56 1.33 1.44 0.12 -1.09 0.94 0.33 1.41 -1.23 -0.75 -1.23 0.75 0.33 -1.41 -1.09 -0.94 1.44 -0.12zM570.98 557.10l0.56 1.33 1.44 0.12 -1.09 0.94 0.33 1.41 -1.23 -0.75 -1.23 0.75 0.33 -1.41 -1.09 -0.94 1.44 -0.12zM575.58 557.10l0.56 1.33 1.44 0.12 -1.09 0.94 0.33 1.41 -1.23 -0.75 -1.23 0.75 0.33 -1.41 -1.09 -0.94 1.44 -0.12zM585.71 557.10l0.56 1.33 1.44 0.12 -1.09 0.94 0.33 1.41 -1.23 -0.75 -1.23 0.75 0.33 -1.41 -1.09 -0.94 1.44 -0.12zM590.31 557.10l0.56 1.33 1.44 0.12 -1.09 0.94 0.33 1.41 -1.23 -0.75 -1.23 0.75 0.33 -1.41 -1.09 -0.94 1.44 -0.12zM600.43 557.10l0.56 1.33 1.44 0.12 -1.09 0.94 0.33 1.41 -1.23 -0.75 -1.23 0.75 0.33 -1.41 -1.09 -0.94 1.44 -0.12zM605.03 557.10l0.56 1.33 1.44 0.12 -1.09 0.94 0.33 1.41 -1.23 -0.75 -1.23 0.75 0.33 -1.41 -1.09 -0.94 1.44 -0.12zM615.15 557.10l0.56 1.33 1.44 0.12 -1.09 0.94 0.33 1.41 -1.23 -0.75 -1.23 0.75 0.33 -1.41 -1.09 -0.94 1.44 -0.12zM619.75 557.10l0.56 1.33 1.44 0.12 -1.09 0.94 0.33 1.41 -1.23 -0.75 -1.23 0.75 0.33 -1.41 -1.09 -0.94 1.44 -0.12zM173.48 571.82l0.56 1.33 1.44 0.12 -1.09 0.94 0.33 1.41 -1.23 -0.75 -1.23 0.75 0.33 -1.41 -1.09 -0.94 1.44 -0.12zM178.08 571.82l0.56 1.33 1.44 0.12 -1.09 0.94 0.33 1.41 -1.23 -0.75 -1.23 0.75 0.33 -1.41 -1.09 -0.94 1.44 -0.12zM188.21 571.82l0.56 1.33 1.44 0.12 -1.09 0.94 0.33 1.41 -1.23 -0.75 -1.23 0.75 0.33 -1.41 -1.09 -0.94 1.44 -0.12zM192.81 571.82l0.56 1.33 1.44 0.12 -1.09 0.94 0.33 1.41 -1.23 -0.75 -1.23 0.75 0.33 -1.41 -1.09 -0.94 1.44 -0.12zM202.93 571.82l0.56 1.33 1.44 0.12 -1.09 0.94 0.33 1.41 -1.23 -0.75 -1.23 0.75 0.33 -1.41 -1.09 -0.94 1.44 -0.12zM207.53 571.82l0.56 1.33 1.44 0.12 -1.09 0.94 0.33 1.41 -1.23 -0.75 -1.23 0.75 0.33 -1.41 -1.09 -0.94 1.44 -0.12zM217.65 571.82l0.56 1.33 1.44 0.12 -1.09 0.94 0.33 1.41 -1.23 -0.75 -1.23 0.75 0.33 -1.41 -1.09 -0.94 1.44 -0.12zM222.25 571.82l0.56 1.33 1.44 0.12 -1.09 0.94 0.33 1.41 -1.23 -0.75 -1.23 0.75 0.33 -1.41 -1.09 -0.94 1.44 -0.12zM232.37 571.82l0.56 1.33 1.44 0.12 -1.09 0.94 0.33 1.41 -1.23 -0.75 -1.23 0.75 0.33 -1.41 -1.09 -0.94 1.44 -0.12zM236.97 571.82l0.56 1.33 1.44 0.12 -1.09 0.94 0.33 1.41 -1.23 -0.75 -1.23 0.75 0.33 -1.41 -1.09 -0.94 1.44 -0.12zM276.54 571.82l0.56 1.33 1.44 0.12 -1.09 0.94 0.33 1.41 -1.23 -0.75 -1.23 0.75 0.33 -1.41 -1.09 -0.94 1.44 -0.12zM281.14 571.82l0.56 1.33 1.44 0.12 -1.09 0.94 0.33 1.41 -1.23 -0.75 -1.23 0.75 0.33 -1.41 -1.09 -0.94 1.44 -0.12zM291.26 571.82l0.56 1.33 1.44 0.12 -1.09 0.94 0.33 1.41 -1.23 -0.75 -1.23 0.75 0.33 -1.41 -1.09 -0.94 1.44 -0.12zM295.86 571.82l0.56 1.33 1.44 0.12 -1.09 0.94 0.33 1.41 -1.23 -0.75 -1.23 0.75 0.33 -1.41 -1.09 -0.94 1.44 -0.12zM305.98 571.82l0.56 1.33 1.44 0.12 -1.09 0.94 0.33 1.41 -1.23 -0.75 -1.23 0.75 0.33 -1.41 -1.09 -0.94 1.44 -0.12zM310.58 571.82l0.56 1.33 1.44 0.12 -1.09 0.94 0.33 1.41 -1.23 -0.75 -1.23 0.75 0.33 -1.41 -1.09 -0.94 1.44 -0.12zM320.71 571.82l0.56 1.33 1.44 0.12 -1.09 0.94 0.33 1.41 -1.23 -0.75 -1.23 0.75 0.33 -1.41 -1.09 -0.94 1.44 -0.12zM325.31 571.82l0.56 1.33 1.44 0.12 -1.09 0.94 0.33 1.41 -1.23 -0.75 -1.23 0.75 0.33 -1.41 -1.09 -0.94 1.44 -0.12zM335.43 571.82l0.56 1.33 1.44 0.12 -1.09 0.94 0.33 1.41 -1.23 -0.75 -1.23 0.75 0.33 -1.41 -1.09 -0.94 1.44 -0.12zM340.03 571.82l0.56 1.33 1.44 0.12 -1.09 0.94 0.33 1.41 -1.23 -0.75 -1.23 0.75 0.33 -1.41 -1.09 -0.94 1.44 -0.12zM364.87 571.82l0.56 1.33 1.44 0.12 -1.09 0.94 0.33 1.41 -1.23 -0.75 -1.23 0.75 0.33 -1.41 -1.09 -0.94 1.44 -0.12zM369.47 571.82l0.56 1.33 1.44 0.12 -1.09 0.94 0.33 1.41 -1.23 -0.75 -1.23 0.75 0.33 -1.41 -1.09 -0.94 1.44 -0.12zM379.59 571.82l0.56 1.33 1.44 0.12 -1.09 0.94 0.33 1.41 -1.23 -0.75 -1.23 0.75 0.33 -1.41 -1.09 -0.94 1.44 -0.12zM384.19 571.82l0.56 1.33 1.44 0.12 -1.09 0.94 0.33 1.41 -1.23 -0.75 -1.23 0.75 0.33 -1.41 -1.09 -0.94 1.44 -0.12zM396.62 571.82l0.56 1.33 1.44 0.12 -1.09 0.94 0.33 1.41 -1.23 -0.75 -1.23 0.75 0.33 -1.41 -1.09 -0.94 1.44 -0.12zM409.04 571.82l0.56 1.33 1.44 0.12 -1.09 0.94 0.33 1.41 -1.23 -0.75 -1.23 0.75 0.33 -1.41 -1.09 -0.94 1.44 -0.12zM413.64 571.82l0.56 1.33 1.44 0.12 -1.09 0.94 0.33 1.41 -1.23 -0.75 -1.23 0.75 0.33 -1.41 -1.09 -0.94 1.44 -0.12zM438.48 571.82l0.56 1.33 1.44 0.12 -1.09 0.94 0.33 1.41 -1.23 -0.75 -1.23 0.75 0.33 -1.41 -1.09 -0.94 1.44 -0.12zM443.08 571.82l0.56 1.33 1.44 0.12 -1.09 0.94 0.33 1.41 -1.23 -0.75 -1.23 0.75 0.33 -1.41 -1.09 -0.94 1.44 -0.12zM453.21 571.82l0.56 1.33 1.44 0.12 -1.09 0.94 0.33 1.41 -1.23 -0.75 -1.23 0.75 0.33 -1.41 -1.09 -0.94 1.44 -0.12zM457.81 571.82l0.56 1.33 1.44 0.12 -1.09 0.94 0.33 1.41 -1.23 -0.75 -1.23 0.75 0.33 -1.41 -1.09 -0.94 1.44 -0.12zM467.93 571.82l0.56 1.33 1.44 0.12 -1.09 0.94 0.33 1.41 -1.23 -0.75 -1.23 0.75 0.33 -1.41 -1.09 -0.94 1.44 -0.12zM472.53 571.82l0.56 1.33 1.44 0.12 -1.09 0.94 0.33 1.41 -1.23 -0.75 -1.23 0.75 0.33 -1.41 -1.09 -0.94 1.44 -0.12zM482.65 571.82l0.56 1.33 1.44 0.12 -1.09 0.94 0.33 1.41 -1.23 -0.75 -1.23 0.75 0.33 -1.41 -1.09 -0.94 1.44 -0.12zM487.25 571.82l0.56 1.33 1.44 0.12 -1.09 0.94 0.33 1.41 -1.23 -0.75 -1.23 0.75 0.33 -1.41 -1.09 -0.94 1.44 -0.12zM497.37 571.82l0.56 1.33 1.44 0.12 -1.09 0.94 0.33 1.41 -1.23 -0.75 -1.23 0.75 0.33 -1.41 -1.09 -0.94 1.44 -0.12zM501.97 571.82l0.56 1.33 1.44 0.12 -1.09 0.94 0.33 1.41 -1.23 -0.75 -1.23 0.75 0.33 -1.41 -1.09 -0.94 1.44 -0.12zM541.54 571.82l0.56 1.33 1.44 0.12 -1.09 0.94 0.33 1.41 -1.23 -0.75 -1.23 0.75 0.33 -1.41 -1.09 -0.94 1.44 -0.12zM546.14 571.82l0.56 1.33 1.44 0.12 -1.09 0.94 0.33 1.41 -1.23 -0.75 -1.23 0.75 0.33 -1.41 -1.09 -0.94 1.44 -0.12zM556.26 571.82l0.56 1.33 1.44 0.12 -1.09 0.94 0.33 1.41 -1.23 -0.75 -1.23 0.75 0.33 -1.41 -1.09 -0.94 1.44 -0.12zM560.86 571.82l0.56 1.33 1.44 0.12 -1.09 0.94 0.33 1.41 -1.23 -0.75 -1.23 0.75 0.33 -1.41 -1.09 -0.94 1.44 -0.12zM570.98 571.82l0.56 1.33 1.44 0.12 -1.09 0.94 0.33 1.41 -1.23 -0.75 -1.23 0.75 0.33 -1.41 -1.09 -0.94 1.44 -0.12zM575.58 571.82l0.56 1.33 1.44 0.12 -1.09 0.94 0.33 1.41 -1.23 -0.75 -1.23 0.75 0.33 -1.41 -1.09 -0.94 1.44 -0.12zM585.71 571.82l0.56 1.33 1.44 0.12 -1.09 0.94 0.33 1.41 -1.23 -0.75 -1.23 0.75 0.33 -1.41 -1.09 -0.94 1.44 -0.12zM590.31 571.82l0.56 1.33 1.44 0.12 -1.09 0.94 0.33 1.41 -1.23 -0.75 -1.23 0.75 0.33 -1.41 -1.09 -0.94 1.44 -0.12zM600.43 571.82l0.56 1.33 1.44 0.12 -1.09 0.94 0.33 1.41 -1.23 -0.75 -1.23 0.75 0.33 -1.41 -1.09 -0.94 1.44 -0.12zM605.03 571.82l0.56 1.33 1.44 0.12 -1.09 0.94 0.33 1.41 -1.23 -0.75 -1.23 0.75 0.33 -1.41 -1.09 -0.94 1.44 -0.12zM615.15 571.82l0.56 1.33 1.44 0.12 -1.09 0.94 0.33 1.41 -1.23 -0.75 -1.23 0.75 0.33 -1.41 -1.09 -0.94 1.44 -0.12zM619.75 571.82l0.56 1.33 1.44 0.12 -1.09 0.94 0.33 1.41 -1.23 -0.75 -1.23 0.75 0.33 -1.41 -1.09 -0.94 1.44 -0.12zM629.87 571.82l0.56 1.33 1.44 0.12 -1.09 0.94 0.33 1.41 -1.23 -0.75 -1.23 0.75 0.33 -1.41 -1.09 -0.94 1.44 -0.12zM634.47 571.82l0.56 1.33 1.44 0.12 -1.09 0.94 0.33 1.41 -1.23 -0.75 -1.23 0.75 0.33 -1.41 -1.09 -0.94 1.44 -0.12zM173.48 586.54l0.56 1.33 1.44 0.12 -1.09 0.94 0.33 1.41 -1.23 -0.75 -1.23 0.75 0.33 -1.41 -1.09 -0.94 1.44 -0.12zM178.08 586.54l0.56 1.33 1.44 0.12 -1.09 0.94 0.33 1.41 -1.23 -0.75 -1.23 0.75 0.33 -1.41 -1.09 -0.94 1.44 -0.12zM188.21 586.54l0.56 1.33 1.44 0.12 -1.09 0.94 0.33 1.41 -1.23 -0.75 -1.23 0.75 0.33 -1.41 -1.09 -0.94 1.44 -0.12zM192.81 586.54l0.56 1.33 1.44 0.12 -1.09 0.94 0.33 1.41 -1.23 -0.75 -1.23 0.75 0.33 -1.41 -1.09 -0.94 1.44 -0.12zM202.93 586.54l0.56 1.33 1.44 0.12 -1.09 0.94 0.33 1.41 -1.23 -0.75 -1.23 0.75 0.33 -1.41 -1.09 -0.94 1.44 -0.12zM207.53 586.54l0.56 1.33 1.44 0.12 -1.09 0.94 0.33 1.41 -1.23 -0.75 -1.23 0.75 0.33 -1.41 -1.09 -0.94 1.44 -0.12zM217.65 586.54l0.56 1.33 1.44 0.12 -1.09 0.94 0.33 1.41 -1.23 -0.75 -1.23 0.75 0.33 -1.41 -1.09 -0.94 1.44 -0.12zM222.25 586.54l0.56 1.33 1.44 0.12 -1.09 0.94 0.33 1.41 -1.23 -0.75 -1.23 0.75 0.33 -1.41 -1.09 -0.94 1.44 -0.12zM232.37 586.54l0.56 1.33 1.44 0.12 -1.09 0.94 0.33 1.41 -1.23 -0.75 -1.23 0.75 0.33 -1.41 -1.09 -0.94 1.44 -0.12zM236.97 586.54l0.56 1.33 1.44 0.12 -1.09 0.94 0.33 1.41 -1.23 -0.75 -1.23 0.75 0.33 -1.41 -1.09 -0.94 1.44 -0.12zM276.54 586.54l0.56 1.33 1.44 0.12 -1.09 0.94 0.33 1.41 -1.23 -0.75 -1.23 0.75 0.33 -1.41 -1.09 -0.94 1.44 -0.12zM281.14 586.54l0.56 1.33 1.44 0.12 -1.09 0.94 0.33 1.41 -1.23 -0.75 -1.23 0.75 0.33 -1.41 -1.09 -0.94 1.44 -0.12zM291.26 586.54l0.56 1.33 1.44 0.12 -1.09 0.94 0.33 1.41 -1.23 -0.75 -1.23 0.75 0.33 -1.41 -1.09 -0.94 1.44 -0.12zM295.86 586.54l0.56 1.33 1.44 0.12 -1.09 0.94 0.33 1.41 -1.23 -0.75 -1.23 0.75 0.33 -1.41 -1.09 -0.94 1.44 -0.12zM305.98 586.54l0.56 1.33 1.44 0.12 -1.09 0.94 0.33 1.41 -1.23 -0.75 -1.23 0.75 0.33 -1.41 -1.09 -0.94 1.44 -0.12zM310.58 586.54l0.56 1.33 1.44 0.12 -1.09 0.94 0.33 1.41 -1.23 -0.75 -1.23 0.75 0.33 -1.41 -1.09 -0.94 1.44 -0.12zM320.71 586.54l0.56 1.33 1.44 0.12 -1.09 0.94 0.33 1.41 -1.23 -0.75 -1.23 0.75 0.33 -1.41 -1.09 -0.94 1.44 -0.12zM325.31 586.54l0.56 1.33 1.44 0.12 -1.09 0.94 0.33 1.41 -1.23 -0.75 -1.23 0.75 0.33 -1.41 -1.09 -0.94 1.44 -0.12zM335.43 586.54l0.56 1.33 1.44 0.12 -1.09 0.94 0.33 1.41 -1.23 -0.75 -1.23 0.75 0.33 -1.41 -1.09 -0.94 1.44 -0.12zM340.03 586.54l0.56 1.33 1.44 0.12 -1.09 0.94 0.33 1.41 -1.23 -0.75 -1.23 0.75 0.33 -1.41 -1.09 -0.94 1.44 -0.12zM364.87 586.54l0.56 1.33 1.44 0.12 -1.09 0.94 0.33 1.41 -1.23 -0.75 -1.23 0.75 0.33 -1.41 -1.09 -0.94 1.44 -0.12zM369.47 586.54l0.56 1.33 1.44 0.12 -1.09 0.94 0.33 1.41 -1.23 -0.75 -1.23 0.75 0.33 -1.41 -1.09 -0.94 1.44 -0.12zM379.59 586.54l0.56 1.33 1.44 0.12 -1.09 0.94 0.33 1.41 -1.23 -0.75 -1.23 0.75 0.33 -1.41 -1.09 -0.94 1.44 -0.12zM384.19 586.54l0.56 1.33 1.44 0.12 -1.09 0.94 0.33 1.41 -1.23 -0.75 -1.23 0.75 0.33 -1.41 -1.09 -0.94 1.44 -0.12zM396.62 586.54l0.56 1.33 1.44 0.12 -1.09 0.94 0.33 1.41 -1.23 -0.75 -1.23 0.75 0.33 -1.41 -1.09 -0.94 1.44 -0.12zM409.04 586.54l0.56 1.33 1.44 0.12 -1.09 0.94 0.33 1.41 -1.23 -0.75 -1.23 0.75 0.33 -1.41 -1.09 -0.94 1.44 -0.12zM413.64 586.54l0.56 1.33 1.44 0.12 -1.09 0.94 0.33 1.41 -1.23 -0.75 -1.23 0.75 0.33 -1.41 -1.09 -0.94 1.44 -0.12zM438.48 586.54l0.56 1.33 1.44 0.12 -1.09 0.94 0.33 1.41 -1.23 -0.75 -1.23 0.75 0.33 -1.41 -1.09 -0.94 1.44 -0.12zM443.08 586.54l0.56 1.33 1.44 0.12 -1.09 0.94 0.33 1.41 -1.23 -0.75 -1.23 0.75 0.33 -1.41 -1.09 -0.94 1.44 -0.12zM453.21 586.54l0.56 1.33 1.44 0.12 -1.09 0.94 0.33 1.41 -1.23 -0.75 -1.23 0.75 0.33 -1.41 -1.09 -0.94 1.44 -0.12zM457.81 586.54l0.56 1.33 1.44 0.12 -1.09 0.94 0.33 1.41 -1.23 -0.75 -1.23 0.75 0.33 -1.41 -1.09 -0.94 1.44 -0.12zM467.93 586.54l0.56 1.33 1.44 0.12 -1.09 0.94 0.33 1.41 -1.23 -0.75 -1.23 0.75 0.33 -1.41 -1.09 -0.94 1.44 -0.12zM472.53 586.54l0.56 1.33 1.44 0.12 -1.09 0.94 0.33 1.41 -1.23 -0.75 -1.23 0.75 0.33 -1.41 -1.09 -0.94 1.44 -0.12zM482.65 586.54l0.56 1.33 1.44 0.12 -1.09 0.94 0.33 1.41 -1.23 -0.75 -1.23 0.75 0.33 -1.41 -1.09 -0.94 1.44 -0.12zM487.25 586.54l0.56 1.33 1.44 0.12 -1.09 0.94 0.33 1.41 -1.23 -0.75 -1.23 0.75 0.33 -1.41 -1.09 -0.94 1.44 -0.12zM497.37 586.54l0.56 1.33 1.44 0.12 -1.09 0.94 0.33 1.41 -1.23 -0.75 -1.23 0.75 0.33 -1.41 -1.09 -0.94 1.44 -0.12zM501.97 586.54l0.56 1.33 1.44 0.12 -1.09 0.94 0.33 1.41 -1.23 -0.75 -1.23 0.75 0.33 -1.41 -1.09 -0.94 1.44 -0.12zM541.54 586.54l0.56 1.33 1.44 0.12 -1.09 0.94 0.33 1.41 -1.23 -0.75 -1.23 0.75 0.33 -1.41 -1.09 -0.94 1.44 -0.12zM546.14 586.54l0.56 1.33 1.44 0.12 -1.09 0.94 0.33 1.41 -1.23 -0.75 -1.23 0.75 0.33 -1.41 -1.09 -0.94 1.44 -0.12zM556.26 586.54l0.56 1.33 1.44 0.12 -1.09 0.94 0.33 1.41 -1.23 -0.75 -1.23 0.75 0.33 -1.41 -1.09 -0.94 1.44 -0.12zM560.86 586.54l0.56 1.33 1.44 0.12 -1.09 0.94 0.33 1.41 -1.23 -0.75 -1.23 0.75 0.33 -1.41 -1.09 -0.94 1.44 -0.12zM570.98 586.54l0.56 1.33 1.44 0.12 -1.09 0.94 0.33 1.41 -1.23 -0.75 -1.23 0.75 0.33 -1.41 -1.09 -0.94 1.44 -0.12zM575.58 586.54l0.56 1.33 1.44 0.12 -1.09 0.94 0.33 1.41 -1.23 -0.75 -1.23 0.75 0.33 -1.41 -1.09 -0.94 1.44 -0.12zM585.71 586.54l0.56 1.33 1.44 0.12 -1.09 0.94 0.33 1.41 -1.23 -0.75 -1.23 0.75 0.33 -1.41 -1.09 -0.94 1.44 -0.12zM590.31 586.54l0.56 1.33 1.44 0.12 -1.09 0.94 0.33 1.41 -1.23 -0.75 -1.23 0.75 0.33 -1.41 -1.09 -0.94 1.44 -0.12zM602.73 586.54l0.56 1.33 1.44 0.12 -1.09 0.94 0.33 1.41 -1.23 -0.75 -1.23 0.75 0.33 -1.41 -1.09 -0.94 1.44 -0.12zM615.15 586.54l0.56 1.33 1.44 0.12 -1.09 0.94 0.33 1.41 -1.23 -0.75 -1.23 0.75 0.33 -1.41 -1.09 -0.94 1.44 -0.12zM619.75 586.54l0.56 1.33 1.44 0.12 -1.09 0.94 0.33 1.41 -1.23 -0.75 -1.23 0.75 0.33 -1.41 -1.09 -0.94 1.44 -0.12zM629.87 586.54l0.56 1.33 1.44 0.12 -1.09 0.94 0.33 1.41 -1.23 -0.75 -1.23 0.75 0.33 -1.41 -1.09 -0.94 1.44 -0.12zM634.47 586.54l0.56 1.33 1.44 0.12 -1.09 0.94 0.33 1.41 -1.23 -0.75 -1.23 0.75 0.33 -1.41 -1.09 -0.94 1.44 -0.12zM644.59 586.54l0.56 1.33 1.44 0.12 -1.09 0.94 0.33 1.41 -1.23 -0.75 -1.23 0.75 0.33 -1.41 -1.09 -0.94 1.44 -0.12zM649.19 586.54l0.56 1.33 1.44 0.12 -1.09 0.94 0.33 1.41 -1.23 -0.75 -1.23 0.75 0.33 -1.41 -1.09 -0.94 1.44 -0.12zM173.48 601.27l0.56 1.33 1.44 0.12 -1.09 0.94 0.33 1.41 -1.23 -0.75 -1.23 0.75 0.33 -1.41 -1.09 -0.94 1.44 -0.12zM178.08 601.27l0.56 1.33 1.44 0.12 -1.09 0.94 0.33 1.41 -1.23 -0.75 -1.23 0.75 0.33 -1.41 -1.09 -0.94 1.44 -0.12zM188.21 601.27l0.56 1.33 1.44 0.12 -1.09 0.94 0.33 1.41 -1.23 -0.75 -1.23 0.75 0.33 -1.41 -1.09 -0.94 1.44 -0.12zM192.81 601.27l0.56 1.33 1.44 0.12 -1.09 0.94 0.33 1.41 -1.23 -0.75 -1.23 0.75 0.33 -1.41 -1.09 -0.94 1.44 -0.12zM202.93 601.27l0.56 1.33 1.44 0.12 -1.09 0.94 0.33 1.41 -1.23 -0.75 -1.23 0.75 0.33 -1.41 -1.09 -0.94 1.44 -0.12zM207.53 601.27l0.56 1.33 1.44 0.12 -1.09 0.94 0.33 1.41 -1.23 -0.75 -1.23 0.75 0.33 -1.41 -1.09 -0.94 1.44 -0.12zM217.65 601.27l0.56 1.33 1.44 0.12 -1.09 0.94 0.33 1.41 -1.23 -0.75 -1.23 0.75 0.33 -1.41 -1.09 -0.94 1.44 -0.12zM222.25 601.27l0.56 1.33 1.44 0.12 -1.09 0.94 0.33 1.41 -1.23 -0.75 -1.23 0.75 0.33 -1.41 -1.09 -0.94 1.44 -0.12zM232.37 601.27l0.56 1.33 1.44 0.12 -1.09 0.94 0.33 1.41 -1.23 -0.75 -1.23 0.75 0.33 -1.41 -1.09 -0.94 1.44 -0.12zM236.97 601.27l0.56 1.33 1.44 0.12 -1.09 0.94 0.33 1.41 -1.23 -0.75 -1.23 0.75 0.33 -1.41 -1.09 -0.94 1.44 -0.12zM276.54 601.27l0.56 1.33 1.44 0.12 -1.09 0.94 0.33 1.41 -1.23 -0.75 -1.23 0.75 0.33 -1.41 -1.09 -0.94 1.44 -0.12zM281.14 601.27l0.56 1.33 1.44 0.12 -1.09 0.94 0.33 1.41 -1.23 -0.75 -1.23 0.75 0.33 -1.41 -1.09 -0.94 1.44 -0.12zM291.26 601.27l0.56 1.33 1.44 0.12 -1.09 0.94 0.33 1.41 -1.23 -0.75 -1.23 0.75 0.33 -1.41 -1.09 -0.94 1.44 -0.12zM295.86 601.27l0.56 1.33 1.44 0.12 -1.09 0.94 0.33 1.41 -1.23 -0.75 -1.23 0.75 0.33 -1.41 -1.09 -0.94 1.44 -0.12zM305.98 601.27l0.56 1.33 1.44 0.12 -1.09 0.94 0.33 1.41 -1.23 -0.75 -1.23 0.75 0.33 -1.41 -1.09 -0.94 1.44 -0.12zM310.58 601.27l0.56 1.33 1.44 0.12 -1.09 0.94 0.33 1.41 -1.23 -0.75 -1.23 0.75 0.33 -1.41 -1.09 -0.94 1.44 -0.12zM320.71 601.27l0.56 1.33 1.44 0.12 -1.09 0.94 0.33 1.41 -1.23 -0.75 -1.23 0.75 0.33 -1.41 -1.09 -0.94 1.44 -0.12zM325.31 601.27l0.56 1.33 1.44 0.12 -1.09 0.94 0.33 1.41 -1.23 -0.75 -1.23 0.75 0.33 -1.41 -1.09 -0.94 1.44 -0.12zM335.43 601.27l0.56 1.33 1.44 0.12 -1.09 0.94 0.33 1.41 -1.23 -0.75 -1.23 0.75 0.33 -1.41 -1.09 -0.94 1.44 -0.12zM340.03 601.27l0.56 1.33 1.44 0.12 -1.09 0.94 0.33 1.41 -1.23 -0.75 -1.23 0.75 0.33 -1.41 -1.09 -0.94 1.44 -0.12zM364.87 601.27l0.56 1.33 1.44 0.12 -1.09 0.94 0.33 1.41 -1.23 -0.75 -1.23 0.75 0.33 -1.41 -1.09 -0.94 1.44 -0.12zM369.47 601.27l0.56 1.33 1.44 0.12 -1.09 0.94 0.33 1.41 -1.23 -0.75 -1.23 0.75 0.33 -1.41 -1.09 -0.94 1.44 -0.12zM379.59 601.27l0.56 1.33 1.44 0.12 -1.09 0.94 0.33 1.41 -1.23 -0.75 -1.23 0.75 0.33 -1.41 -1.09 -0.94 1.44 -0.12zM384.19 601.27l0.56 1.33 1.44 0.12 -1.09 0.94 0.33 1.41 -1.23 -0.75 -1.23 0.75 0.33 -1.41 -1.09 -0.94 1.44 -0.12zM394.32 601.27l0.56 1.33 1.44 0.12 -1.09 0.94 0.33 1.41 -1.23 -0.75 -1.23 0.75 0.33 -1.41 -1.09 -0.94 1.44 -0.12zM398.92 601.27l0.56 1.33 1.44 0.12 -1.09 0.94 0.33 1.41 -1.23 -0.75 -1.23 0.75 0.33 -1.41 -1.09 -0.94 1.44 -0.12zM409.04 601.27l0.56 1.33 1.44 0.12 -1.09 0.94 0.33 1.41 -1.23 -0.75 -1.23 0.75 0.33 -1.41 -1.09 -0.94 1.44 -0.12zM413.64 601.27l0.56 1.33 1.44 0.12 -1.09 0.94 0.33 1.41 -1.23 -0.75 -1.23 0.75 0.33 -1.41 -1.09 -0.94 1.44 -0.12zM438.48 601.27l0.56 1.33 1.44 0.12 -1.09 0.94 0.33 1.41 -1.23 -0.75 -1.23 0.75 0.33 -1.41 -1.09 -0.94 1.44 -0.12zM443.08 601.27l0.56 1.33 1.44 0.12 -1.09 0.94 0.33 1.41 -1.23 -0.75 -1.23 0.75 0.33 -1.41 -1.09 -0.94 1.44 -0.12zM453.21 601.27l0.56 1.33 1.44 0.12 -1.09 0.94 0.33 1.41 -1.23 -0.75 -1.23 0.75 0.33 -1.41 -1.09 -0.94 1.44 -0.12zM457.81 601.27l0.56 1.33 1.44 0.12 -1.09 0.94 0.33 1.41 -1.23 -0.75 -1.23 0.75 0.33 -1.41 -1.09 -0.94 1.44 -0.12zM467.93 601.27l0.56 1.33 1.44 0.12 -1.09 0.94 0.33 1.41 -1.23 -0.75 -1.23 0.75 0.33 -1.41 -1.09 -0.94 1.44 -0.12zM472.53 601.27l0.56 1.33 1.44 0.12 -1.09 0.94 0.33 1.41 -1.23 -0.75 -1.23 0.75 0.33 -1.41 -1.09 -0.94 1.44 -0.12zM482.65 601.27l0.56 1.33 1.44 0.12 -1.09 0.94 0.33 1.41 -1.23 -0.75 -1.23 0.75 0.33 -1.41 -1.09 -0.94 1.44 -0.12zM487.25 601.27l0.56 1.33 1.44 0.12 -1.09 0.94 0.33 1.41 -1.23 -0.75 -1.23 0.75 0.33 -1.41 -1.09 -0.94 1.44 -0.12zM497.37 601.27l0.56 1.33 1.44 0.12 -1.09 0.94 0.33 1.41 -1.23 -0.75 -1.23 0.75 0.33 -1.41 -1.09 -0.94 1.44 -0.12zM501.97 601.27l0.56 1.33 1.44 0.12 -1.09 0.94 0.33 1.41 -1.23 -0.75 -1.23 0.75 0.33 -1.41 -1.09 -0.94 1.44 -0.12zM541.54 601.27l0.56 1.33 1.44 0.12 -1.09 0.94 0.33 1.41 -1.23 -0.75 -1.23 0.75 0.33 -1.41 -1.09 -0.94 1.44 -0.12zM546.14 601.27l0.56 1.33 1.44 0.12 -1.09 0.94 0.33 1.41 -1.23 -0.75 -1.23 0.75 0.33 -1.41 -1.09 -0.94 1.44 -0.12zM556.26 601.27l0.56 1.33 1.44 0.12 -1.09 0.94 0.33 1.41 -1.23 -0.75 -1.23 0.75 0.33 -1.41 -1.09 -0.94 1.44 -0.12zM560.86 601.27l0.56 1.33 1.44 0.12 -1.09 0.94 0.33 1.41 -1.23 -0.75 -1.23 0.75 0.33 -1.41 -1.09 -0.94 1.44 -0.12zM570.98 601.27l0.56 1.33 1.44 0.12 -1.09 0.94 0.33 1.41 -1.23 -0.75 -1.23 0.75 0.33 -1.41 -1.09 -0.94 1.44 -0.12zM575.58 601.27l0.56 1.33 1.44 0.12 -1.09 0.94 0.33 1.41 -1.23 -0.75 -1.23 0.75 0.33 -1.41 -1.09 -0.94 1.44 -0.12zM585.71 601.27l0.56 1.33 1.44 0.12 -1.09 0.94 0.33 1.41 -1.23 -0.75 -1.23 0.75 0.33 -1.41 -1.09 -0.94 1.44 -0.12zM590.31 601.27l0.56 1.33 1.44 0.12 -1.09 0.94 0.33 1.41 -1.23 -0.75 -1.23 0.75 0.33 -1.41 -1.09 -0.94 1.44 -0.12zM600.43 601.27l0.56 1.33 1.44 0.12 -1.09 0.94 0.33 1.41 -1.23 -0.75 -1.23 0.75 0.33 -1.41 -1.09 -0.94 1.44 -0.12zM605.03 601.27l0.56 1.33 1.44 0.12 -1.09 0.94 0.33 1.41 -1.23 -0.75 -1.23 0.75 0.33 -1.41 -1.09 -0.94 1.44 -0.12zM615.15 601.27l0.56 1.33 1.44 0.12 -1.09 0.94 0.33 1.41 -1.23 -0.75 -1.23 0.75 0.33 -1.41 -1.09 -0.94 1.44 -0.12zM619.75 601.27l0.56 1.33 1.44 0.12 -1.09 0.94 0.33 1.41 -1.23 -0.75 -1.23 0.75 0.33 -1.41 -1.09 -0.94 1.44 -0.12zM629.87 601.27l0.56 1.33 1.44 0.12 -1.09 0.94 0.33 1.41 -1.23 -0.75 -1.23 0.75 0.33 -1.41 -1.09 -0.94 1.44 -0.12zM634.47 601.27l0.56 1.33 1.44 0.12 -1.09 0.94 0.33 1.41 -1.23 -0.75 -1.23 0.75 0.33 -1.41 -1.09 -0.94 1.44 -0.12zM644.59 601.27l0.56 1.33 1.44 0.12 -1.09 0.94 0.33 1.41 -1.23 -0.75 -1.23 0.75 0.33 -1.41 -1.09 -0.94 1.44 -0.12zM649.19 601.27l0.56 1.33 1.44 0.12 -1.09 0.94 0.33 1.41 -1.23 -0.75 -1.23 0.75 0.33 -1.41 -1.09 -0.94 1.44 -0.12zM659.32 601.27l0.56 1.33 1.44 0.12 -1.09 0.94 0.33 1.41 -1.23 -0.75 -1.23 0.75 0.33 -1.41 -1.09 -0.94 1.44 -0.12zM663.92 601.27l0.56 1.33 1.44 0.12 -1.09 0.94 0.33 1.41 -1.23 -0.75 -1.23 0.75 0.33 -1.41 -1.09 -0.94 1.44 -0.12zM173.48 615.99l0.56 1.33 1.44 0.12 -1.09 0.94 0.33 1.41 -1.23 -0.75 -1.23 0.75 0.33 -1.41 -1.09 -0.94 1.44 -0.12zM178.08 615.99l0.56 1.33 1.44 0.12 -1.09 0.94 0.33 1.41 -1.23 -0.75 -1.23 0.75 0.33 -1.41 -1.09 -0.94 1.44 -0.12zM188.21 615.99l0.56 1.33 1.44 0.12 -1.09 0.94 0.33 1.41 -1.23 -0.75 -1.23 0.75 0.33 -1.41 -1.09 -0.94 1.44 -0.12zM192.81 615.99l0.56 1.33 1.44 0.12 -1.09 0.94 0.33 1.41 -1.23 -0.75 -1.23 0.75 0.33 -1.41 -1.09 -0.94 1.44 -0.12zM202.93 615.99l0.56 1.33 1.44 0.12 -1.09 0.94 0.33 1.41 -1.23 -0.75 -1.23 0.75 0.33 -1.41 -1.09 -0.94 1.44 -0.12zM207.53 615.99l0.56 1.33 1.44 0.12 -1.09 0.94 0.33 1.41 -1.23 -0.75 -1.23 0.75 0.33 -1.41 -1.09 -0.94 1.44 -0.12zM217.65 615.99l0.56 1.33 1.44 0.12 -1.09 0.94 0.33 1.41 -1.23 -0.75 -1.23 0.75 0.33 -1.41 -1.09 -0.94 1.44 -0.12zM222.25 615.99l0.56 1.33 1.44 0.12 -1.09 0.94 0.33 1.41 -1.23 -0.75 -1.23 0.75 0.33 -1.41 -1.09 -0.94 1.44 -0.12zM232.37 615.99l0.56 1.33 1.44 0.12 -1.09 0.94 0.33 1.41 -1.23 -0.75 -1.23 0.75 0.33 -1.41 -1.09 -0.94 1.44 -0.12zM236.97 615.99l0.56 1.33 1.44 0.12 -1.09 0.94 0.33 1.41 -1.23 -0.75 -1.23 0.75 0.33 -1.41 -1.09 -0.94 1.44 -0.12zM249.39 615.99l0.56 1.33 1.44 0.12 -1.09 0.94 0.33 1.41 -1.23 -0.75 -1.23 0.75 0.33 -1.41 -1.09 -0.94 1.44 -0.12zM276.54 615.99l0.56 1.33 1.44 0.12 -1.09 0.94 0.33 1.41 -1.23 -0.75 -1.23 0.75 0.33 -1.41 -1.09 -0.94 1.44 -0.12zM281.14 615.99l0.56 1.33 1.44 0.12 -1.09 0.94 0.33 1.41 -1.23 -0.75 -1.23 0.75 0.33 -1.41 -1.09 -0.94 1.44 -0.12zM291.26 615.99l0.56 1.33 1.44 0.12 -1.09 0.94 0.33 1.41 -1.23 -0.75 -1.23 0.75 0.33 -1.41 -1.09 -0.94 1.44 -0.12zM295.86 615.99l0.56 1.33 1.44 0.12 -1.09 0.94 0.33 1.41 -1.23 -0.75 -1.23 0.75 0.33 -1.41 -1.09 -0.94 1.44 -0.12zM305.98 615.99l0.56 1.33 1.44 0.12 -1.09 0.94 0.33 1.41 -1.23 -0.75 -1.23 0.75 0.33 -1.41 -1.09 -0.94 1.44 -0.12zM310.58 615.99l0.56 1.33 1.44 0.12 -1.09 0.94 0.33 1.41 -1.23 -0.75 -1.23 0.75 0.33 -1.41 -1.09 -0.94 1.44 -0.12zM320.71 615.99l0.56 1.33 1.44 0.12 -1.09 0.94 0.33 1.41 -1.23 -0.75 -1.23 0.75 0.33 -1.41 -1.09 -0.94 1.44 -0.12zM325.31 615.99l0.56 1.33 1.44 0.12 -1.09 0.94 0.33 1.41 -1.23 -0.75 -1.23 0.75 0.33 -1.41 -1.09 -0.94 1.44 -0.12zM335.43 615.99l0.56 1.33 1.44 0.12 -1.09 0.94 0.33 1.41 -1.23 -0.75 -1.23 0.75 0.33 -1.41 -1.09 -0.94 1.44 -0.12zM340.03 615.99l0.56 1.33 1.44 0.12 -1.09 0.94 0.33 1.41 -1.23 -0.75 -1.23 0.75 0.33 -1.41 -1.09 -0.94 1.44 -0.12zM364.87 615.99l0.56 1.33 1.44 0.12 -1.09 0.94 0.33 1.41 -1.23 -0.75 -1.23 0.75 0.33 -1.41 -1.09 -0.94 1.44 -0.12zM369.47 615.99l0.56 1.33 1.44 0.12 -1.09 0.94 0.33 1.41 -1.23 -0.75 -1.23 0.75 0.33 -1.41 -1.09 -0.94 1.44 -0.12zM379.59 615.99l0.56 1.33 1.44 0.12 -1.09 0.94 0.33 1.41 -1.23 -0.75 -1.23 0.75 0.33 -1.41 -1.09 -0.94 1.44 -0.12zM384.19 615.99l0.56 1.33 1.44 0.12 -1.09 0.94 0.33 1.41 -1.23 -0.75 -1.23 0.75 0.33 -1.41 -1.09 -0.94 1.44 -0.12zM396.62 615.99l0.56 1.33 1.44 0.12 -1.09 0.94 0.33 1.41 -1.23 -0.75 -1.23 0.75 0.33 -1.41 -1.09 -0.94 1.44 -0.12zM409.04 615.99l0.56 1.33 1.44 0.12 -1.09 0.94 0.33 1.41 -1.23 -0.75 -1.23 0.75 0.33 -1.41 -1.09 -0.94 1.44 -0.12zM413.64 615.99l0.56 1.33 1.44 0.12 -1.09 0.94 0.33 1.41 -1.23 -0.75 -1.23 0.75 0.33 -1.41 -1.09 -0.94 1.44 -0.12zM438.48 615.99l0.56 1.33 1.44 0.12 -1.09 0.94 0.33 1.41 -1.23 -0.75 -1.23 0.75 0.33 -1.41 -1.09 -0.94 1.44 -0.12zM443.08 615.99l0.56 1.33 1.44 0.12 -1.09 0.94 0.33 1.41 -1.23 -0.75 -1.23 0.75 0.33 -1.41 -1.09 -0.94 1.44 -0.12zM453.21 615.99l0.56 1.33 1.44 0.12 -1.09 0.94 0.33 1.41 -1.23 -0.75 -1.23 0.75 0.33 -1.41 -1.09 -0.94 1.44 -0.12zM457.81 615.99l0.56 1.33 1.44 0.12 -1.09 0.94 0.33 1.41 -1.23 -0.75 -1.23 0.75 0.33 -1.41 -1.09 -0.94 1.44 -0.12zM467.93 615.99l0.56 1.33 1.44 0.12 -1.09 0.94 0.33 1.41 -1.23 -0.75 -1.23 0.75 0.33 -1.41 -1.09 -0.94 1.44 -0.12zM472.53 615.99l0.56 1.33 1.44 0.12 -1.09 0.94 0.33 1.41 -1.23 -0.75 -1.23 0.75 0.33 -1.41 -1.09 -0.94 1.44 -0.12zM482.65 615.99l0.56 1.33 1.44 0.12 -1.09 0.94 0.33 1.41 -1.23 -0.75 -1.23 0.75 0.33 -1.41 -1.09 -0.94 1.44 -0.12zM487.25 615.99l0.56 1.33 1.44 0.12 -1.09 0.94 0.33 1.41 -1.23 -0.75 -1.23 0.75 0.33 -1.41 -1.09 -0.94 1.44 -0.12zM497.37 615.99l0.56 1.33 1.44 0.12 -1.09 0.94 0.33 1.41 -1.23 -0.75 -1.23 0.75 0.33 -1.41 -1.09 -0.94 1.44 -0.12zM501.97 615.99l0.56 1.33 1.44 0.12 -1.09 0.94 0.33 1.41 -1.23 -0.75 -1.23 0.75 0.33 -1.41 -1.09 -0.94 1.44 -0.12zM514.39 615.99l0.56 1.33 1.44 0.12 -1.09 0.94 0.33 1.41 -1.23 -0.75 -1.23 0.75 0.33 -1.41 -1.09 -0.94 1.44 -0.12zM541.54 615.99l0.56 1.33 1.44 0.12 -1.09 0.94 0.33 1.41 -1.23 -0.75 -1.23 0.75 0.33 -1.41 -1.09 -0.94 1.44 -0.12zM546.14 615.99l0.56 1.33 1.44 0.12 -1.09 0.94 0.33 1.41 -1.23 -0.75 -1.23 0.75 0.33 -1.41 -1.09 -0.94 1.44 -0.12zM556.26 615.99l0.56 1.33 1.44 0.12 -1.09 0.94 0.33 1.41 -1.23 -0.75 -1.23 0.75 0.33 -1.41 -1.09 -0.94 1.44 -0.12zM560.86 615.99l0.56 1.33 1.44 0.12 -1.09 0.94 0.33 1.41 -1.23 -0.75 -1.23 0.75 0.33 -1.41 -1.09 -0.94 1.44 -0.12zM570.98 615.99l0.56 1.33 1.44 0.12 -1.09 0.94 0.33 1.41 -1.23 -0.75 -1.23 0.75 0.33 -1.41 -1.09 -0.94 1.44 -0.12zM575.58 615.99l0.56 1.33 1.44 0.12 -1.09 0.94 0.33 1.41 -1.23 -0.75 -1.23 0.75 0.33 -1.41 -1.09 -0.94 1.44 -0.12zM585.71 615.99l0.56 1.33 1.44 0.12 -1.09 0.94 0.33 1.41 -1.23 -0.75 -1.23 0.75 0.33 -1.41 -1.09 -0.94 1.44 -0.12zM590.31 615.99l0.56 1.33 1.44 0.12 -1.09 0.94 0.33 1.41 -1.23 -0.75 -1.23 0.75 0.33 -1.41 -1.09 -0.94 1.44 -0.12zM615.15 615.99l0.56 1.33 1.44 0.12 -1.09 0.94 0.33 1.41 -1.23 -0.75 -1.23 0.75 0.33 -1.41 -1.09 -0.94 1.44 -0.12zM619.75 615.99l0.56 1.33 1.44 0.12 -1.09 0.94 0.33 1.41 -1.23 -0.75 -1.23 0.75 0.33 -1.41 -1.09 -0.94 1.44 -0.12zM629.87 615.99l0.56 1.33 1.44 0.12 -1.09 0.94 0.33 1.41 -1.23 -0.75 -1.23 0.75 0.33 -1.41 -1.09 -0.94 1.44 -0.12zM634.47 615.99l0.56 1.33 1.44 0.12 -1.09 0.94 0.33 1.41 -1.23 -0.75 -1.23 0.75 0.33 -1.41 -1.09 -0.94 1.44 -0.12zM644.59 615.99l0.56 1.33 1.44 0.12 -1.09 0.94 0.33 1.41 -1.23 -0.75 -1.23 0.75 0.33 -1.41 -1.09 -0.94 1.44 -0.12zM649.19 615.99l0.56 1.33 1.44 0.12 -1.09 0.94 0.33 1.41 -1.23 -0.75 -1.23 0.75 0.33 -1.41 -1.09 -0.94 1.44 -0.12zM659.32 615.99l0.56 1.33 1.44 0.12 -1.09 0.94 0.33 1.41 -1.23 -0.75 -1.23 0.75 0.33 -1.41 -1.09 -0.94 1.44 -0.12zM663.92 615.99l0.56 1.33 1.44 0.12 -1.09 0.94 0.33 1.41 -1.23 -0.75 -1.23 0.75 0.33 -1.41 -1.09 -0.94 1.44 -0.12zM674.04 615.99l0.56 1.33 1.44 0.12 -1.09 0.94 0.33 1.41 -1.23 -0.75 -1.23 0.75 0.33 -1.41 -1.09 -0.94 1.44 -0.12zM678.64 615.99l0.56 1.33 1.44 0.12 -1.09 0.94 0.33 1.41 -1.23 -0.75 -1.23 0.75 0.33 -1.41 -1.09 -0.94 1.44 -0.12z"/>
<g fill="#000" font-size="12.1"><text transform="translate(148.2,105.86) scale(0.9504,1)" text-anchor="end">Starch&#160;%(NCRF)</text><text transform="translate(164.56,90.50) rotate(-90) scale(0.9504,1)">Starch&#160;%(NCRF)</text><text transform="translate(148.2,120.58) scale(0.9504,1)" text-anchor="end">Amylose&#160;%(NCRF)</text><text transform="translate(179.32,105.22) rotate(-90) scale(0.9504,1)">Amylose&#160;%(NCRF)</text><text transform="translate(148.2,135.31) scale(0.9504,1)" text-anchor="end">Total&#160;protein&#160;%(NCRF)</text><text transform="translate(194.08,119.94) rotate(-90) scale(0.9504,1)">Total&#160;protein&#160;%(NCRF)</text><text transform="translate(148.2,150.03) scale(0.9504,1)" text-anchor="end">Antioxidant&#160;activity(NCRF)</text><text transform="translate(208.84,134.67) rotate(-90) scale(0.9504,1)">Antioxidant&#160;activity(NCRF)</text><text transform="translate(148.2,164.75) scale(0.9504,1)" text-anchor="end">Digestibility&#160;%(NCRF)</text><text transform="translate(223.60,149.39) rotate(-90) scale(0.9504,1)">Digestibility&#160;%(NCRF)</text><text transform="translate(148.2,179.47) scale(0.9504,1)" text-anchor="end">Released&#160;peptides&#160;%(NCRF)</text><text transform="translate(238.36,164.11) rotate(-90) scale(0.9504,1)">Released&#160;peptides&#160;%(NCRF)</text><text transform="translate(148.2,194.19) scale(0.9504,1)" text-anchor="end">Amide&#160;I(NCRF)</text><text transform="translate(253.12,178.83) rotate(-90) scale(0.9504,1)">Amide&#160;I(NCRF)</text><text transform="translate(148.2,208.92) scale(0.9504,1)" text-anchor="end">Amide&#160;II(NCRF)</text><text transform="translate(267.88,193.56) rotate(-90) scale(0.9504,1)">Amide&#160;II(NCRF)</text><text transform="translate(148.2,223.64) scale(0.9504,1)" text-anchor="end">Albumin&#160;%&#160;NCRF</text><text transform="translate(282.63,208.28) rotate(-90) scale(0.9504,1)">Albumin&#160;%&#160;NCRF</text><text transform="translate(148.2,238.36) scale(0.9504,1)" text-anchor="end">Globulin&#160;%&#160;NCRF</text><text transform="translate(297.39,223.00) rotate(-90) scale(0.9504,1)">Globulin&#160;%&#160;NCRF</text><text transform="translate(148.2,253.08) scale(0.9504,1)" text-anchor="end">Glutelin&#160;basic%&#160;NCRF</text><text transform="translate(312.15,237.72) rotate(-90) scale(0.9504,1)">Glutelin&#160;basic%&#160;NCRF</text><text transform="translate(148.2,267.81) scale(0.9504,1)" text-anchor="end">Prolamin&#160;%&#160;&#160;NCRF</text><text transform="translate(326.91,252.44) rotate(-90) scale(0.9504,1)">Prolamin&#160;%&#160;&#160;NCRF</text><text transform="translate(148.2,282.53) scale(0.9504,1)" text-anchor="end">Springiness&#160;NCRF</text><text transform="translate(341.67,267.17) rotate(-90) scale(0.9504,1)">Springiness&#160;NCRF</text><text transform="translate(148.2,297.25) scale(0.9504,1)" text-anchor="end">Cohesiveness&#160;NCRF</text><text transform="translate(356.43,281.89) rotate(-90) scale(0.9504,1)">Cohesiveness&#160;NCRF</text><text transform="translate(148.2,311.97) scale(0.9504,1)" text-anchor="end">Adhesiveness&#160;of&#160;NCRF</text><text transform="translate(371.19,296.61) rotate(-90) scale(0.9504,1)">Adhesiveness&#160;of&#160;NCRF</text><text transform="translate(148.2,326.69) scale(0.9504,1)" text-anchor="end">Hardness&#160;of&#160;NCRF</text><text transform="translate(385.95,311.33) rotate(-90) scale(0.9504,1)">Hardness&#160;of&#160;NCRF</text><text transform="translate(148.2,341.42) scale(0.9504,1)" text-anchor="end">Gumminess&#160;of&#160;NCRF</text><text transform="translate(400.71,326.06) rotate(-90) scale(0.9504,1)">Gumminess&#160;of&#160;NCRF</text><text transform="translate(148.2,356.14) scale(0.9504,1)" text-anchor="end">Chewiness&#160;of&#160;NCRF</text><text transform="translate(415.47,340.78) rotate(-90) scale(0.9504,1)">Chewiness&#160;of&#160;NCRF</text><text transform="translate(148.2,370.86) scale(0.9504,1)" text-anchor="end">Starch&#160;%(RCRF)</text><text transform="translate(430.23,355.50) rotate(-90) scale(0.9504,1)">Starch&#160;%(RCRF)</text><text transform="translate(148.2,385.58) scale(0.9504,1)" text-anchor="end">Amylose&#160;%(RCRF)</text><text transform="translate(444.99,370.22) rotate(-90) scale(0.9504,1)">Amylose&#160;%(RCRF)</text><text transform="translate(148.2,400.31) scale(0.9504,1)" text-anchor="end">Total&#160;protein&#160;%(RCRF)</text><text transform="translate(459.75,384.94) rotate(-90) scale(0.9504,1)">Total&#160;protein&#160;%(RCRF)</text><text transform="translate(148.2,415.03) scale(0.9504,1)" text-anchor="end">Antioxidant&#160;activity(RCRF)</text><text transform="translate(474.50,399.67) rotate(-90) scale(0.9504,1)">Antioxidant&#160;activity(RCRF)</text><text transform="translate(148.2,429.75) scale(0.9504,1)" text-anchor="end">Digestibility&#160;%(RCRF)</text><text transform="translate(489.26,414.39) rotate(-90) scale(0.9504,1)">Digestibility&#160;%(RCRF)</text><text transform="translate(148.2,444.47) scale(0.9504,1)" text-anchor="end">Released&#160;peptides&#160;%(RCRF)</text><text transform="translate(504.02,429.11) rotate(-90) scale(0.9504,1)">Released&#160;peptides&#160;%(RCRF)</text><text transform="translate(148.2,459.19) scale(0.9504,1)" text-anchor="end">Amide&#160;I(RCRF)</text><text transform="translate(518.78,443.83) rotate(-90) scale(0.9504,1)">Amide&#160;I(RCRF)</text><text transform="translate(148.2,473.92) scale(0.9504,1)" text-anchor="end">Amide&#160;II(RCRF)</text><text transform="translate(533.54,458.56) rotate(-90) scale(0.9504,1)">Amide&#160;II(RCRF)</text><text transform="translate(148.2,488.64) scale(0.9504,1)" text-anchor="end">Albumin&#160;%&#160;RCRF</text><text transform="translate(548.30,473.28) rotate(-90) scale(0.9504,1)">Albumin&#160;%&#160;RCRF</text><text transform="translate(148.2,503.36) scale(0.9504,1)" text-anchor="end">Globulin&#160;%&#160;RCRF</text><text transform="translate(563.06,488.00) rotate(-90) scale(0.9504,1)">Globulin&#160;%&#160;RCRF</text><text transform="translate(148.2,518.08) scale(0.9504,1)" text-anchor="end">Glutelin&#160;basic%&#160;RCRF</text><text transform="translate(577.82,502.72) rotate(-90) scale(0.9504,1)">Glutelin&#160;basic%&#160;RCRF</text><text transform="translate(148.2,532.81) scale(0.9504,1)" text-anchor="end">Prolamin&#160;%&#160;RCRF</text><text transform="translate(592.58,517.44) rotate(-90) scale(0.9504,1)">Prolamin&#160;%&#160;RCRF</text><text transform="translate(148.2,547.53) scale(0.9504,1)" text-anchor="end">Springiness&#160;RCRF</text><text transform="translate(607.34,532.17) rotate(-90) scale(0.9504,1)">Springiness&#160;RCRF</text><text transform="translate(148.2,562.25) scale(0.9504,1)" text-anchor="end">Cohesiveness&#160;RCRF</text><text transform="translate(622.10,546.89) rotate(-90) scale(0.9504,1)">Cohesiveness&#160;RCRF</text><text transform="translate(148.2,576.97) scale(0.9504,1)" text-anchor="end">Adhesiveness&#160;RCRF</text><text transform="translate(636.86,561.61) rotate(-90) scale(0.9504,1)">Adhesiveness&#160;RCRF</text><text transform="translate(148.2,591.69) scale(0.9504,1)" text-anchor="end">Hardness&#160;of&#160;RCRF</text><text transform="translate(651.62,576.33) rotate(-90) scale(0.9504,1)">Hardness&#160;of&#160;RCRF</text><text transform="translate(148.2,606.42) scale(0.9504,1)" text-anchor="end">Gumminess&#160;of&#160;RCRF</text><text transform="translate(666.37,591.06) rotate(-90) scale(0.9504,1)">Gumminess&#160;of&#160;RCRF</text><text transform="translate(148.2,621.14) scale(0.9504,1)" text-anchor="end">Chewiness&#160;of&#160;RCRF</text><text transform="translate(681.13,605.78) rotate(-90) scale(0.9504,1)">Chewiness&#160;of&#160;RCRF</text></g>
<g stroke="none"><rect x="153.50" y="635.5" width="6.3" height="19.8" fill="#ff0303"/><rect x="158.80" y="635.5" width="6.3" height="19.8" fill="#ff0808"/><rect x="164.10" y="635.5" width="6.3" height="19.8" fill="#ff0d0d"/><rect x="169.40" y="635.5" width="6.3" height="19.8" fill="#ff1212"/><rect x="174.70" y="635.5" width="6.3" height="19.8" fill="#ff1717"/><rect x="180.00" y="635.5" width="6.3" height="19.8" fill="#ff1c1c"/><rect x="185.30" y="635.5" width="6.3" height="19.8" fill="#ff2121"/><rect x="190.60" y="635.5" width="6.3" height="19.8" fill="#ff2626"/><rect x="195.90" y="635.5" width="6.3" height="19.8" fill="#ff2b2b"/><rect x="201.20" y="635.5" width="6.3" height="19.8" fill="#ff3030"/><rect x="206.50" y="635.5" width="6.3" height="19.8" fill="#ff3636"/><rect x="211.80" y="635.5" width="6.3" height="19.8" fill="#ff3b3b"/><rect x="217.10" y="635.5" width="6.3" height="19.8" fill="#ff4040"/><rect x="222.40" y="635.5" width="6.3" height="19.8" fill="#ff4545"/><rect x="227.70" y="635.5" width="6.3" height="19.8" fill="#ff4a4a"/><rect x="233.00" y="635.5" width="6.3" height="19.8" fill="#ff4f4f"/><rect x="238.30" y="635.5" width="6.3" height="19.8" fill="#ff5454"/><rect x="243.60" y="635.5" width="6.3" height="19.8" fill="#ff5959"/><rect x="248.90" y="635.5" width="6.3" height="19.8" fill="#ff5e5e"/><rect x="254.20" y="635.5" width="6.3" height="19.8" fill="#ff6363"/><rect x="259.50" y="635.5" width="6.3" height="19.8" fill="#ff6969"/><rect x="264.80" y="635.5" width="6.3" height="19.8" fill="#ff6e6e"/><rect x="270.10" y="635.5" width="6.3" height="19.8" fill="#ff7373"/><rect x="275.40" y="635.5" width="6.3" height="19.8" fill="#ff7878"/><rect x="280.70" y="635.5" width="6.3" height="19.8" fill="#ff7d7d"/><rect x="286.00" y="635.5" width="6.3" height="19.8" fill="#ff8282"/><rect x="291.30" y="635.5" width="6.3" height="19.8" fill="#ff8787"/><rect x="296.60" y="635.5" width="6.3" height="19.8" fill="#ff8c8c"/><rect x="301.90" y="635.5" width="6.3" height="19.8" fill="#ff9191"/><rect x="307.20" y="635.5" width="6.3" height="19.8" fill="#ff9696"/><rect x="312.50" y="635.5" width="6.3" height="19.8" fill="#ff9c9c"/><rect x="317.80" y="635.5" width="6.3" height="19.8" fill="#ffa1a1"/><rect x="323.10" y="635.5" width="6.3" height="19.8" fill="#ffa6a6"/><rect x="328.40" y="635.5" width="6.3" height="19.8" fill="#ffabab"/><rect x="333.70" y="635.5" width="6.3" height="19.8" fill="#ffb0b0"/><rect x="339.00" y="635.5" width="6.3" height="19.8" fill="#ffb5b5"/><rect x="344.30" y="635.5" width="6.3" height="19.8" fill="#ffbaba"/><rect x="349.60" y="635.5" width="6.3" height="19.8" fill="#ffbfbf"/><rect x="354.90" y="635.5" width="6.3" height="19.8" fill="#ffc4c4"/><rect x="360.20" y="635.5" width="6.3" height="19.8" fill="#ffc9c9"/><rect x="365.50" y="635.5" width="6.3" height="19.8" fill="#ffcfcf"/><rect x="370.80" y="635.5" width="6.3" height="19.8" fill="#ffd4d4"/><rect x="376.10" y="635.5" width="6.3" height="19.8" fill="#ffd9d9"/><rect x="381.40" y="635.5" width="6.3" height="19.8" fill="#ffdede"/><rect x="386.70" y="635.5" width="6.3" height="19.8" fill="#ffe3e3"/><rect x="392.00" y="635.5" width="6.3" height="19.8" fill="#ffe8e8"/><rect x="397.30" y="635.5" width="6.3" height="19.8" fill="#ffeded"/><rect x="402.60" y="635.5" width="6.3" height="19.8" fill="#fff2f2"/><rect x="407.90" y="635.5" width="6.3" height="19.8" fill="#fff7f7"/><rect x="413.20" y="635.5" width="6.3" height="19.8" fill="#fffcfc"/><rect x="418.50" y="635.5" width="6.3" height="19.8" fill="#fdfdff"/><rect x="423.80" y="635.5" width="6.3" height="19.8" fill="#f9f8ff"/><rect x="429.10" y="635.5" width="6.3" height="19.8" fill="#f4f3ff"/><rect x="434.40" y="635.5" width="6.3" height="19.8" fill="#f0eeff"/><rect x="439.70" y="635.5" width="6.3" height="19.8" fill="#eceaff"/><rect x="445.00" y="635.5" width="6.3" height="19.8" fill="#e7e5ff"/><rect x="450.30" y="635.5" width="6.3" height="19.8" fill="#e3e0ff"/><rect x="455.60" y="635.5" width="6.3" height="19.8" fill="#dfdcff"/><rect x="460.90" y="635.5" width="6.3" height="19.8" fill="#dbd7ff"/><rect x="466.20" y="635.5" width="6.3" height="19.8" fill="#d6d2ff"/><rect x="471.50" y="635.5" width="6.3" height="19.8" fill="#d2cdff"/><rect x="476.80" y="635.5" width="6.3" height="19.8" fill="#cec9ff"/><rect x="482.10" y="635.5" width="6.3" height="19.8" fill="#cac4ff"/><rect x="487.40" y="635.5" width="6.3" height="19.8" fill="#c5bfff"/><rect x="492.70" y="635.5" width="6.3" height="19.8" fill="#c1bbff"/><rect x="498.00" y="635.5" width="6.3" height="19.8" fill="#bdb6ff"/><rect x="503.30" y="635.5" width="6.3" height="19.8" fill="#b8b1ff"/><rect x="508.60" y="635.5" width="6.3" height="19.8" fill="#b4acff"/><rect x="513.90" y="635.5" width="6.3" height="19.8" fill="#b0a8ff"/><rect x="519.20" y="635.5" width="6.3" height="19.8" fill="#aca3ff"/><rect x="524.50" y="635.5" width="6.3" height="19.8" fill="#a79eff"/><rect x="529.80" y="635.5" width="6.3" height="19.8" fill="#a39aff"/><rect x="535.10" y="635.5" width="6.3" height="19.8" fill="#9f95ff"/><rect x="540.40" y="635.5" width="6.3" height="19.8" fill="#9a90ff"/><rect x="545.70" y="635.5" width="6.3" height="19.8" fill="#968bff"/><rect x="551.00" y="635.5" width="6.3" height="19.8" fill="#9287ff"/><rect x="556.30" y="635.5" width="6.3" height="19.8" fill="#8e82ff"/><rect x="561.60" y="635.5" width="6.3" height="19.8" fill="#897dff"/><rect x="566.90" y="635.5" width="6.3" height="19.8" fill="#8578ff"/><rect x="572.20" y="635.5" width="6.3" height="19.8" fill="#8174ff"/><rect x="577.50" y="635.5" width="6.3" height="19.8" fill="#7c6fff"/><rect x="582.80" y="635.5" width="6.3" height="19.8" fill="#786aff"/><rect x="588.10" y="635.5" width="6.3" height="19.8" fill="#7466ff"/><rect x="593.40" y="635.5" width="6.3" height="19.8" fill="#7061ff"/><rect x="598.70" y="635.5" width="6.3" height="19.8" fill="#6b5cff"/><rect x="604.00" y="635.5" width="6.3" height="19.8" fill="#6757ff"/><rect x="609.30" y="635.5" width="6.3" height="19.8" fill="#6353ff"/><rect x="614.60" y="635.5" width="6.3" height="19.8" fill="#5e4eff"/><rect x="619.90" y="635.5" width="6.3" height="19.8" fill="#5a49ff"/><rect x="625.20" y="635.5" width="6.3" height="19.8" fill="#5645ff"/><rect x="630.50" y="635.5" width="6.3" height="19.8" fill="#5240ff"/><rect x="635.80" y="635.5" width="6.3" height="19.8" fill="#4d3bff"/><rect x="641.10" y="635.5" width="6.3" height="19.8" fill="#4936ff"/><rect x="646.40" y="635.5" width="6.3" height="19.8" fill="#4532ff"/><rect x="651.70" y="635.5" width="6.3" height="19.8" fill="#412dff"/><rect x="657.00" y="635.5" width="6.3" height="19.8" fill="#3c28ff"/><rect x="662.30" y="635.5" width="6.3" height="19.8" fill="#3824ff"/><rect x="667.60" y="635.5" width="6.3" height="19.8" fill="#341fff"/><rect x="672.90" y="635.5" width="6.3" height="19.8" fill="#2f1aff"/><rect x="678.20" y="635.5" width="5.3" height="19.8" fill="#2b15ff"/></g>
<rect x="153.5" y="635.5" width="530" height="19.8" fill="none" stroke="#000" stroke-width="1"/>
<g stroke="#000" stroke-width="1"><line x1="153.50" y1="655.4" x2="153.50" y2="660"/><line x1="206.50" y1="655.4" x2="206.50" y2="660"/><line x1="259.50" y1="655.4" x2="259.50" y2="660"/><line x1="312.50" y1="655.4" x2="312.50" y2="660"/><line x1="365.50" y1="655.4" x2="365.50" y2="660"/><line x1="418.50" y1="655.4" x2="418.50" y2="660"/><line x1="471.50" y1="655.4" x2="471.50" y2="660"/><line x1="524.50" y1="655.4" x2="524.50" y2="660"/><line x1="577.50" y1="655.4" x2="577.50" y2="660"/><line x1="630.50" y1="655.4" x2="630.50" y2="660"/><line x1="683.50" y1="655.4" x2="683.50" y2="660"/></g>
<g fill="#000" font-size="9.4"><text x="153.50" y="672.3" text-anchor="middle">−1</text><text x="206.50" y="672.3" text-anchor="middle">−0.8</text><text x="259.50" y="672.3" text-anchor="middle">−0.6</text><text x="312.50" y="672.3" text-anchor="middle">−0.4</text><text x="365.50" y="672.3" text-anchor="middle">−0.2</text><text x="418.50" y="672.3" text-anchor="middle">0</text><text x="471.50" y="672.3" text-anchor="middle">0.2</text><text x="524.50" y="672.3" text-anchor="middle">0.4</text><text x="577.50" y="672.3" text-anchor="middle">0.6</text><text x="630.50" y="672.3" text-anchor="middle">0.8</text><text x="683.50" y="672.3" text-anchor="middle">1</text></g>
</svg>
</body></html>
